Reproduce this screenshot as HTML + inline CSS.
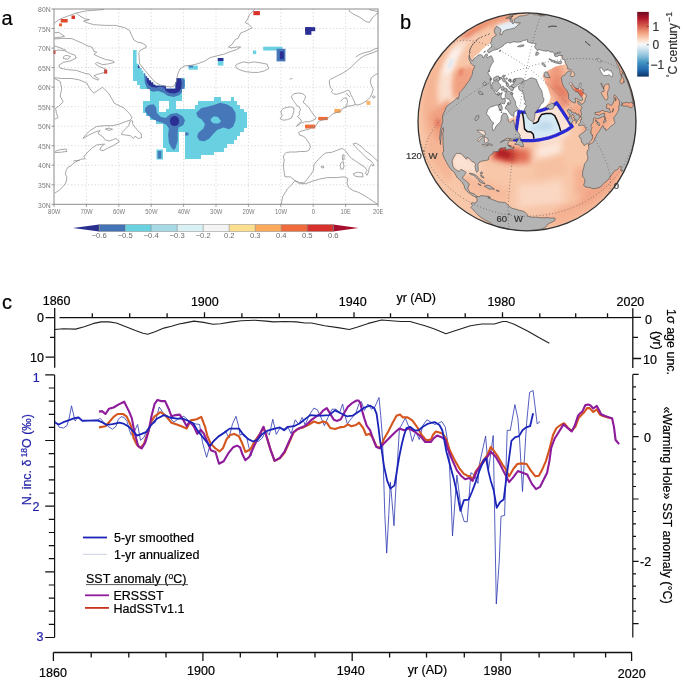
<!DOCTYPE html>
<html><head><meta charset="utf-8"><style>
html,body{margin:0;padding:0;background:#fff;}
svg{display:block;font-family:"Liberation Sans", sans-serif;will-change:transform;}
</style></head><body>
<svg width="685" height="684" viewBox="0 0 685 684">
<rect width="685" height="684" fill="#fff"/>
<text x="1.5" y="24.8" font-size="20" stroke="#000" stroke-width="0.2">a</text>
<path d="M86.4 9 V204.3 M118.8 9 V204.3 M151.2 9 V204.3 M183.6 9 V204.3 M216.0 9 V204.3 M248.4 9 V204.3 M280.8 9 V204.3 M313.2 9 V204.3 M345.6 9 V204.3 M54 28.5 H378 M54 48.1 H378 M54 67.6 H378 M54 87.1 H378 M54 106.7 H378 M54 126.2 H378 M54 145.7 H378 M54 165.2 H378 M54 184.8 H378 " stroke="#d4d4d4" stroke-width="0.9" stroke-dasharray="1.2,2.2" fill="none"/>
<defs><clipPath id="cym"><path d="M133.38 50.00h6.50v3.92h-6.50ZM133.38 53.91h6.50v3.92h-6.50ZM133.38 57.81h6.50v3.92h-6.50ZM133.38 61.72h6.50v3.92h-6.50ZM133.38 65.62h9.74v3.92h-9.74ZM133.38 69.53h12.98v3.92h-12.98ZM133.38 73.43h16.22v3.92h-16.22ZM178.74 73.43h6.50v3.92h-6.50ZM133.38 77.34h19.46v3.92h-19.46ZM175.50 77.34h9.74v3.92h-9.74ZM136.62 81.24h32.42v3.92h-32.42ZM172.26 81.24h12.98v3.92h-12.98ZM139.86 85.15h45.38v3.92h-45.38ZM149.58 89.05h32.42v3.92h-32.42ZM149.58 92.96h32.42v3.92h-32.42ZM149.58 96.86h32.42v3.92h-32.42ZM214.38 96.86h6.50v3.92h-6.50ZM230.58 96.86h3.26v3.92h-3.26ZM143.10 100.77h16.22v3.92h-16.22ZM169.02 100.77h6.50v3.92h-6.50ZM198.18 100.77h38.90v3.92h-38.90ZM143.10 104.67h16.22v3.92h-16.22ZM169.02 104.67h6.50v3.92h-6.50ZM194.94 104.67h45.38v3.92h-45.38ZM143.10 108.58h16.22v3.92h-16.22ZM165.78 108.58h77.78v3.92h-77.78ZM146.34 112.48h100.46v3.92h-100.46ZM149.58 116.39h97.22v3.92h-97.22ZM156.06 120.29h90.74v3.92h-90.74ZM162.54 124.20h84.26v3.92h-84.26ZM162.54 128.10h81.02v3.92h-81.02ZM162.54 132.01h16.22v3.92h-16.22ZM185.22 132.01h55.10v3.92h-55.10ZM162.54 135.91h16.22v3.92h-16.22ZM185.22 135.91h51.86v3.92h-51.86ZM162.54 139.82h16.22v3.92h-16.22ZM185.22 139.82h48.62v3.92h-48.62ZM162.54 143.72h16.22v3.92h-16.22ZM185.22 143.72h42.14v3.92h-42.14ZM165.78 147.63h12.98v3.92h-12.98ZM185.22 147.63h38.90v3.92h-38.90ZM185.22 151.53h29.18v3.92h-29.18ZM185.22 155.44h16.22v3.92h-16.22Z"/></clipPath><clipPath id="sea"><polygon points="120,45 136.6,45 136.6,50.6 136.6,63.8 138.8,63.8 138.8,66.4 139.6,66.4 139.6,68.1 141.4,68.1 141.4,70.8 143.1,70.8 143.1,73.4 145.3,73.4 145.3,76 147.1,76 147.1,78.2 148.8,78.2 148.8,80.4 151,80.4 151,82.6 153.2,82.6 153.2,84.8 155.4,84.8 155.4,85.7 165.9,85.7 165.9,88.7 175.5,88.7 175.5,82.2 176.4,82.2 176.4,78.2 182.5,78.2 186.5,78.2 186.5,90 260,90 260,170 120,170"/></clipPath></defs>
<g clip-path="url(#sea)">
<g fill="#68d0e1" shape-rendering="crispEdges"><path d="M133.38 50.00h6.50v3.92h-6.50ZM133.38 53.91h6.50v3.92h-6.50ZM133.38 57.81h6.50v3.92h-6.50ZM133.38 61.72h6.50v3.92h-6.50ZM133.38 65.62h9.74v3.92h-9.74ZM133.38 69.53h12.98v3.92h-12.98ZM133.38 73.43h16.22v3.92h-16.22ZM178.74 73.43h6.50v3.92h-6.50ZM133.38 77.34h19.46v3.92h-19.46ZM175.50 77.34h9.74v3.92h-9.74ZM136.62 81.24h32.42v3.92h-32.42ZM172.26 81.24h12.98v3.92h-12.98ZM139.86 85.15h45.38v3.92h-45.38ZM149.58 89.05h32.42v3.92h-32.42ZM149.58 92.96h32.42v3.92h-32.42ZM149.58 96.86h32.42v3.92h-32.42ZM214.38 96.86h6.50v3.92h-6.50ZM230.58 96.86h3.26v3.92h-3.26ZM143.10 100.77h16.22v3.92h-16.22ZM169.02 100.77h6.50v3.92h-6.50ZM198.18 100.77h38.90v3.92h-38.90ZM143.10 104.67h16.22v3.92h-16.22ZM169.02 104.67h6.50v3.92h-6.50ZM194.94 104.67h45.38v3.92h-45.38ZM143.10 108.58h16.22v3.92h-16.22ZM165.78 108.58h77.78v3.92h-77.78ZM146.34 112.48h100.46v3.92h-100.46ZM149.58 116.39h97.22v3.92h-97.22ZM156.06 120.29h90.74v3.92h-90.74ZM162.54 124.20h84.26v3.92h-84.26ZM162.54 128.10h81.02v3.92h-81.02ZM162.54 132.01h16.22v3.92h-16.22ZM185.22 132.01h55.10v3.92h-55.10ZM162.54 135.91h16.22v3.92h-16.22ZM185.22 135.91h51.86v3.92h-51.86ZM162.54 139.82h16.22v3.92h-16.22ZM185.22 139.82h48.62v3.92h-48.62ZM162.54 143.72h16.22v3.92h-16.22ZM185.22 143.72h42.14v3.92h-42.14ZM165.78 147.63h12.98v3.92h-12.98ZM185.22 147.63h38.90v3.92h-38.90ZM185.22 151.53h29.18v3.92h-29.18ZM185.22 155.44h16.22v3.92h-16.22Z"/></g>
<g clip-path="url(#cym)">
<polygon points="139,66 142,70 144,74.3 144.9,83 147.5,89.2 152.8,91.8 158,90.9 163.3,92.7 167.7,95.7 173.8,97 179,95.3 182.5,91.8 184.7,86.5 184.7,80.4 182.5,77 178,75 174,82 168,84 156,83 150,78 145,72 141,66" fill="#4677b8"/>
<polygon points="146.6,77 146.6,81.3 148.4,84.8 151.9,87 156.3,87.4 160.6,86.5 164.2,87.4 165.9,90.9 169.4,93.1 174.7,93.5 179,91.8 181.2,88.3 181.7,83 180.8,78.6 178,77 176,79 175,87 166,86 156,84.5 151,81 148,77.5" fill="#2b2f93"/>
<rect x="137.9" y="65.3" width="1.9" height="2.8" fill="#2b2f93"/>
<polygon points="145.6,107.5 148.8,105.1 153.7,104.3 156.1,107.5 156.9,113.1 160.9,117.1 165.7,117.9 170.5,113.9 176.9,113.1 182.6,116.3 185,120.3 183.4,125.1 178.5,127.6 177.7,133.2 177.7,141.2 175.3,148.4 173.7,150 171.3,147.6 168.9,142.8 168.1,134.8 168.9,128.4 166.5,125.1 162.5,122.7 156.1,121.1 151.2,117.9 147.2,114.7 144.8,110.7" fill="#4677b8"/>
<polygon points="196.2,113.1 201,108.3 207.4,106.7 213.9,105.1 220.3,102.7 226.7,104.3 232.3,107.5 235.6,113.1 235.6,120.3 233.1,126.8 229.1,129.2 223.5,127.6 217.1,130 213.1,134 209.1,138.8 204.2,141.2 199.4,140.4 197,136.4 198.6,132.4 203.4,128.4 205,124.3 201.8,119.5 197.8,117.1" fill="#4677b8"/>
<polygon points="210.7,118.7 213.9,116.3 217.9,117.1 221.1,121.1 218.7,123.5 213.9,123.5 211,121.6" fill="#68d0e1"/>
<ellipse cx="174.5" cy="121.1" rx="4.6" ry="5" fill="#2b2f93"/>
<ellipse cx="186.6" cy="134" rx="2.2" ry="1.8" fill="#4677b8"/>
</g></g>
<rect x="156.5" y="149.5" width="6.5" height="10" fill="#68d0e1"/>
<rect x="157.7" y="151" width="3.6" height="7.5" fill="#4677b8"/>
<rect x="188.6" y="65.6" width="9.2" height="4.1" fill="#68d0e1"/>
<rect x="188.6" y="65.6" width="4.4" height="1.8" fill="#4677b8"/>
<rect x="217.8" y="58" width="5.6" height="7.6" fill="#68d0e1"/>
<rect x="217.8" y="58" width="5.6" height="3" fill="#2b2f93"/>
<rect x="253" y="50.5" width="3.2" height="3.6" fill="#68d0e1"/>
<rect x="263.2" y="46.7" width="19.2" height="3.8" fill="#68d0e1"/>
<rect x="276.6" y="48.8" width="8.8" height="12.6" fill="#4677b8"/>
<rect x="279.8" y="51.4" width="4" height="7.9" fill="#2b2f93"/>
<rect x="305.2" y="27.2" width="10" height="4" fill="#2b2f93"/>
<rect x="305.2" y="27.2" width="6.2" height="7.6" fill="#2b2f93"/>
<rect x="60.7" y="19" width="7" height="3.5" fill="#df4b2c"/>
<rect x="59" y="23.4" width="3" height="2.9" fill="#e8643a"/>
<rect x="71.5" y="15.5" width="3.5" height="3.5" fill="#d9362a"/>
<rect x="53.4" y="50.2" width="2.1" height="3.8" fill="#d9362a"/>
<rect x="104" y="69.5" width="3.2" height="4.1" fill="#d9362a"/>
<rect x="253.4" y="11.1" width="6.5" height="4.1" fill="#d8302a"/>
<rect x="305" y="124.6" width="10.3" height="3.9" fill="#ee6b3b"/>
<rect x="318.2" y="116.9" width="9.6" height="3.2" fill="#ee6b3b"/>
<rect x="334.3" y="108.9" width="6.4" height="4" fill="#fbaa5c"/>
<rect x="366.4" y="100.9" width="4" height="4" fill="#fbb46a"/>
<polyline points="54.5,23.2 58.8,19.6 66.1,16.7 76.3,13 86.5,10.8 96.7,10.1 104,9.5" fill="none" stroke="#8a8a8a" stroke-width="0.75" stroke-linejoin="round"/>
<polyline points="76.3,13 80,16 85,18.9 89.4,19.6 83.6,21.1 88.7,23.2 93.8,24.7 105.5,25.4 115.7,25.4 124.5,27.6 129.6,30.5 131.8,35.7 133.9,40 137.6,42.2 142,43 145.6,45.1 146.4,47.3 143.4,48.8 140,50.5 138.8,52.4 139.2,57.6 139.6,63.8 143.1,68.1 147.5,73.4 151.9,78.6 156.3,83 160.6,85.2 166.8,86.5 171.2,87 174.7,85.7 176.4,81.3 177.7,74.3 179.9,69 184.3,66 187.8,65.5 190.8,65.4 197.8,63.7 204.8,61.1 210.1,57.6 217.1,55.8 224.1,54.1 231.1,51.4 236.4,49.7 240.7,47 237.2,47 231.1,47.9 228.5,47 232,44.4 235.5,39.2 238.1,38.3 240.7,33 245.1,31.3 248.6,29.5 252.1,27.8 248.6,24.3 245.1,22.5 247.7,19 249.5,14.6 252.1,12 254.8,9.5" fill="none" stroke="#8a8a8a" stroke-width="0.75" stroke-linejoin="round"/>
<polyline points="54.4,32.7 58.8,32.5 64.6,36.4 60,37.2 54.4,37.8" fill="none" stroke="#8a8a8a" stroke-width="0.75" stroke-linejoin="round"/>
<polyline points="54.4,39 62,38.4 71.9,38.6 76,40.5 82.1,43 86.5,45.5 92.3,47.3 93.9,51.4 96.8,52.2 93.9,54.4 98.2,56.5 105.6,59.5 112.9,60.9 114.3,62.4 108.5,63.9 102.6,64.6 96.8,62.4 95.3,63.9 99.7,66.8 105.6,69 104.1,72.6 98.2,74.1 93.9,75.6 99,79.2 98.2,80.2 92.4,77.7 89.5,74.1 85.1,73.4 76.3,70.4 67.5,69.7 60.2,68.2 58.8,65.3 63.2,62.4 70.5,60.9 76.3,58 74.9,55.1 70.5,53.6 64.6,50.7 58.8,50 54.4,50.7" fill="none" stroke="#8a8a8a" stroke-width="0.75" stroke-linejoin="round"/>
<polyline points="54.4,46 58.8,47.3 66.1,50.3" fill="none" stroke="#8a8a8a" stroke-width="0.75" stroke-linejoin="round"/>
<polyline points="63.2,57 66,55.2 70.5,56.5 68,59.3 63.5,58.6 63.2,57" fill="none" stroke="#8a8a8a" stroke-width="0.75" stroke-linejoin="round"/>
<polyline points="54.4,77.7 61.7,78.5 71.9,78.5 79.2,79.9 86.5,82.9 90.9,90.2 93.9,93.1 98.2,90.2 102.6,87.3 108.5,93.1 112.6,100 114.2,103.2 119.1,105.6 123.9,108 127.1,111.2 130.3,114.5 131.9,117.7 130.3,120.1 125.5,121.7 119.1,124.1 112.6,125.7 104.6,125.7 96.6,126.5 90.1,130.5 85.3,135.3 82.9,138.5 88.5,135.3 95,132.1 99.8,130.5 98.2,133.7 103,136.9 105.4,140.1 109.4,141 113.4,139.3 115.8,138.5 119.1,141 119.1,141.8 114.2,145 107.8,148.2 103,150.6 99.8,149.8 101.4,146.6 104.6,144.2 103,144.2 96.6,145 91.8,148.2 86.9,153 83.7,157 85.3,158.6 80.5,159.4 75.7,161.8 73.3,163.4 70.9,165.8 67.7,167.4 66.1,170.7 65.3,173.9 66.9,177.1 66.1,181.9 64.5,185.1 59.6,189.9 54.8,193.1" fill="none" stroke="#8a8a8a" stroke-width="0.75" stroke-linejoin="round"/>
<polyline points="54.4,78.5 60.2,81.4 61.7,88.7 60.2,96 63.2,101.9 58.8,106.3 55.6,108 56.4,112.8 58,117.7 55,119" fill="none" stroke="#8a8a8a" stroke-width="0.75" stroke-linejoin="round"/>
<polyline points="130.3,120.9 128.7,125.7 125.5,128.9 122.3,132.1 121.5,134.5 125.5,135 130.3,135.7 133.5,138.5 135.1,136.1 138.3,138.5 141.5,137.7 141.2,133.7 138.3,131.3 135.1,127.3 132.7,124.1 132.7,120.9 130.3,120.9" fill="none" stroke="#8a8a8a" stroke-width="0.75" stroke-linejoin="round"/>
<polyline points="105.4,129 109,128.1 112.6,129.3 109,130.5 105.4,129" fill="none" stroke="#8a8a8a" stroke-width="0.75" stroke-linejoin="round"/>
<polyline points="54.8,151.4 59.6,149.8 66.1,149 66.9,151.4 61.2,152.2 54.8,152.6" fill="none" stroke="#8a8a8a" stroke-width="0.75" stroke-linejoin="round"/>
<polyline points="73.3,161 79.7,160.2" fill="none" stroke="#8a8a8a" stroke-width="0.75" stroke-linejoin="round"/>
<polyline points="235.5,65.4 238.1,63.7 243.4,61.9 248.6,62.8 253.9,61.9 260,62.8 264,63.5 267.2,64.2 268.6,68.6 264,71 258.4,72.4 252.1,72.4 245.1,71.6 239.9,69.8 236.4,68.1 235.5,65.4" fill="none" stroke="#8a8a8a" stroke-width="0.75" stroke-linejoin="round"/>
<polyline points="289.8,79 292.4,78.6" fill="none" stroke="#8a8a8a" stroke-width="0.75" stroke-linejoin="round"/>
<polyline points="349.3,9.5 349.3,11.1 352.9,13.8 359.9,17.3 366,21.6 369.5,22.5 372.1,18.1 375.6,14.6 378.3,12.9" fill="none" stroke="#8a8a8a" stroke-width="0.75" stroke-linejoin="round"/>
<polyline points="369,9.5 373,10.5 378,11.5" fill="none" stroke="#8a8a8a" stroke-width="0.75" stroke-linejoin="round"/>
<polyline points="355.8,56.9 359.9,54.3 364,52.8 368.1,51.8 370.2,51.3 374.3,49.2 377.3,48.2 378,47.9" fill="none" stroke="#8a8a8a" stroke-width="0.75" stroke-linejoin="round"/>
<polyline points="378,50.5 372,53 365,55.4 361,57.9 357.9,60.5 354.8,63.5 350.7,67.6 346.6,70.7 342.5,73.3 338.4,75.3 334.3,77.4 330.2,79.4 329.2,81 329.7,85 330.8,88.1 332.8,90.2 331.3,91.7 333.3,93.8 336.4,94.3 340.5,93.2 344.6,91.7 347.6,90.2 349.7,91.2 350.7,94.3 352.8,98.4 354.3,101.4 355.3,104.5 357.9,105 361,104 364,102.5 367.1,100.4 370.2,97.3 372.2,93.2 373.2,89.1 371.2,85 370.2,81 371.2,77.9 374.3,75.3 377.3,73.8 378,73.5" fill="none" stroke="#8a8a8a" stroke-width="0.75" stroke-linejoin="round"/>
<polyline points="372.2,96.5 374,95.8 375.3,97 373.5,98.4 372.2,96.5" fill="none" stroke="#8a8a8a" stroke-width="0.75" stroke-linejoin="round"/>
<polyline points="340.5,101.4 343.5,98.4 346.6,97.8 347.6,101.4 346.6,105.5 345,107.5 342.5,108.5 340.5,111.5 336.4,112.6 333.3,113.6 330.8,115.6 328.2,118.2 324.1,119.7 320,120.7 318,121.8 317,124.3 313.9,127.4 310.8,127.9 308.8,129.4 305.7,130 301.6,131 298.5,132.5 299.6,135.1 303.1,136.1 305.7,138.1 307.7,141.2 309.8,144.3 310.3,147.4 308.8,150.4 305.7,151.5 300.6,151.5 295.5,152 290.4,152 286.3,152.5 284.2,154.5 283.4,157 284.2,159.9 283.4,166.1 284.2,172.2 285,176.8 290.3,176.8 294.9,180.6 299.5,182.5 304.1,182.9 307.2,179.1 310.3,175.3 313.3,170.7 314.1,164.5 317.9,159.9 322.5,155.3 325.6,153 331.7,152.3 337.8,150 342.4,148.4 345.5,150.7 348.6,155.3 351.6,158.4 356.2,161.5 360.8,164.5 365.4,167.6 367,170.7 365.4,173 367,175.3 368.5,172.2 369.3,167.6 371.6,164.5 373.1,166.1 374,165 371,161 367,158.4 362.4,153.8 357.8,149.2 354.7,146.1 353.2,143.8 356.2,143.1 360.8,146.1 365.4,150.7 371.6,155.3 376.2,159.9 378,161.5" fill="none" stroke="#8a8a8a" stroke-width="0.75" stroke-linejoin="round"/>
<polyline points="345,107.5 348,106 352,105.7 355.3,104.5" fill="none" stroke="#8a8a8a" stroke-width="0.75" stroke-linejoin="round"/>
<polyline points="346.5,93 348,95 350,97" fill="none" stroke="#8a8a8a" stroke-width="0.75" stroke-linejoin="round"/>
<polyline points="291.4,96.2 294.4,93.6 298.5,93.1 302.6,93.6 305.7,96.2 304.7,99.3 303.1,102.3 305.7,104.4 308.8,107.4 311.3,111.5 313.9,115.1 315.9,117.2 315.4,119.2 311.8,120.7 308.8,121.8 304.7,121.8 300.6,123.3 296.5,126.4 298.5,123.8 301.6,121.3 300.1,118.7 297.5,116.7 299.6,114.6 299.1,112.1 300.6,110 299.6,107.4 297,105.9 295.5,103.4 293.9,101.3 292.4,99.3 291.4,96.2" fill="none" stroke="#8a8a8a" stroke-width="0.75" stroke-linejoin="round"/>
<polyline points="281.1,111 283.2,108.5 286.8,107.4 290.4,106.9 293.9,108 293.9,111 292.9,114.6 291.4,118.2 287.3,119.7 283.2,120.2 280.1,118.7 282.2,115.6 281.1,113.1 281.1,111" fill="none" stroke="#8a8a8a" stroke-width="0.75" stroke-linejoin="round"/>
<polyline points="342.4,155.3 344,154.6 344,159.9 342.4,159.9 342.4,155.3" fill="none" stroke="#8a8a8a" stroke-width="0.75" stroke-linejoin="round"/>
<polyline points="340.9,163 343.2,161.5 344,166.1 343.2,169.1 340.9,169.1 340.1,165.3 340.9,163" fill="none" stroke="#8a8a8a" stroke-width="0.75" stroke-linejoin="round"/>
<polyline points="353.2,173.7 357.8,172.2 362.4,173 363.1,176.8 358.5,176.8 354.7,176 353.2,173.7" fill="none" stroke="#8a8a8a" stroke-width="0.75" stroke-linejoin="round"/>
<polyline points="321,166.5 323,166 324,167.5 322,168 321,166.5" fill="none" stroke="#8a8a8a" stroke-width="0.75" stroke-linejoin="round"/>
<polyline points="281.1,204.4 282.7,196.7 287.3,189 291.9,184.5 294.9,180.6 299.5,183.7 305.7,183.7 311.8,181.4 319.5,179.1 327.1,177.6 336.3,177.6 344,176.8 347.8,178.3 347,182.9 348.6,187.5 353.2,190.6 357.8,192.1 363.9,195.2 368.5,198.2 373.1,201.3 376.9,203.6" fill="none" stroke="#8a8a8a" stroke-width="0.75" stroke-linejoin="round"/>
<rect x="54" y="9" width="324" height="195.3" fill="none" stroke="#8c8c8c" stroke-width="1"/>
<path d="M51.5 9.0 H54 M51.5 28.5 H54 M51.5 48.1 H54 M51.5 67.6 H54 M51.5 87.1 H54 M51.5 106.7 H54 M51.5 126.2 H54 M51.5 145.7 H54 M51.5 165.2 H54 M51.5 184.8 H54 M51.5 204.3 H54 M54.0 204.3 V206.8 M86.4 204.3 V206.8 M118.8 204.3 V206.8 M151.2 204.3 V206.8 M183.6 204.3 V206.8 M216.0 204.3 V206.8 M248.4 204.3 V206.8 M280.8 204.3 V206.8 M313.2 204.3 V206.8 M345.6 204.3 V206.8 M378.0 204.3 V206.8 " stroke="#8c8c8c" stroke-width="0.9"/>
<text x="50.6" y="12.2" font-size="7.4" fill="#7a7a7a" text-anchor="end" textLength="12.5" lengthAdjust="spacingAndGlyphs">80N</text>
<text x="50.6" y="31.7" font-size="7.4" fill="#7a7a7a" text-anchor="end" textLength="12.5" lengthAdjust="spacingAndGlyphs">75N</text>
<text x="50.6" y="51.3" font-size="7.4" fill="#7a7a7a" text-anchor="end" textLength="12.5" lengthAdjust="spacingAndGlyphs">70N</text>
<text x="50.6" y="70.8" font-size="7.4" fill="#7a7a7a" text-anchor="end" textLength="12.5" lengthAdjust="spacingAndGlyphs">65N</text>
<text x="50.6" y="90.3" font-size="7.4" fill="#7a7a7a" text-anchor="end" textLength="12.5" lengthAdjust="spacingAndGlyphs">60N</text>
<text x="50.6" y="109.9" font-size="7.4" fill="#7a7a7a" text-anchor="end" textLength="12.5" lengthAdjust="spacingAndGlyphs">55N</text>
<text x="50.6" y="129.4" font-size="7.4" fill="#7a7a7a" text-anchor="end" textLength="12.5" lengthAdjust="spacingAndGlyphs">50N</text>
<text x="50.6" y="148.9" font-size="7.4" fill="#7a7a7a" text-anchor="end" textLength="12.5" lengthAdjust="spacingAndGlyphs">45N</text>
<text x="50.6" y="168.4" font-size="7.4" fill="#7a7a7a" text-anchor="end" textLength="12.5" lengthAdjust="spacingAndGlyphs">40N</text>
<text x="50.6" y="188.0" font-size="7.4" fill="#7a7a7a" text-anchor="end" textLength="12.5" lengthAdjust="spacingAndGlyphs">35N</text>
<text x="50.6" y="207.5" font-size="7.4" fill="#7a7a7a" text-anchor="end" textLength="12.5" lengthAdjust="spacingAndGlyphs">30N</text>
<text x="54.2" y="214" font-size="7.4" fill="#7a7a7a" text-anchor="middle" textLength="12.2" lengthAdjust="spacingAndGlyphs">80W</text>
<text x="86.6" y="214" font-size="7.4" fill="#7a7a7a" text-anchor="middle" textLength="12.2" lengthAdjust="spacingAndGlyphs">70W</text>
<text x="119.0" y="214" font-size="7.4" fill="#7a7a7a" text-anchor="middle" textLength="12.2" lengthAdjust="spacingAndGlyphs">60W</text>
<text x="151.4" y="214" font-size="7.4" fill="#7a7a7a" text-anchor="middle" textLength="12.2" lengthAdjust="spacingAndGlyphs">50W</text>
<text x="183.8" y="214" font-size="7.4" fill="#7a7a7a" text-anchor="middle" textLength="12.2" lengthAdjust="spacingAndGlyphs">40W</text>
<text x="216.2" y="214" font-size="7.4" fill="#7a7a7a" text-anchor="middle" textLength="12.2" lengthAdjust="spacingAndGlyphs">30W</text>
<text x="248.6" y="214" font-size="7.4" fill="#7a7a7a" text-anchor="middle" textLength="12.2" lengthAdjust="spacingAndGlyphs">20W</text>
<text x="281.0" y="214" font-size="7.4" fill="#7a7a7a" text-anchor="middle" textLength="12.2" lengthAdjust="spacingAndGlyphs">10W</text>
<text x="313.4" y="214" font-size="7.4" fill="#7a7a7a" text-anchor="middle" textLength="3.3" lengthAdjust="spacingAndGlyphs">0</text>
<text x="345.8" y="214" font-size="7.4" fill="#7a7a7a" text-anchor="middle" textLength="10.5" lengthAdjust="spacingAndGlyphs">10E</text>
<text x="378.2" y="214" font-size="7.4" fill="#7a7a7a" text-anchor="middle" textLength="10.5" lengthAdjust="spacingAndGlyphs">20E</text>
<polygon points="72.8,228 99.2,224.5 99.2,231.5" fill="#2a2f8e"/>
<rect x="99.2" y="224.5" width="26.0" height="7" fill="#4474b6"/>
<rect x="125.2" y="224.5" width="26.0" height="7" fill="#6ad1df"/>
<rect x="151.2" y="224.5" width="26.0" height="7" fill="#a6d9e6"/>
<rect x="177.2" y="224.5" width="26.0" height="7" fill="#d9f0f4"/>
<rect x="203.2" y="224.5" width="26.0" height="7" fill="#f4f4f4"/>
<rect x="229.2" y="224.5" width="26.0" height="7" fill="#fde08f"/>
<rect x="255.2" y="224.5" width="26.0" height="7" fill="#fbaa5c"/>
<rect x="281.2" y="224.5" width="26.0" height="7" fill="#f06b3c"/>
<rect x="307.2" y="224.5" width="26.0" height="7" fill="#d8302a"/>
<polygon points="333.2,224.5 358.5,228 333.2,231.5" fill="#a50e2d"/>
<path d="M99.2 224.5 V231.5 M125.2 224.5 V231.5 M151.2 224.5 V231.5 M177.2 224.5 V231.5 M203.2 224.5 V231.5 M229.2 224.5 V231.5 M255.2 224.5 V231.5 M281.2 224.5 V231.5 M307.2 224.5 V231.5 M333.2 224.5 V231.5 " stroke="#777" stroke-width="0.5"/>
<rect x="99.2" y="224.5" width="234.0" height="7" fill="none" stroke="#888" stroke-width="0.5"/>
<text x="99.2" y="238" font-size="7.6" fill="#6a6a6a" text-anchor="middle">−0.6</text>
<text x="125.2" y="238" font-size="7.6" fill="#6a6a6a" text-anchor="middle">−0.5</text>
<text x="151.2" y="238" font-size="7.6" fill="#6a6a6a" text-anchor="middle">−0.4</text>
<text x="177.2" y="238" font-size="7.6" fill="#6a6a6a" text-anchor="middle">−0.3</text>
<text x="203.2" y="238" font-size="7.6" fill="#6a6a6a" text-anchor="middle">−0.2</text>
<text x="229.2" y="238" font-size="7.6" fill="#6a6a6a" text-anchor="middle">0.2</text>
<text x="255.2" y="238" font-size="7.6" fill="#6a6a6a" text-anchor="middle">0.3</text>
<text x="281.2" y="238" font-size="7.6" fill="#6a6a6a" text-anchor="middle">0.4</text>
<text x="307.2" y="238" font-size="7.6" fill="#6a6a6a" text-anchor="middle">0.5</text>
<text x="333.2" y="238" font-size="7.6" fill="#6a6a6a" text-anchor="middle">0.6</text>
<text x="400" y="29" font-size="20" stroke="#000" stroke-width="0.2">b</text>
<defs><clipPath id="disc"><circle cx="527" cy="121.8" r="109"/></clipPath><filter id="bl" x="-20%" y="-20%" width="140%" height="140%"><feGaussianBlur stdDeviation="3"/></filter><filter id="bl2" x="-20%" y="-20%" width="140%" height="140%"><feGaussianBlur stdDeviation="1.5"/></filter></defs>
<g clip-path="url(#disc)">
<circle cx="527" cy="121.8" r="109" fill="#f8c7a9"/>
<defs><filter id="z1_2" x="-30%" y="-30%" width="160%" height="160%"><feGaussianBlur stdDeviation="1.2"/></filter><filter id="z1_5" x="-30%" y="-30%" width="160%" height="160%"><feGaussianBlur stdDeviation="1.5"/></filter><filter id="z2" x="-30%" y="-30%" width="160%" height="160%"><feGaussianBlur stdDeviation="2"/></filter><filter id="z2_2" x="-30%" y="-30%" width="160%" height="160%"><feGaussianBlur stdDeviation="2.2"/></filter><filter id="z2_5" x="-30%" y="-30%" width="160%" height="160%"><feGaussianBlur stdDeviation="2.5"/></filter><filter id="z3" x="-30%" y="-30%" width="160%" height="160%"><feGaussianBlur stdDeviation="3"/></filter><filter id="z3_5" x="-30%" y="-30%" width="160%" height="160%"><feGaussianBlur stdDeviation="3.5"/></filter></defs>
<path d="M446.0,48.8 L444.9,50.1 L443.8,51.4 L442.7,52.7 L441.7,54.0 L440.6,55.3 L439.6,56.6 L438.6,58.0 L437.7,59.3 L436.7,60.7 L435.8,62.1 L434.9,63.5 L434.0,64.9 L433.2,66.3 L432.4,67.7 L431.6,69.2 L430.8,70.6 L430.1,72.1 L429.4,73.5 L428.7,75.0 L428.1,76.5 L427.5,78.0 L426.9,79.5 L426.3,81.0 L425.8,82.6 L425.3,84.1 L424.8,85.6 L424.4,87.2 L424.0,88.7 L423.6,90.3 L423.3,91.9 L423.0,93.4 L422.7,95.0 L422.5,96.6 L422.3,98.2 L422.1,99.7 L422.0,101.3 L421.9,102.9 L421.8,104.5 L421.7,106.1 L421.7,107.7 L421.7,109.3 L421.8,110.9 L421.9,112.5 L422.0,114.1 L422.1,115.6 L422.3,117.2 L422.5,118.8 L422.7,120.4 L423.0,122.0 L423.3,123.5 L423.6,125.1 L424.0,126.7 L424.4,128.2 L424.8,129.8 L425.3,131.3 L425.8,132.8 L426.3,134.4 L426.9,135.9 L427.5,137.4 L428.1,138.9 L428.7,140.4 L429.4,141.9 L430.1,143.3 L430.8,144.8 L431.6,146.2 L432.4,147.7 L433.2,149.1 L434.0,150.5 L434.9,151.9 L435.8,153.3 L436.8,154.7 L437.7,156.0 L438.7,157.4 L439.7,158.7 L440.8,160.0 L441.8,161.3 L442.9,162.6 L444.0,163.8 L445.2,165.1 L446.3,166.3 L446.7,165.1 L447.1,163.9 L447.6,162.7 L448.1,161.4 L448.5,160.2 L449.0,158.9 L449.6,157.6 L450.1,156.4 L450.7,155.1 L451.3,153.8 L452.0,152.4 L452.6,151.1 L453.3,149.8 L454.0,148.4 L454.7,147.1 L455.4,145.7 L456.2,144.4 L457.0,143.0 L457.8,141.6 L456.8,140.6 L455.8,139.5 L454.8,138.4 L453.9,137.3 L453.0,136.2 L452.1,135.1 L451.2,133.9 L450.4,132.8 L449.5,131.6 L448.7,130.5 L448.0,129.3 L447.2,128.1 L446.5,126.9 L445.8,125.6 L445.1,124.4 L444.4,123.2 L443.8,121.9 L443.2,120.6 L442.6,119.4 L442.1,118.1 L441.6,116.8 L441.1,115.5 L440.6,114.2 L440.1,112.9 L439.7,111.6 L439.3,110.3 L439.0,108.9 L438.6,107.6 L438.3,106.3 L438.0,104.9 L437.7,103.6 L437.5,102.2 L437.3,100.9 L437.1,99.5 L437.0,98.1 L436.9,96.8 L436.8,95.4 L436.7,94.1 L436.6,92.7 L436.6,91.3 L436.6,90.0 L436.7,88.6 L436.8,87.2 L436.9,85.9 L437.0,84.5 L437.1,83.1 L437.3,81.8 L437.5,80.4 L437.7,79.1 L438.0,77.7 L438.3,76.4 L438.6,75.1 L439.0,73.7 L439.3,72.4 L439.7,71.1 L440.1,69.8 L440.6,68.4 L441.1,67.1 L441.6,65.8 L442.1,64.6 L442.6,63.3 L443.2,62.0 L443.8,60.7 L444.4,59.5 L445.1,58.3 L445.8,57.0 L446.5,55.8 L447.2,54.6 L448.0,53.4 L448.7,52.2 L449.5,51.0 L450.4,49.9 L451.2,48.7 L452.1,47.6 L453.0,46.4 L453.9,45.3 L454.8,44.2 L455.8,43.1 L456.8,42.1 L457.8,41.0 L457.0,41.2 L456.2,41.5 L455.4,41.7 L454.7,42.0 L454.0,42.3 L453.3,42.6 L452.6,43.0 L452.0,43.4 L451.3,43.8 L450.7,44.2 L450.1,44.7 L449.6,45.1 L449.0,45.6 L448.5,46.1 L448.0,46.7 L447.5,47.2 L447.0,47.7 L446.5,48.3Z" fill="#f5b493" filter="url(#z3)"/>
<path d="M470.3,31.3 L469.1,32.1 L468.0,33.0 L466.9,33.9 L465.7,34.8 L464.6,35.8 L463.6,36.7 L462.5,37.7 L461.5,38.7 L460.4,39.7 L459.4,40.7 L458.5,41.7 L457.5,42.7 L456.6,43.8 L455.7,44.9 L454.8,46.0 L453.9,47.1 L453.0,48.2 L452.2,49.3 L451.4,50.4 L450.6,51.6 L449.9,52.7 L449.1,53.9 L448.4,55.1 L447.7,56.3 L447.1,57.5 L446.4,58.7 L445.8,59.9 L445.2,61.2 L444.7,62.4 L444.1,63.6 L443.6,64.9 L443.1,66.2 L442.7,67.4 L442.2,68.7 L441.8,70.0 L441.4,71.3 L441.1,72.6 L440.7,73.9 L440.4,75.2 L440.2,76.5 L439.9,77.8 L439.7,79.1 L439.5,80.5 L439.3,81.8 L439.2,83.1 L439.0,84.4 L438.9,85.8 L438.9,87.1 L438.8,88.4 L438.8,89.8 L438.8,91.1 L438.9,92.4 L438.9,93.8 L439.0,95.1 L439.2,96.4 L439.3,97.7 L439.5,99.1 L439.7,100.4 L439.9,101.7 L440.2,103.0 L440.4,104.3 L440.7,105.6 L441.1,106.9 L441.4,108.2 L441.8,109.5 L443.0,108.9 L444.2,108.2 L445.5,107.5 L446.8,106.8 L448.1,106.1 L449.4,105.4 L450.7,104.7 L452.1,104.0 L453.5,103.3 L454.9,102.6 L456.3,101.8 L455.9,100.8 L455.5,99.7 L455.2,98.6 L454.9,97.5 L454.6,96.4 L454.3,95.3 L454.0,94.2 L453.8,93.1 L453.6,92.0 L453.4,90.9 L453.2,89.8 L453.1,88.7 L452.9,87.6 L452.8,86.4 L452.8,85.3 L452.7,84.2 L452.7,83.1 L452.7,81.9 L452.7,80.8 L452.7,79.7 L452.8,78.6 L452.8,77.5 L452.9,76.3 L453.1,75.2 L453.2,74.1 L453.4,73.0 L453.6,71.9 L453.8,70.8 L454.0,69.7 L454.3,68.6 L454.6,67.5 L454.9,66.4 L455.2,65.3 L455.5,64.2 L455.9,63.1 L456.3,62.0 L456.7,61.0 L457.1,59.9 L457.6,58.9 L458.1,57.8 L458.6,56.8 L459.1,55.8 L459.6,54.7 L460.2,53.7 L460.8,52.7 L461.4,51.7 L462.0,50.7 L462.6,49.8 L463.3,48.8 L464.0,47.8 L464.7,46.9 L465.4,45.9 L466.1,45.0 L466.9,44.1 L467.6,43.2 L468.4,42.3 L469.2,41.4 L470.1,40.6 L470.9,39.7 L471.8,38.9 L472.6,38.0 L473.5,37.2 L474.4,36.4 L475.4,35.6 L476.3,34.9 L477.3,34.1 L478.2,33.4 L479.2,32.6 L478.3,32.4 L477.5,32.1 L476.6,31.9 L475.8,31.7 L474.9,31.6 L474.1,31.5 L473.3,31.4 L472.6,31.3 L471.8,31.3 L471.0,31.3Z" fill="#fae0d1" filter="url(#z2_5)"/>
<path d="M454.2,48.8 L453.4,49.9 L452.6,51.1 L451.9,52.2 L451.2,53.3 L450.5,54.5 L449.8,55.6 L449.2,56.8 L448.5,58.0 L447.9,59.2 L447.4,60.4 L446.8,61.6 L446.3,62.8 L445.8,64.0 L445.3,65.3 L444.9,66.5 L444.4,67.7 L444.0,69.0 L443.7,70.3 L443.3,71.5 L443.0,72.8 L442.7,74.1 L442.4,75.3 L443.6,74.8 L444.8,74.2 L446.0,73.7 L447.2,73.2 L448.5,72.6 L449.8,72.1 L451.1,71.7 L452.4,71.2 L452.7,70.1 L452.9,69.0 L453.2,67.8 L453.5,66.7 L453.9,65.6 L454.2,64.5 L454.6,63.4 L455.0,62.3 L455.4,61.2 L455.8,60.2 L456.3,59.1 L456.8,58.0 L457.3,57.0 L457.8,55.9 L458.4,54.9 L458.9,53.9 L459.5,52.8 L460.1,51.8 L460.8,50.8 L461.4,49.8 L462.1,48.8 L462.8,47.8 L461.6,47.9 L460.5,48.0 L459.4,48.0 L458.3,48.2 L457.2,48.3 L456.2,48.4 L455.2,48.6Z" fill="#fcf0ea" filter="url(#z2)"/>
<path d="M450.7,59.4 L450.2,60.5 L449.7,61.7 L449.2,62.9 L448.8,64.0 L448.3,65.2 L447.9,66.4 L447.5,67.6 L447.2,68.8 L448.4,68.4 L449.7,67.9 L450.9,67.5 L451.3,66.4 L451.6,65.2 L452.0,64.1 L452.4,63.0 L452.9,61.8 L453.3,60.7 L453.8,59.6 L454.3,58.5 L453.1,58.8 L451.9,59.1Z" fill="#dde8f4" filter="url(#z1_2)"/>
<path d="M455.2,70.3 L454.9,71.5 L454.6,72.6 L454.3,73.7 L454.0,74.9 L453.8,76.0 L453.6,77.2 L453.4,78.3 L453.2,79.5 L453.1,80.6 L452.9,81.8 L452.8,83.0 L452.8,84.2 L452.7,85.3 L452.7,86.5 L452.7,87.7 L452.7,88.9 L452.7,90.1 L452.8,91.3 L452.9,92.4 L453.0,93.6 L453.1,94.8 L453.3,96.0 L453.4,97.2 L453.6,98.4 L453.9,99.6 L455.2,98.6 L456.5,97.6 L457.9,96.7 L459.3,95.8 L460.7,94.8 L462.2,93.9 L463.6,93.0 L465.1,92.1 L466.6,91.2 L468.1,90.3 L469.7,89.4 L471.2,88.5 L472.8,87.7 L474.4,86.8 L474.2,86.0 L474.0,85.2 L473.9,84.3 L473.8,83.5 L473.7,82.7 L473.6,81.8 L473.5,81.0 L473.4,80.1 L473.4,79.3 L473.4,78.5 L473.4,77.6 L473.4,76.8 L473.4,76.0 L473.4,75.1 L473.5,74.3 L473.6,73.5 L473.7,72.7 L473.8,71.8 L473.9,71.0 L474.0,70.2 L474.2,69.4 L474.4,68.6 L474.5,67.8 L474.7,67.0 L475.0,66.2 L473.3,66.4 L471.7,66.6 L470.1,66.9 L468.5,67.2 L467.0,67.5 L465.4,67.8 L463.9,68.1 L462.4,68.4 L460.9,68.8 L459.4,69.1 L458.0,69.5 L456.6,69.9Z" fill="#f1a182" filter="url(#z2_5)"/>
<path d="M459.4,69.1 L459.2,70.2 L459.1,71.2 L458.9,72.2 L458.8,73.2 L458.7,74.3 L458.6,75.3 L458.5,76.3 L460.0,75.8 L461.5,75.3 L463.0,74.8 L463.1,73.8 L463.2,72.9 L463.3,71.9 L463.4,70.9 L463.6,70.0 L463.7,69.0 L463.9,68.1 L462.4,68.4 L460.9,68.8Z" fill="#ea8a6c" filter="url(#z1_2)"/>
<path d="M510.6,14.0 L509.0,14.3 L507.4,14.6 L505.8,14.9 L504.2,15.2 L502.6,15.6 L501.0,16.0 L499.4,16.4 L497.8,16.8 L496.3,17.3 L494.7,17.7 L493.2,18.2 L491.6,18.8 L490.1,19.3 L488.6,19.9 L487.1,20.5 L485.6,21.1 L484.1,21.7 L482.7,22.4 L481.2,23.0 L479.8,23.8 L478.4,24.5 L477.0,25.2 L475.6,26.0 L474.2,26.8 L472.9,27.6 L471.5,28.4 L470.2,29.3 L468.9,30.1 L467.6,31.0 L466.3,31.9 L465.1,32.9 L463.8,33.8 L462.6,34.8 L461.4,35.7 L460.3,36.7 L459.1,37.8 L458.0,38.8 L456.8,39.8 L457.6,39.6 L458.3,39.4 L459.1,39.1 L459.8,39.0 L460.6,38.8 L461.5,38.7 L462.3,38.6 L463.2,38.5 L464.0,38.4 L464.9,38.4 L465.9,38.4 L466.8,38.4 L467.8,38.4 L468.7,38.5 L469.7,37.6 L470.6,36.8 L471.6,35.9 L472.5,35.1 L473.5,34.3 L474.5,33.5 L475.6,32.7 L476.6,31.9 L477.7,31.2 L478.7,30.4 L479.8,29.7 L480.9,29.0 L482.0,28.3 L483.2,27.6 L484.3,27.0 L485.5,26.4 L486.6,25.7 L487.8,25.1 L489.0,24.6 L490.2,24.0 L491.4,23.4 L492.6,22.9 L493.9,22.4 L495.1,21.9 L496.4,21.4 L497.6,21.0 L498.9,20.5 L500.2,20.1 L501.5,19.7 L502.8,19.4 L504.1,19.0 L505.4,18.7 L506.7,18.4 L508.0,18.1 L509.4,17.8 L510.7,17.5 L512.0,17.3 L513.4,17.1 L513.2,16.6 L512.9,16.2 L512.7,15.9 L512.5,15.6 L512.3,15.3 L512.1,15.0 L511.9,14.8 L511.7,14.6 L511.5,14.4 L511.3,14.3 L511.1,14.2 L510.9,14.1 L510.8,14.0Z" fill="#e67b5a" filter="url(#z2_5)"/>
<path d="M511.0,18.0 L509.7,18.2 L508.4,18.5 L507.1,18.8 L505.8,19.1 L504.5,19.4 L503.2,19.8 L501.9,20.2 L500.6,20.5 L499.4,20.9 L498.1,21.4 L496.9,21.8 L495.7,22.3 L494.4,22.8 L493.2,23.3 L492.0,23.8 L490.8,24.3 L489.6,24.9 L488.5,25.5 L489.1,25.8 L489.8,26.2 L490.5,26.6 L491.2,27.0 L492.0,27.5 L492.7,28.0 L493.4,28.5 L494.5,28.0 L495.5,27.5 L496.5,27.1 L497.6,26.6 L498.6,26.2 L499.7,25.8 L500.8,25.4 L501.9,25.0 L503.0,24.6 L504.0,24.2 L505.2,23.9 L506.3,23.6 L507.4,23.3 L508.5,23.0 L509.6,22.7 L510.8,22.5 L511.9,22.2 L513.0,22.0 L512.7,21.3 L512.4,20.7 L512.1,20.1 L511.8,19.5 L511.5,19.0 L511.3,18.5Z" fill="#f2a584" filter="url(#z2)"/>
<path d="M517.2,20.0 L516.0,20.1 L514.8,20.3 L513.6,20.5 L512.4,20.7 L511.2,20.9 L510.1,21.2 L508.9,21.4 L507.7,21.7 L506.5,22.0 L505.3,22.3 L504.2,22.7 L503.0,23.0 L501.9,23.4 L500.8,23.8 L499.6,24.2 L498.5,24.6 L497.4,25.1 L496.3,25.5 L495.2,26.0 L494.1,26.5 L494.8,27.0 L495.5,27.5 L496.2,28.1 L496.9,28.7 L497.6,29.4 L498.4,30.0 L499.1,30.7 L499.9,31.4 L500.6,32.2 L501.4,32.9 L502.2,33.7 L503.0,34.6 L503.8,34.2 L504.6,33.8 L505.4,33.5 L506.2,33.2 L507.0,32.9 L507.8,32.6 L508.7,32.3 L509.5,32.0 L510.3,31.8 L511.2,31.5 L512.0,31.3 L512.9,31.1 L513.8,30.9 L514.6,30.7 L515.5,30.5 L516.4,30.3 L517.2,30.2 L518.1,30.0 L519.0,29.9 L519.9,29.8 L519.6,28.8 L519.4,27.9 L519.2,26.9 L519.0,26.0 L518.7,25.2 L518.5,24.3 L518.3,23.5 L518.1,22.8 L517.9,22.0 L517.7,21.3 L517.5,20.6Z" fill="#e6eef6" filter="url(#z1_5)"/>
<path d="M475.6,41.5 L474.8,42.3 L474.1,43.1 L473.4,43.9 L472.7,44.7 L472.0,45.5 L471.4,46.4 L470.7,47.2 L470.1,48.1 L469.5,48.9 L468.9,49.8 L468.3,50.7 L467.7,51.6 L467.2,52.5 L466.7,53.4 L466.2,54.3 L465.7,55.2 L465.2,56.1 L464.8,57.1 L464.4,58.0 L463.9,59.0 L465.4,58.8 L466.8,58.7 L468.3,58.6 L469.7,58.6 L471.2,58.5 L472.7,58.5 L474.2,58.5 L475.8,58.5 L476.1,57.7 L476.5,56.9 L476.8,56.2 L477.2,55.4 L477.6,54.7 L478.0,53.9 L478.4,53.2 L478.9,52.4 L479.3,51.7 L479.8,51.0 L480.3,50.3 L480.8,49.6 L481.3,48.9 L481.8,48.2 L482.4,47.5 L482.9,46.9 L483.5,46.2 L484.1,45.5 L484.6,44.9 L485.3,44.3 L484.0,43.8 L482.8,43.4 L481.5,43.0 L480.3,42.7 L479.1,42.4 L477.9,42.0 L476.7,41.8Z" fill="#f7c1a3" filter="url(#z2)"/>
<path d="M425.0,149.2 L425.6,150.8 L426.3,152.3 L427.0,153.8 L427.8,155.3 L428.6,156.8 L429.4,158.3 L430.2,159.7 L431.1,161.2 L432.0,162.6 L433.0,164.1 L433.9,165.5 L434.9,166.9 L435.9,168.3 L437.0,169.6 L438.1,171.0 L439.2,172.3 L440.3,173.6 L441.4,174.9 L442.6,176.2 L443.8,177.5 L445.0,178.7 L446.3,180.0 L447.6,181.2 L448.9,182.4 L450.2,183.5 L450.3,182.5 L450.5,181.4 L450.7,180.3 L450.9,179.2 L451.1,178.1 L451.3,176.9 L451.6,175.8 L451.9,174.6 L452.2,173.4 L452.6,172.2 L452.9,170.9 L453.3,169.7 L453.7,168.4 L454.1,167.2 L454.6,165.9 L455.0,164.6 L455.5,163.3 L454.3,162.2 L453.1,161.1 L451.9,159.9 L450.7,158.8 L449.6,157.6 L448.5,156.5 L447.4,155.3 L446.3,154.1 L445.2,152.8 L444.2,151.6 L443.2,150.3 L442.2,149.1 L441.3,147.8 L440.4,146.5 L439.5,145.1 L438.6,143.8 L437.8,142.5 L437.0,141.1 L436.2,139.8 L435.4,138.4 L434.7,137.0 L434.0,135.6 L433.3,134.2 L432.6,132.7 L432.0,131.3 L431.4,132.4 L430.8,133.5 L430.2,134.6 L429.6,135.7 L429.0,136.7 L428.5,137.8 L428.1,138.9 L427.6,139.9 L427.2,141.0 L426.8,142.0 L426.5,143.1 L426.1,144.1 L425.8,145.2 L425.6,146.2 L425.3,147.2 L425.1,148.2Z" fill="#f5b696" filter="url(#z3)"/>
<path d="M428.9,114.6 L429.2,116.2 L429.4,117.8 L429.7,119.4 L430.1,121.0 L430.4,122.5 L430.8,124.1 L431.2,125.7 L431.7,127.2 L432.1,128.8 L432.6,130.3 L433.2,131.9 L433.7,133.4 L434.3,135.0 L435.0,136.5 L435.6,138.0 L436.3,139.5 L437.0,141.0 L437.8,142.5 L438.3,141.1 L438.9,139.8 L439.5,138.5 L440.1,137.2 L440.8,135.8 L441.5,134.5 L442.2,133.1 L443.0,131.8 L443.8,130.5 L444.6,129.1 L445.4,127.8 L446.2,126.4 L447.1,125.1 L448.0,123.8 L449.0,122.4 L449.9,121.1 L450.9,119.8 L452.0,118.5 L451.6,117.0 L451.4,115.5 L451.1,114.0 L450.9,112.6 L450.7,111.1 L450.5,109.6 L450.4,108.2 L450.3,106.7 L450.2,105.3 L450.2,103.8 L450.2,102.4 L450.2,100.9 L450.2,99.5 L450.3,98.1 L449.0,98.9 L447.7,99.7 L446.4,100.5 L445.2,101.3 L444.0,102.1 L442.8,102.9 L441.6,103.8 L440.5,104.6 L439.4,105.4 L438.3,106.3 L437.2,107.1 L436.2,107.9 L435.2,108.8 L434.2,109.6 L433.3,110.4 L432.3,111.3 L431.4,112.1 L430.6,112.9 L429.7,113.8Z" fill="#f0a182" filter="url(#z2_5)"/>
<path d="M434.5,121.1 L435.0,122.5 L435.6,123.9 L436.1,125.3 L436.7,126.6 L437.4,128.0 L438.0,129.4 L438.8,128.2 L439.7,127.1 L440.5,125.9 L441.5,124.8 L440.8,123.5 L440.2,122.2 L439.7,120.9 L439.1,119.5 L438.6,118.2 L438.1,116.9 L437.2,117.9 L436.3,119.0 L435.4,120.0Z" fill="#e57e62" filter="url(#z1_5)"/>
<path d="M450.0,165.0 L451.2,166.2 L452.4,167.3 L453.7,168.4 L455.0,169.5 L456.3,170.6 L457.6,171.7 L459.0,172.7 L460.4,173.7 L461.8,174.7 L463.2,175.7 L464.6,176.7 L466.1,177.6 L467.5,178.5 L469.0,179.4 L470.5,180.3 L472.1,181.1 L473.6,181.9 L475.2,182.7 L475.5,181.4 L475.8,180.0 L476.1,178.6 L476.5,177.2 L476.8,175.8 L477.2,174.3 L477.6,172.9 L478.0,171.4 L478.4,169.9 L478.9,168.4 L479.3,166.9 L479.8,165.3 L478.4,164.6 L477.0,163.9 L475.6,163.1 L474.2,162.3 L472.9,161.5 L471.5,160.7 L470.2,159.8 L468.9,159.0 L467.6,158.1 L466.3,157.2 L465.1,156.2 L463.8,155.3 L462.6,154.3 L461.4,153.4 L460.3,152.4 L459.1,151.3 L458.0,150.3 L456.8,149.3 L456.2,150.6 L455.5,152.0 L454.8,153.3 L454.2,154.7 L453.6,156.0 L453.0,157.3 L452.4,158.6 L451.9,159.9 L451.4,161.2 L450.9,162.5 L450.4,163.8Z" fill="#fbe2d3" filter="url(#z2_5)"/>
<path d="M460.9,185.6 L462.4,186.6 L463.9,187.5 L465.4,188.5 L467.0,189.4 L468.5,190.3 L470.1,191.2 L471.7,192.0 L473.3,192.8 L475.0,193.6 L476.6,194.4 L478.3,195.2 L479.9,195.9 L481.6,196.6 L483.3,197.3 L485.1,197.9 L486.8,198.5 L488.5,199.1 L490.3,199.7 L492.1,200.2 L493.8,200.7 L495.6,201.2 L497.4,201.7 L499.2,202.1 L501.0,202.5 L502.9,202.9 L504.7,203.3 L506.5,203.6 L508.4,203.9 L508.4,202.7 L508.5,201.4 L508.6,200.1 L508.6,198.8 L508.7,197.5 L508.8,196.1 L508.9,194.8 L509.0,193.4 L509.1,192.0 L509.2,190.5 L509.3,189.1 L509.5,187.6 L507.7,187.3 L506.0,187.0 L504.3,186.7 L502.6,186.3 L500.8,185.9 L499.1,185.5 L497.5,185.1 L495.8,184.6 L494.1,184.1 L492.4,183.6 L490.8,183.1 L489.1,182.5 L487.5,181.9 L485.9,181.3 L484.3,180.7 L482.7,180.0 L481.1,179.4 L479.6,178.7 L478.0,177.9 L476.5,177.2 L474.9,176.4 L473.4,175.6 L472.0,174.8 L470.5,173.9 L469.0,173.1 L467.6,172.2 L466.2,171.3 L464.8,170.4 L464.4,171.7 L463.9,173.1 L463.5,174.4 L463.2,175.7 L462.8,177.0 L462.5,178.3 L462.2,179.5 L461.9,180.8 L461.6,182.0 L461.4,183.2 L461.1,184.4Z" fill="#f6bb9c" filter="url(#z3)"/>
<path d="M488.6,157.6 L490.0,158.1 L491.4,158.5 L492.8,159.0 L494.3,159.4 L495.7,159.8 L497.2,160.1 L498.6,160.5 L500.1,160.8 L501.5,161.1 L503.0,161.4 L504.5,161.7 L506.0,161.9 L507.5,162.1 L509.0,162.3 L510.5,162.5 L512.0,162.6 L513.5,162.7 L515.0,162.8 L516.5,162.9 L518.0,163.0 L519.5,163.0 L521.0,163.0 L522.5,163.0 L524.0,163.0 L525.5,162.9 L527.0,162.8 L528.5,162.7 L530.0,162.6 L530.0,160.9 L529.9,159.3 L529.9,157.6 L529.8,155.9 L529.8,154.2 L529.8,152.5 L529.7,150.8 L529.7,149.1 L528.3,149.1 L527.0,149.1 L525.7,149.1 L524.3,149.1 L523.0,149.0 L521.7,148.9 L520.3,148.8 L519.0,148.7 L517.7,148.6 L516.4,148.4 L515.0,148.3 L513.7,148.1 L512.4,147.9 L511.1,147.6 L509.8,147.4 L508.5,147.1 L507.2,146.8 L505.9,146.5 L504.3,147.8 L502.6,149.1 L501.0,150.3 L499.3,151.4 L497.5,152.6 L495.8,153.6 L494.0,154.7 L492.2,155.7 L490.4,156.7Z" fill="#e06a52" filter="url(#z3)"/>
<path d="M492.1,156.2 L493.4,156.7 L494.8,157.2 L496.2,157.7 L497.6,158.1 L499.0,158.6 L500.5,159.0 L501.9,159.4 L503.3,159.8 L504.8,160.1 L506.2,160.4 L507.7,160.7 L509.1,161.0 L510.6,161.3 L512.1,161.5 L513.6,161.7 L515.0,161.9 L515.7,160.2 L516.3,158.5 L517.0,156.8 L517.6,155.0 L518.2,153.2 L518.8,151.5 L517.5,151.3 L516.1,151.1 L514.8,150.8 L513.4,150.6 L512.1,150.3 L510.8,150.0 L509.4,149.7 L508.1,149.3 L506.8,149.0 L505.5,148.6 L504.2,148.2 L502.9,147.8 L501.7,147.3 L500.4,146.9 L499.3,148.3 L498.1,149.6 L496.9,151.0 L495.7,152.3 L494.5,153.6 L493.3,154.9Z" fill="#d2493a" filter="url(#z2_5)"/>
<path d="M494.8,154.4 L496.1,154.9 L497.4,155.4 L498.7,155.9 L500.0,156.3 L501.3,156.8 L502.7,157.2 L504.0,157.5 L505.4,157.9 L506.7,158.3 L508.1,158.6 L509.4,158.9 L510.0,157.3 L510.6,155.7 L511.2,154.0 L511.8,152.4 L510.4,152.1 L509.1,151.7 L507.8,151.3 L506.4,150.9 L505.1,150.5 L503.8,150.1 L502.5,149.6 L501.2,149.1 L500.0,148.6 L498.7,150.1 L497.4,151.6 L496.1,153.0Z" fill="#ab1b22" filter="url(#z2_2)"/>
<path d="M535.7,158.7 L537.2,158.5 L538.6,158.4 L540.1,158.2 L541.5,158.0 L542.9,157.8 L544.4,157.5 L545.8,157.2 L547.2,156.9 L548.6,156.6 L550.0,156.3 L551.4,155.9 L552.8,155.5 L554.2,155.1 L555.6,154.7 L556.9,154.3 L558.3,153.8 L559.6,153.3 L561.0,152.8 L561.2,150.8 L561.4,148.8 L561.6,146.8 L561.7,144.8 L561.8,142.8 L561.9,140.8 L561.9,138.8 L560.7,139.3 L559.6,139.8 L558.4,140.3 L557.2,140.8 L556.0,141.2 L554.8,141.6 L553.6,142.0 L552.4,142.4 L551.2,142.8 L550.0,143.2 L548.7,143.5 L547.5,143.8 L546.2,144.1 L545.0,144.4 L543.7,144.7 L542.5,144.9 L541.2,145.1 L539.9,145.3 L538.6,145.5 L537.3,145.7 L537.2,147.6 L537.0,149.5 L536.7,151.3 L536.5,153.2 L536.3,155.0 L536.0,156.9Z" fill="#fbe8dd" filter="url(#z3)"/>
<path d="M539.9,145.3 L541.2,145.1 L542.5,144.9 L543.7,144.7 L545.0,144.4 L546.2,144.1 L547.5,143.8 L548.7,143.5 L550.0,143.2 L551.2,142.8 L552.4,142.4 L553.6,142.0 L554.8,141.6 L556.0,141.2 L557.2,140.8 L558.4,140.3 L559.6,139.8 L560.7,139.3 L561.9,138.8 L563.0,138.2 L564.2,137.7 L565.3,137.1 L566.4,136.5 L567.5,135.9 L568.6,135.3 L569.6,134.7 L569.9,132.4 L570.0,130.1 L570.1,127.9 L569.2,128.5 L568.2,129.1 L567.2,129.8 L566.2,130.4 L565.2,130.9 L564.1,131.5 L563.1,132.1 L562.0,132.6 L561.0,133.1 L559.9,133.6 L558.8,134.1 L557.7,134.6 L556.6,135.0 L555.5,135.5 L554.4,135.9 L553.2,136.3 L552.1,136.7 L551.0,137.1 L549.8,137.4 L548.7,137.8 L547.5,138.1 L546.3,138.4 L545.1,138.7 L543.9,138.9 L542.8,139.2 L541.6,139.4 L540.4,139.6 L539.2,139.8 L539.4,141.7 L539.7,143.5Z" fill="#fbe2d4" filter="url(#z2)"/>
<path d="M535.4,179.2 L537.1,179.1 L538.7,178.9 L540.4,178.8 L542.1,178.5 L543.7,178.3 L545.4,178.0 L547.0,177.7 L548.6,177.4 L550.3,177.1 L551.9,176.7 L553.5,176.3 L555.1,175.9 L556.7,175.5 L558.3,175.0 L559.9,174.5 L561.5,174.0 L563.1,173.5 L564.6,172.9 L566.1,172.4 L567.7,171.8 L567.3,170.2 L566.9,168.6 L566.5,167.1 L566.1,165.5 L565.6,163.9 L565.2,162.3 L564.7,160.6 L564.3,159.0 L563.8,157.3 L563.3,155.7 L561.9,156.2 L560.6,156.7 L559.2,157.2 L557.8,157.7 L556.4,158.1 L555.0,158.6 L553.5,159.0 L552.1,159.4 L550.7,159.8 L549.2,160.1 L547.8,160.4 L546.3,160.7 L544.9,161.0 L543.4,161.3 L541.9,161.5 L540.4,161.7 L539.0,161.9 L537.5,162.1 L536.0,162.2 L534.5,162.3 L534.6,164.1 L534.7,165.8 L534.8,167.6 L534.9,169.3 L535.0,171.0 L535.1,172.7 L535.1,174.3 L535.2,176.0 L535.3,177.6Z" fill="#f6c0a1" filter="url(#z3)"/>
<path d="M517.6,207.3 L519.5,207.5 L521.4,207.6 L523.2,207.6 L525.1,207.7 L527.0,207.7 L528.9,207.7 L530.8,207.6 L532.6,207.6 L534.5,207.5 L536.4,207.3 L538.3,207.2 L540.2,207.0 L542.0,206.8 L543.9,206.5 L545.7,206.3 L547.6,206.0 L549.4,205.7 L551.3,205.3 L553.1,204.9 L554.9,204.5 L556.8,204.1 L558.6,203.6 L560.4,203.1 L562.1,202.6 L563.9,202.1 L563.8,200.9 L563.7,199.7 L563.6,198.5 L563.5,197.2 L563.3,196.0 L563.2,194.7 L563.0,193.4 L562.8,192.0 L562.7,190.7 L562.5,189.3 L562.2,187.9 L562.0,186.5 L561.8,185.1 L561.6,183.6 L561.3,182.2 L561.1,180.7 L560.8,179.2 L559.2,179.7 L557.5,180.1 L555.9,180.6 L554.2,181.0 L552.6,181.4 L550.9,181.8 L549.2,182.1 L547.5,182.5 L545.8,182.7 L544.2,183.0 L542.5,183.3 L540.7,183.5 L539.0,183.7 L537.3,183.9 L535.6,184.0 L533.9,184.1 L532.2,184.2 L530.4,184.3 L528.7,184.3 L527.0,184.3 L525.3,184.3 L523.6,184.3 L521.8,184.2 L520.1,184.1 L518.4,184.0 L518.3,185.5 L518.3,187.1 L518.2,188.6 L518.1,190.1 L518.1,191.5 L518.0,193.0 L518.0,194.4 L517.9,195.8 L517.9,197.2 L517.8,198.5 L517.8,199.9 L517.7,201.2 L517.7,202.5 L517.7,203.7 L517.6,204.9 L517.6,206.2Z" fill="#fad7c3" filter="url(#z3_5)"/>
<path d="M574.3,198.2 L576.0,197.5 L577.7,196.8 L579.3,196.0 L581.0,195.2 L582.6,194.3 L584.2,193.5 L585.8,192.6 L587.4,191.7 L587.3,190.5 L587.2,189.3 L587.1,188.1 L586.9,186.8 L586.8,185.6 L586.6,184.3 L586.4,183.0 L586.2,181.6 L586.0,180.3 L585.7,178.9 L585.4,177.6 L585.2,176.2 L584.9,174.8 L584.5,173.3 L584.2,171.9 L583.8,170.4 L583.5,169.0 L583.1,167.5 L582.6,166.0 L582.2,164.5 L580.8,165.3 L579.4,166.1 L578.0,166.9 L576.6,167.7 L575.1,168.4 L573.7,169.1 L573.9,170.7 L574.0,172.3 L574.2,173.9 L574.4,175.5 L574.5,177.0 L574.6,178.6 L574.7,180.1 L574.8,181.6 L574.8,183.1 L574.9,184.6 L574.9,186.0 L574.9,187.5 L574.9,188.9 L574.9,190.3 L574.8,191.7 L574.7,193.0 L574.7,194.4 L574.6,195.7 L574.4,197.0Z" fill="#f4b091" filter="url(#z3)"/>
<path d="M543.4,229.6 L545.0,229.3 L546.6,229.0 L548.2,228.7 L549.8,228.4 L551.4,228.0 L553.0,227.6 L554.6,227.2 L556.2,226.8 L557.7,226.4 L559.3,225.9 L560.8,225.4 L562.4,224.9 L563.9,224.4 L565.4,223.8 L566.9,223.2 L568.4,222.6 L569.9,222.0 L571.4,221.4 L572.8,220.7 L574.3,220.0 L575.7,219.3 L577.1,218.6 L578.5,217.8 L579.9,217.1 L581.3,216.3 L582.7,215.5 L584.0,214.7 L585.4,213.9 L586.7,213.0 L588.0,212.1 L589.3,211.3 L590.6,210.4 L591.8,209.4 L593.1,208.5 L594.3,207.5 L595.5,206.6 L596.7,205.6 L597.9,204.6 L599.0,203.6 L600.2,202.6 L601.2,201.6 L602.2,200.7 L603.2,199.8 L604.2,198.8 L605.1,197.8 L606.1,196.8 L607.1,195.8 L608.0,194.7 L609.0,193.7 L609.9,192.6 L610.8,191.5 L611.7,190.4 L612.6,189.3 L613.5,188.1 L614.3,186.9 L615.1,185.7 L615.9,184.4 L616.6,183.1 L617.3,181.9 L618.0,180.5 L618.7,179.2 L619.3,177.8 L619.9,176.4 L620.5,175.0 L621.0,173.6 L620.1,175.0 L619.1,176.4 L618.1,177.8 L617.0,179.1 L615.9,180.5 L614.8,181.8 L613.7,183.1 L612.6,184.4 L611.4,185.7 L610.2,187.0 L609.0,188.2 L607.7,189.5 L606.4,190.7 L605.1,191.9 L603.8,193.0 L602.4,194.2 L601.1,195.3 L599.7,196.4 L598.2,197.5 L596.8,198.6 L595.3,199.6 L593.9,200.7 L592.3,201.7 L590.8,202.6 L589.3,203.6 L587.7,204.5 L586.1,205.4 L584.5,206.3 L582.9,207.2 L581.3,208.0 L579.6,208.8 L578.0,209.6 L576.3,210.3 L574.6,211.1 L572.9,211.8 L571.2,212.5 L569.4,213.1 L567.7,213.7 L565.9,214.3 L564.1,214.9 L562.4,215.5 L560.6,216.0 L558.7,216.5 L556.9,216.9 L555.1,217.4 L554.7,218.3 L554.3,219.1 L553.8,219.9 L553.4,220.7 L553.0,221.5 L552.5,222.2 L552.1,222.9 L551.6,223.5 L551.2,224.2 L550.7,224.7 L550.2,225.3 L549.7,225.8 L549.3,226.3 L548.8,226.8 L548.3,227.2 L547.8,227.6 L547.3,228.0 L546.8,228.3 L546.3,228.6 L545.8,228.8 L545.4,229.0 L544.9,229.2 L544.4,229.4 L543.9,229.5Z" fill="#f5b393" filter="url(#z3)"/>
<path d="M536.4,222.5 L538.3,222.4 L540.2,222.2 L542.0,222.0 L543.9,221.7 L545.7,221.4 L547.6,221.1 L549.4,220.8 L551.3,220.5 L553.1,220.1 L554.9,219.7 L556.8,219.2 L558.6,218.8 L560.4,218.3 L562.1,217.8 L563.9,217.2 L565.7,216.7 L567.4,216.1 L569.2,215.4 L570.9,214.8 L572.6,214.1 L574.3,213.4 L576.0,212.7 L577.7,211.9 L579.3,211.1 L581.0,210.3 L582.6,209.5 L584.2,208.7 L585.8,207.8 L587.4,206.9 L588.9,206.0 L590.4,205.0 L592.0,204.0 L593.5,203.0 L594.9,202.0 L596.4,201.0 L597.8,199.9 L599.2,198.9 L600.6,197.8 L602.0,196.6 L603.3,195.5 L604.6,194.3 L605.9,193.1 L607.2,191.9 L608.5,190.7 L609.7,189.5 L610.9,188.2 L612.1,186.9 L613.2,185.6 L614.3,184.3 L615.4,183.0 L616.5,181.7 L617.5,180.3 L618.5,178.9 L619.5,177.5 L620.5,176.1 L620.7,175.3 L620.9,174.4 L621.0,173.6 L621.2,172.7 L621.3,171.8 L621.3,170.9 L621.4,169.9 L621.4,169.0 L621.4,168.0 L621.3,167.1 L621.3,166.1 L621.2,165.1 L620.2,166.5 L619.2,167.9 L618.2,169.3 L617.1,170.7 L616.1,172.0 L615.0,173.3 L613.8,174.7 L612.7,176.0 L611.5,177.3 L610.3,178.5 L609.1,179.8 L607.8,181.0 L606.5,182.2 L605.2,183.4 L603.9,184.6 L602.5,185.7 L601.2,186.9 L599.8,188.0 L598.3,189.1 L596.9,190.1 L595.4,191.2 L593.9,192.2 L592.4,193.2 L590.9,194.2 L589.4,195.1 L587.8,196.1 L586.2,197.0 L584.6,197.9 L583.0,198.7 L581.4,199.5 L579.7,200.4 L578.0,201.1 L576.4,201.9 L574.7,202.6 L573.0,203.3 L571.2,204.0 L569.5,204.7 L567.7,205.3 L566.0,205.9 L564.2,206.5 L562.4,207.0 L560.6,207.6 L558.8,208.1 L557.0,208.5 L555.1,209.0 L553.3,209.4 L551.5,209.8 L549.6,210.1 L547.7,210.4 L545.9,210.7 L544.0,211.0 L542.1,211.2 L540.3,211.5 L538.4,211.6 L536.5,211.8 L536.5,212.9 L536.5,213.9 L536.5,214.9 L536.5,215.8 L536.5,216.8 L536.5,217.7 L536.5,218.6 L536.5,219.4 L536.5,220.2 L536.4,221.0 L536.4,221.8Z" fill="#f4ae8f" filter="url(#z3)"/>
<path d="M578.0,208.7 L579.7,208.0 L581.4,207.2 L583.0,206.3 L584.6,205.5 L586.2,204.6 L587.8,203.7 L589.4,202.7 L590.9,201.8 L592.4,200.8 L593.9,199.8 L595.4,198.8 L596.9,197.7 L598.3,196.7 L599.8,195.6 L601.2,194.5 L602.5,193.3 L603.9,192.2 L605.2,191.0 L606.5,189.8 L607.8,188.6 L609.1,187.4 L610.3,186.1 L611.5,184.9 L612.7,183.6 L613.8,182.3 L615.0,181.0 L616.1,179.6 L617.1,178.3 L618.2,176.9 L619.2,175.5 L619.3,174.6 L619.4,173.7 L619.4,172.8 L619.4,171.8 L619.4,170.9 L619.4,169.9 L619.3,168.9 L619.2,167.9 L619.1,166.9 L618.9,165.9 L618.7,164.8 L618.5,163.8 L618.3,162.7 L617.3,163.9 L616.2,165.2 L615.1,166.4 L614.0,167.6 L612.8,168.8 L611.7,169.9 L610.5,171.1 L609.2,172.2 L608.0,173.3 L606.7,174.4 L605.4,175.4 L604.1,176.5 L602.8,177.5 L601.4,178.5 L600.0,179.5 L598.6,180.4 L597.2,181.4 L595.8,182.3 L594.3,183.2 L592.8,184.1 L591.3,184.9 L589.8,185.7 L588.2,186.5 L586.7,187.3 L585.1,188.0 L583.5,188.8 L583.3,190.2 L583.1,191.6 L582.9,193.0 L582.6,194.3 L582.3,195.7 L582.0,197.0 L581.7,198.3 L581.4,199.5 L581.0,200.8 L580.6,202.0 L580.3,203.2 L579.8,204.4 L579.4,205.5 L579.0,206.6 L578.5,207.7Z" fill="#f2a687" filter="url(#z3)"/>
<path d="M527.0,216.2 L528.9,216.2 L530.8,216.1 L532.7,216.1 L534.6,216.0 L536.5,215.8 L538.4,215.7 L540.3,215.5 L542.2,215.3 L544.1,215.0 L545.9,214.8 L547.8,214.5 L549.7,214.1 L551.5,213.8 L553.4,213.4 L555.2,213.0 L555.2,212.0 L555.2,211.0 L555.2,210.0 L555.1,209.0 L555.1,207.9 L555.1,206.8 L555.0,205.7 L554.9,204.5 L553.1,204.9 L551.3,205.3 L549.4,205.7 L547.6,206.0 L545.7,206.3 L543.9,206.5 L542.0,206.8 L540.2,207.0 L538.3,207.2 L536.4,207.3 L534.5,207.5 L532.6,207.6 L530.8,207.6 L528.9,207.7 L527.0,207.7 L527.0,208.9 L527.0,210.0 L527.0,211.1 L527.0,212.2 L527.0,213.2 L527.0,214.2 L527.0,215.2Z" fill="#f7c6aa" filter="url(#z3)"/>
<path d="M560.6,111.8 L561.3,111.3 L562.0,110.8 L562.8,110.2 L563.5,109.7 L564.2,109.1 L564.9,108.6 L565.5,108.0 L566.2,107.4 L566.9,106.8 L567.5,106.2 L568.1,105.6 L568.7,104.9 L569.4,104.3 L569.9,103.7 L570.5,103.0 L571.1,102.3 L571.6,101.7 L572.2,101.0 L572.7,100.3 L573.2,99.6 L573.7,98.9 L574.2,98.2 L574.7,97.5 L575.1,96.8 L574.4,95.2 L573.7,93.6 L572.9,92.1 L572.1,90.6 L571.2,89.1 L570.3,87.7 L569.4,86.3 L568.4,85.0 L567.4,83.7 L566.3,82.5 L565.3,81.2 L564.2,80.1 L563.0,78.9 L563.2,78.4 L563.3,77.8 L563.5,77.3 L563.6,76.7 L563.7,76.2 L563.8,75.6 L563.9,75.1 L564.0,74.5 L564.1,74.0 L564.1,73.4 L564.2,72.8 L564.2,72.3 L564.3,71.7 L564.3,71.2 L564.3,70.6 L564.0,70.0 L563.8,69.4 L563.5,68.8 L563.2,68.2 L562.9,67.6 L562.7,67.1 L562.3,66.5 L562.0,66.0 L561.7,65.4 L561.4,64.9 L561.0,64.4 L560.7,63.9 L560.3,63.4 L559.9,62.9 L559.5,62.4 L557.8,62.5 L556.0,62.7 L554.2,62.8 L552.5,63.0 L550.7,63.2 L550.7,63.6 L550.7,63.9 L550.8,64.3 L550.8,64.7 L550.8,65.0 L550.8,65.4 L550.8,65.7 L550.7,66.1 L550.7,66.5 L550.7,66.8 L550.6,67.2 L550.6,67.5 L550.5,67.9 L550.5,68.2 L550.4,68.6 L550.3,68.9 L550.2,69.3 L550.2,69.6 L550.1,69.9 L549.9,70.3 L549.8,70.6 L549.7,70.9 L549.6,71.3 L549.5,71.6 L549.3,71.9 L549.2,72.2 L549.0,72.5 L548.8,72.8 L548.6,73.1 L548.4,73.4 L548.2,73.7 L548.0,74.0 L547.8,74.3 L547.6,74.6 L547.4,74.8 L547.2,75.1 L547.0,75.4 L546.7,75.6 L546.5,75.9 L546.3,76.1 L546.0,76.4 L545.8,76.6 L545.5,76.9 L545.3,77.1 L545.0,77.3 L545.1,77.8 L545.3,78.3 L545.4,78.8 L545.5,79.2 L545.6,79.7 L545.6,80.3 L545.7,80.8 L545.7,81.3 L545.8,81.8 L545.8,82.3 L545.8,82.9 L545.8,83.4 L545.7,84.0 L545.7,84.5 L545.6,85.1 L546.8,86.6 L547.9,88.1 L549.0,89.6 L550.1,91.2 L551.1,92.8 L552.1,94.4 L553.1,96.1 L554.1,97.8 L555.0,99.4 L555.9,101.2 L556.7,102.9 L557.6,104.6 L558.4,106.4 L559.1,108.2 L559.9,110.0Z" fill="#ef9a7b" filter="url(#z3)"/>
<path d="M563.6,99.4 L564.1,98.9 L564.7,98.3 L565.2,97.7 L565.7,97.1 L566.1,96.6 L566.6,96.0 L567.1,95.4 L567.5,94.7 L568.0,94.1 L568.4,93.5 L567.0,92.2 L565.6,90.8 L564.2,89.5 L562.8,88.2 L561.4,87.0 L559.9,85.7 L558.4,84.5 L556.9,83.4 L555.4,82.2 L555.1,82.6 L554.9,83.1 L554.6,83.5 L554.3,83.9 L554.0,84.3 L553.7,84.7 L553.4,85.1 L553.1,85.5 L552.8,85.9 L552.5,86.3 L552.1,86.7 L553.5,88.0 L554.8,89.4 L556.1,90.8 L557.4,92.2 L558.7,93.6 L559.9,95.0 L561.2,96.5 L562.4,97.9Z" fill="#e27d62" filter="url(#z2)"/>
<path d="M557.7,85.6 L558.0,85.2 L558.3,84.7 L558.6,84.2 L558.9,83.7 L559.2,83.3 L559.4,82.8 L559.7,82.3 L559.9,81.8 L560.1,81.3 L560.3,80.8 L560.6,80.3 L560.8,79.8 L560.9,79.3 L561.1,78.7 L561.3,78.2 L559.5,77.5 L557.8,76.8 L556.0,76.1 L555.9,76.6 L555.7,77.0 L555.6,77.5 L555.4,77.9 L555.2,78.3 L555.0,78.7 L554.9,79.2 L554.7,79.6 L554.4,80.0 L554.2,80.4 L554.0,80.8 L553.8,81.2 L553.5,81.6 L553.3,82.0 L553.0,82.4 L554.6,83.5 L556.2,84.6Z" fill="#e8896d" filter="url(#z2)"/>
<path d="M565.0,105.9 L565.6,105.3 L566.3,104.8 L566.9,104.2 L567.5,103.6 L568.1,102.9 L568.6,102.3 L569.2,101.7 L569.8,101.0 L568.4,99.7 L567.0,98.4 L565.7,97.1 L564.3,95.9 L563.8,96.4 L563.3,97.0 L562.8,97.5 L562.3,98.0 L561.8,98.6 L561.2,99.1 L560.7,99.6 L560.1,100.1 L561.4,101.6 L562.6,103.0 L563.8,104.5Z" fill="#e8907a" filter="url(#z2)"/>
<path d="M560.6,129.2 L561.6,128.7 L562.6,128.1 L563.5,127.6 L564.5,127.0 L565.5,126.5 L566.4,125.9 L567.4,125.3 L568.3,124.6 L569.2,124.0 L570.1,123.4 L571.0,122.7 L571.9,122.0 L570.9,120.5 L569.9,118.9 L568.8,117.4 L567.8,115.8 L566.7,114.3 L565.6,112.8 L564.6,111.2 L563.5,109.7 L562.8,110.2 L562.0,110.8 L561.3,111.3 L560.6,111.8 L559.8,112.3 L559.0,112.8 L558.3,113.3 L557.5,113.7 L556.7,114.2 L555.9,114.6 L555.1,115.1 L554.2,115.5 L555.1,117.2 L555.9,118.9 L556.7,120.6 L557.5,122.3 L558.3,124.0 L559.0,125.8 L559.8,127.5Z" fill="#f6bb9b" filter="url(#z3)"/>
<path d="M576.3,120.7 L577.2,120.0 L578.0,119.2 L578.8,118.4 L579.5,117.6 L580.3,116.8 L581.1,116.0 L581.8,115.2 L582.5,114.4 L583.2,113.5 L583.9,112.7 L584.5,111.8 L585.2,110.9 L585.8,110.0 L584.5,108.8 L583.2,107.5 L581.9,106.3 L580.6,105.0 L579.2,103.8 L577.9,102.6 L576.5,101.3 L576.0,102.1 L575.4,102.8 L574.9,103.6 L574.3,104.3 L573.7,105.0 L573.1,105.7 L572.5,106.4 L571.9,107.1 L571.2,107.7 L570.6,108.4 L569.9,109.1 L569.2,109.7 L568.5,110.3 L569.7,111.8 L570.8,113.3 L572.0,114.8 L573.1,116.3 L574.2,117.7 L575.3,119.2Z" fill="#f2a98a" filter="url(#z2)"/>
<path d="M589.4,143.8 L590.6,143.0 L591.7,142.3 L592.9,141.5 L594.0,140.7 L595.2,139.9 L596.3,139.0 L597.4,138.2 L598.5,137.3 L599.5,136.4 L600.6,135.5 L601.6,134.6 L602.6,133.6 L603.5,132.7 L604.5,131.7 L605.4,130.7 L606.4,129.7 L607.2,128.7 L608.1,127.6 L609.0,126.6 L609.8,125.5 L610.6,124.4 L611.4,123.3 L612.1,122.2 L612.8,121.1 L613.5,119.9 L614.2,118.8 L614.9,117.6 L615.5,116.4 L616.1,115.2 L616.7,114.0 L617.2,112.8 L617.7,111.6 L618.2,110.4 L618.7,109.1 L619.1,107.9 L619.5,106.6 L619.9,105.4 L620.3,104.1 L620.6,102.8 L620.9,101.5 L621.2,100.3 L620.2,99.4 L619.2,98.5 L618.2,97.6 L617.1,96.8 L616.1,95.9 L615.0,95.1 L613.8,94.3 L612.7,93.4 L611.5,92.6 L610.3,91.8 L609.1,91.0 L607.8,90.2 L606.5,89.4 L605.2,88.7 L603.9,87.9 L602.5,87.2 L602.4,88.3 L602.3,89.5 L602.2,90.6 L602.0,91.7 L601.8,92.9 L601.6,94.0 L601.3,95.1 L601.1,96.2 L600.8,97.3 L600.5,98.5 L600.1,99.6 L599.8,100.7 L599.4,101.8 L599.0,102.9 L598.6,103.9 L598.2,105.0 L597.7,106.1 L597.2,107.2 L596.7,108.2 L596.2,109.3 L595.6,110.3 L595.1,111.3 L594.5,112.4 L593.9,113.4 L593.2,114.4 L592.6,115.4 L591.9,116.4 L591.2,117.3 L590.5,118.3 L589.8,119.3 L589.0,120.2 L588.3,121.1 L587.5,122.1 L586.7,123.0 L585.8,123.9 L585.0,124.7 L584.1,125.6 L583.3,126.5 L582.4,127.3 L581.5,128.1 L580.5,129.0 L581.5,130.5 L582.4,132.0 L583.4,133.4 L584.3,134.9 L585.2,136.4 L586.0,137.9 L586.9,139.4 L587.7,140.8 L588.6,142.3Z" fill="#f3ae8e" filter="url(#z2)"/>
<path d="M633.9,133.4 L634.2,131.8 L634.5,130.1 L634.8,128.5 L635.0,126.9 L635.2,125.2 L635.3,123.6 L635.4,122.0 L635.5,120.3 L635.6,118.7 L635.6,117.1 L635.6,115.4 L635.5,113.8 L635.4,112.1 L635.3,110.5 L635.2,108.9 L635.0,107.2 L634.8,105.6 L634.5,104.0 L634.2,102.3 L633.9,100.7 L633.6,99.1 L633.3,97.5 L632.9,95.9 L632.5,94.3 L632.0,92.7 L631.6,91.1 L631.1,89.5 L630.6,87.9 L630.1,86.3 L629.5,84.7 L628.9,83.1 L628.3,81.6 L627.7,80.0 L627.0,78.4 L626.3,76.9 L625.6,75.4 L624.9,73.8 L624.1,72.3 L623.3,70.8 L622.5,69.2 L621.6,67.7 L620.8,66.2 L619.9,64.7 L618.9,63.2 L618.0,61.8 L617.5,61.1 L617.1,60.4 L616.6,59.8 L616.2,59.1 L615.7,58.5 L615.2,57.8 L614.8,57.2 L614.3,56.6 L613.8,55.9 L613.4,55.3 L612.9,54.7 L612.4,54.1 L611.9,53.5 L611.4,52.9 L610.9,52.3 L610.4,51.7 L609.8,51.2 L609.2,50.7 L608.6,50.2 L607.9,49.7 L607.3,49.2 L606.6,48.8 L605.8,48.4 L605.1,48.0 L604.3,47.7 L605.3,48.8 L606.2,50.0 L607.1,51.2 L607.9,52.4 L608.8,53.7 L609.6,54.9 L610.3,56.2 L611.1,57.4 L611.8,58.7 L612.6,60.0 L613.2,61.3 L613.9,62.6 L614.5,63.9 L615.1,65.3 L615.7,66.6 L616.3,67.9 L616.8,69.3 L617.3,70.6 L617.7,72.0 L618.2,73.4 L618.6,74.8 L619.0,76.2 L619.3,77.6 L619.7,79.0 L620.0,80.4 L620.2,81.8 L620.5,83.2 L620.7,84.6 L620.9,86.0 L621.0,87.4 L621.2,88.8 L621.3,90.3 L621.3,91.7 L621.4,93.1 L621.4,94.6 L621.4,96.0 L621.3,97.4 L621.3,98.8 L621.2,100.3 L621.0,101.7 L620.9,103.1 L620.7,104.5 L620.5,105.9 L620.2,107.3 L620.0,108.7 L620.9,109.7 L621.8,110.7 L622.6,111.7 L623.5,112.6 L624.3,113.6 L625.1,114.6 L625.8,115.6 L626.5,116.6 L627.2,117.6 L627.9,118.6 L628.5,119.6 L629.1,120.5 L629.7,121.5 L630.2,122.5 L630.7,123.5 L631.2,124.5 L631.6,125.5 L632.0,126.5 L632.4,127.5 L632.7,128.5 L633.0,129.5 L633.3,130.4 L633.5,131.4 L633.8,132.4Z" fill="#f1a383" filter="url(#z3)"/>
<path d="M582.0,97.5 L582.4,96.7 L582.8,95.9 L583.2,95.0 L583.5,94.2 L583.9,93.3 L582.6,91.6 L581.4,90.0 L580.0,88.4 L578.3,88.0 L576.6,87.4 L574.9,86.9 L574.6,87.6 L574.4,88.2 L574.1,88.8 L573.8,89.4 L575.0,90.6 L576.1,91.8 L577.2,93.0 L578.4,94.1 L579.6,95.3 L580.8,96.4Z" fill="#e36a50"/>
<path d="M570.9,85.6 L571.1,84.9 L571.4,84.2 L571.6,83.6 L571.8,82.9 L572.0,82.2 L570.9,81.7 L569.7,81.2 L569.5,81.8 L569.3,82.4 L569.1,83.1 L568.8,83.7 L569.9,84.6Z M579.9,89.8 L580.2,89.0 L580.4,88.2 L580.6,87.3 L580.8,86.5 L581.0,85.7 L581.2,84.8 L581.3,84.0 L581.5,83.2 L580.3,82.6 L579.0,82.1 L579.0,82.9 L579.0,83.8 L578.9,84.6 L578.8,85.5 L578.7,86.3 L578.6,87.2 L578.5,88.1 L578.4,88.9Z" fill="#fbf3ef"/>
<path d="M574.1,89.6 L574.4,89.0 L574.7,88.4 L574.9,87.7 L575.2,87.1 L574.3,85.7 L573.3,84.4 L572.3,83.1 L571.8,83.7 L571.3,84.2 L570.8,84.7 L571.4,85.8 L571.9,87.0 L572.4,88.1 L573.3,88.9Z" fill="#f1a587"/>
<path d="M546.1,105.7 L546.6,105.1 L547.1,104.5 L547.6,103.9 L548.1,103.3 L548.6,102.7 L549.1,102.1 L549.4,101.2 L549.7,100.3 L549.9,99.4 L550.1,98.6 L550.3,97.7 L550.5,96.8 L550.2,95.5 L549.8,94.2 L549.4,92.9 L549.1,91.7 L548.7,90.5 L548.3,89.3 L547.9,88.1 L547.1,86.6 L546.3,85.2 L545.4,83.8 L545.2,83.1 L545.0,82.5 L544.9,81.8 L544.6,81.2 L544.4,80.6 L544.2,80.0 L543.9,79.4 L543.6,78.7 L543.3,78.1 L543.0,77.5 L542.6,76.9 L542.3,76.3 L542.4,76.1 L542.6,75.8 L542.7,75.6 L542.9,75.4 L543.0,75.1 L543.2,74.9 L543.3,74.6 L543.4,74.4 L543.6,74.1 L543.7,73.9 L543.8,73.6 L543.9,73.4 L544.2,73.2 L544.5,73.0 L544.7,72.8 L545.0,72.6 L545.3,72.4 L545.5,72.1 L545.8,71.9 L546.1,71.7 L546.3,71.4 L546.6,71.2 L546.8,70.9 L547.0,70.7 L547.6,70.5 L548.2,70.3 L548.7,70.0 L549.3,69.8 L549.8,69.5 L550.4,69.3 L550.9,69.0 L551.4,68.7 L551.9,68.4 L552.4,68.0 L553.1,67.7 L553.8,67.4 L554.5,67.1 L555.1,66.8 L555.8,66.4 L557.3,66.1 L558.9,65.7 L560.4,65.3 L561.9,64.9 L563.4,64.7 L564.8,64.5 L564.8,63.9 L564.7,63.3 L564.6,62.7 L564.5,62.2 L564.4,61.6 L564.3,61.0 L564.2,60.5 L563.7,59.9 L563.3,59.4 L562.8,58.9 L562.4,58.4 L561.9,57.9 L561.5,57.4 L561.0,56.9 L560.5,56.4 L560.6,55.8 L560.6,55.3 L560.6,54.7 L560.6,54.1 L560.6,53.5 L560.6,52.9 L560.5,52.2 L560.4,51.6 L560.3,51.0 L560.2,50.4 L560.1,49.8 L560.0,49.2 L559.8,48.5 L559.6,47.9 L559.1,47.4 L558.7,47.0 L558.1,46.5 L557.6,46.0 L557.1,45.6 L556.6,45.1 L556.0,44.7 L555.5,44.2 L554.9,43.8 L554.4,43.4 L553.8,43.0 L553.2,42.6 L552.6,42.2 L552.0,41.8 L551.4,41.4 L550.8,41.1 L550.2,40.7 L549.6,40.4 L548.9,40.0 L548.3,39.7 L547.7,39.3 L547.1,38.9 L546.5,38.5 L545.9,38.2 L545.3,37.8 L544.6,37.5 L544.0,37.1 L543.3,36.8 L542.7,36.5 L542.0,36.2 L541.3,35.9 L540.6,35.6 L539.9,35.3 L539.2,35.1 L538.5,34.8 L537.8,34.5 L537.1,34.3 L536.3,34.1 L535.6,33.9 L534.8,33.7 L534.1,33.5 L533.3,33.3 L532.6,33.1 L531.8,32.9 L531.0,32.8 L530.2,32.7 L529.4,32.5 L528.6,32.4 L527.8,32.3 L527.0,32.2 L526.2,32.2 L525.4,32.1 L524.5,32.1 L523.7,32.0 L522.9,32.0 L522.1,32.0 L521.2,32.0 L520.4,32.0 L519.5,32.0 L518.7,32.1 L517.9,32.1 L517.0,32.1 L516.1,32.2 L515.3,32.3 L514.4,32.3 L513.5,32.4 L512.7,32.6 L511.8,32.7 L510.9,32.8 L510.1,33.0 L509.2,33.1 L508.3,33.3 L507.5,33.5 L506.6,33.7 L505.7,34.0 L504.9,34.2 L504.0,34.4 L503.1,34.7 L502.3,35.0 L501.4,35.3 L500.6,35.7 L499.9,36.1 L499.1,36.5 L498.4,36.9 L497.6,37.4 L496.9,37.8 L496.2,38.3 L495.5,38.8 L494.8,39.2 L494.1,39.7 L493.4,40.2 L492.8,40.7 L492.1,41.3 L491.5,41.8 L490.8,42.3 L490.2,42.9 L489.6,43.5 L489.0,44.0 L488.4,44.6 L487.8,45.2 L487.0,45.7 L486.2,46.2 L485.5,46.8 L484.7,47.4 L483.9,47.9 L483.2,48.5 L482.6,49.2 L482.0,49.8 L481.3,50.5 L480.8,51.2 L480.2,51.8 L479.6,52.5 L478.7,53.2 L477.9,53.9 L477.0,54.6 L476.2,55.3 L475.3,56.1 L474.4,56.9 L473.6,57.7 L472.7,58.5 L473.2,59.3 L473.6,60.1 L474.1,60.8 L474.6,61.6 L474.9,62.4 L475.2,63.1 L475.5,63.8 L475.9,64.6 L476.2,65.3 L476.6,66.0 L476.5,66.7 L476.3,67.5 L476.2,68.3 L476.1,69.0 L476.0,69.8 L476.0,70.6 L475.9,71.4 L475.9,72.1 L475.8,72.9 L475.8,73.7 L475.8,74.5 L475.9,75.2 L475.9,76.0 L476.0,76.8 L476.0,77.5 L476.1,78.3 L476.2,79.1 L476.3,79.8 L476.5,80.6 L476.6,81.4 L476.8,82.1 L476.9,82.9 L477.1,83.6 L477.3,84.4 L477.6,85.1 L477.8,85.9 L478.1,86.6 L478.3,87.4 L478.6,88.1 L478.9,88.8 L479.2,89.6 L479.6,90.3 L479.9,91.0 L480.3,91.7 L480.6,92.4 L481.0,93.1 L481.4,93.8 L481.8,94.5 L482.2,95.2 L482.7,95.8 L482.9,96.7 L483.2,97.5 L483.5,98.3 L483.8,99.1 L484.2,100.0 L484.5,100.8 L484.9,101.6 L485.3,102.4 L485.7,103.2 L486.1,104.0 L486.5,104.8 L487.0,105.6 L487.5,106.4 L488.0,107.2 L488.5,108.0 L487.3,109.5 L486.2,111.0 L485.0,112.4 L483.9,113.9 L482.8,115.4 L481.7,116.9 L480.6,118.4 L479.5,119.9 L478.5,121.5 L479.3,122.2 L480.2,122.9 L481.1,123.6 L482.0,124.3 L482.9,125.0 L483.8,125.6 L484.8,126.3 L485.7,126.9 L486.7,127.5 L487.7,128.1 L488.6,128.7 L489.6,129.3 L490.6,129.8 L491.7,130.4 L492.7,130.9 L493.7,131.4 L494.8,131.9 L495.9,132.4 L496.5,130.6 L497.2,128.9 L497.9,127.1 L498.6,125.4 L499.3,123.7 L500.0,121.9 L500.8,120.2 L501.9,120.0 L503.0,119.9 L504.1,119.8 L505.2,119.6 L506.2,119.4 L507.3,119.2 L508.4,119.0 L509.4,118.6 L510.5,118.3 L511.5,117.9 L512.6,117.5 L513.6,117.1 L514.6,116.7 L515.7,115.9 L516.7,115.2 L517.7,114.4 L518.7,113.6 L519.6,113.4 L520.4,113.2 L521.3,113.0 L522.1,112.8 L522.9,112.8 L523.8,112.7 L524.6,112.6 L525.4,112.5 L526.2,112.4 L527.0,112.3 L527.8,112.0 L528.6,111.6 L529.4,111.3 L530.1,110.9 L530.9,110.6 L531.6,110.2 L532.4,110.3 L533.2,110.3 L534.0,110.4 L534.8,110.4 L535.6,110.5 L536.4,110.5 L537.2,110.6 L538.0,110.7 L538.9,110.7 L539.7,110.8 L540.4,110.2 L541.0,109.6 L541.7,109.0 L542.3,108.5 L542.9,108.0 L543.6,107.6 L544.2,107.1 L544.8,106.6 L545.5,106.1Z" fill="#ffffff"/>
<path d="M514.8,139.8 L516.0,140.0 L517.2,140.1 L518.5,140.3 L519.7,140.4 L520.9,140.5 L522.1,140.6 L523.3,140.6 L524.6,140.7 L525.8,140.7 L527.0,140.7 L528.2,140.7 L529.4,140.7 L530.7,140.6 L531.9,140.6 L533.1,140.5 L534.3,140.4 L535.5,140.3 L536.8,140.1 L538.0,140.0 L539.2,139.8 L540.4,139.6 L541.6,139.4 L542.8,139.2 L543.9,138.9 L545.1,138.7 L546.3,138.4 L547.5,138.1 L548.7,137.8 L549.8,137.4 L551.0,137.1 L552.1,136.7 L553.2,136.3 L554.4,135.9 L555.5,135.5 L556.6,135.0 L557.7,134.6 L558.8,134.1 L559.9,133.6 L561.0,133.1 L562.0,132.6 L563.1,132.1 L564.1,131.5 L565.2,130.9 L566.2,130.4 L567.2,129.8 L568.2,129.1 L569.2,128.5 L570.1,127.9 L571.1,127.2 L572.0,126.5 L572.0,126.5 L571.6,125.7 L571.1,125.0 L570.6,124.2 L570.1,123.4 L569.7,122.6 L569.2,121.8 L568.7,121.0 L568.2,120.2 L567.7,119.4 L567.2,118.6 L566.7,117.8 L566.2,117.1 L565.7,116.3 L565.2,115.5 L564.6,114.7 L564.1,113.9 L563.6,113.1 L563.1,112.3 L562.6,111.5 L562.0,110.8 L561.5,110.0 L561.0,109.2 L560.4,108.4 L559.9,107.6 L559.4,106.8 L558.8,106.1 L558.3,105.3 L557.7,104.5 L557.2,103.7 L556.6,103.0 L556.6,103.0 L556.0,103.4 L555.4,103.8 L554.7,104.3 L554.1,104.7 L553.4,105.1 L552.8,105.5 L552.1,105.9 L551.4,106.2 L550.7,106.6 L550.0,107.0 L549.3,107.3 L548.6,107.6 L547.9,108.0 L547.2,108.3 L546.5,108.6 L545.7,108.9 L545.0,109.1 L544.3,109.4 L543.5,109.7 L542.8,109.9 L542.0,110.1 L541.2,110.3 L540.5,110.6 L539.7,110.8 L538.9,110.9 L538.1,111.1 L537.4,111.3 L536.6,111.4 L535.8,111.6 L535.0,111.7 L534.2,111.8 L533.4,111.9 L532.6,112.0 L531.8,112.1 L531.0,112.1 L530.2,112.2 L529.4,112.2 L528.6,112.3 L527.8,112.3 L527.0,112.3 L526.2,112.3 L525.4,112.3 L524.6,112.2 L523.8,112.2 L523.0,112.1 L522.2,112.1 L521.4,112.0 L520.6,111.9 L519.8,111.8 L519.0,111.7 L519.0,111.7 L518.9,112.6 L518.7,113.6 L518.6,114.5 L518.4,115.4 L518.3,116.4 L518.1,117.3 L518.0,118.3 L517.8,119.2 L517.7,120.1 L517.5,121.1 L517.4,122.0 L517.3,123.0 L517.1,123.9 L517.0,124.8 L516.8,125.8 L516.7,126.7 L516.6,127.7 L516.4,128.6 L516.3,129.5 L516.1,130.5 L516.0,131.4 L515.9,132.4 L515.7,133.3 L515.6,134.2 L515.5,135.2 L515.3,136.1 L515.2,137.0 L515.1,137.9 L515.0,138.9 L514.8,139.8Z" fill="#fbe9e1" opacity="0.85"/>
<polygon points="524,112.4 523.4,117.9 524,123.4 524.5,128.9 527.3,131.6 531.1,132.1 533.3,134.3 533.9,138.7 544.8,136.5 555.8,133.2 560.7,131.1 559.1,125.6 556.9,120.1 554.7,115.7 551.4,113.5 545.9,113.5 541.5,114.6 539.3,117.9 538.2,121.2 536.1,122.8 533.3,123.4 532.8,123.4 529.5,120.1 527.3,116.8 525.1,112.4" fill="#d6eaf5"/>
<g filter="url(#bl2)"><ellipse cx="545" cy="126" rx="8" ry="5" fill="#c2dcee"/><ellipse cx="535" cy="128" rx="4" ry="3" fill="#c8e0ef"/></g>
<path d="M514.8,139.8 L516.0,140.0 L517.2,140.1 L518.5,140.3 L519.7,140.4 L520.9,140.5 L522.1,140.6 L523.3,140.6 L524.6,140.7 L525.8,140.7 L527.0,140.7 L528.2,140.7 L529.4,140.7 L530.7,140.6 L531.9,140.6 L533.1,140.5 L534.3,140.4 L535.5,140.3 L536.8,140.1 L538.0,140.0 L539.2,139.8 L540.4,139.6 L541.6,139.4 L542.8,139.2 L543.9,138.9 L545.1,138.7 L546.3,138.4 L547.5,138.1 L548.7,137.8 L549.8,137.4 L551.0,137.1 L552.1,136.7 L553.2,136.3 L554.4,135.9 L555.5,135.5 L556.6,135.0 L557.7,134.6 L558.8,134.1 L559.9,133.6 L561.0,133.1 L562.0,132.6 L563.1,132.1 L564.1,131.5 L565.2,130.9 L566.2,130.4 L567.2,129.8 L568.2,129.1 L569.2,128.5 L570.1,127.9 L571.1,127.2 L572.0,126.5 L572.0,126.5 L571.6,125.7 L571.1,125.0 L570.6,124.2 L570.1,123.4 L569.7,122.6 L569.2,121.8 L568.7,121.0 L568.2,120.2 L567.7,119.4 L567.2,118.6 L566.7,117.8 L566.2,117.1 L565.7,116.3 L565.2,115.5 L564.6,114.7 L564.1,113.9 L563.6,113.1 L563.1,112.3 L562.6,111.5 L562.0,110.8 L561.5,110.0 L561.0,109.2 L560.4,108.4 L559.9,107.6 L559.4,106.8 L558.8,106.1 L558.3,105.3 L557.7,104.5 L557.2,103.7 L556.6,103.0 L556.6,103.0 L556.0,103.4 L555.4,103.8 L554.7,104.3 L554.1,104.7 L553.4,105.1 L552.8,105.5 L552.1,105.9 L551.4,106.2 L550.7,106.6 L550.0,107.0 L549.3,107.3 L548.6,107.6 L547.9,108.0 L547.2,108.3 L546.5,108.6 L545.7,108.9 L545.0,109.1 L544.3,109.4 L543.5,109.7 L542.8,109.9 L542.0,110.1 L541.2,110.3 L540.5,110.6 L539.7,110.8 L538.9,110.9 L538.1,111.1 L537.4,111.3 L536.6,111.4 L535.8,111.6 L535.0,111.7 L534.2,111.8 L533.4,111.9 L532.6,112.0 L531.8,112.1 L531.0,112.1 L530.2,112.2 L529.4,112.2 L528.6,112.3 L527.8,112.3 L527.0,112.3 L526.2,112.3 L525.4,112.3 L524.6,112.2 L523.8,112.2 L523.0,112.1 L522.2,112.1 L521.4,112.0 L520.6,111.9 L519.8,111.8 L519.0,111.7 L519.0,111.7 L518.9,112.6 L518.7,113.6 L518.6,114.5 L518.4,115.4 L518.3,116.4 L518.1,117.3 L518.0,118.3 L517.8,119.2 L517.7,120.1 L517.5,121.1 L517.4,122.0 L517.3,123.0 L517.1,123.9 L517.0,124.8 L516.8,125.8 L516.7,126.7 L516.6,127.7 L516.4,128.6 L516.3,129.5 L516.1,130.5 L516.0,131.4 L515.9,132.4 L515.7,133.3 L515.6,134.2 L515.5,135.2 L515.3,136.1 L515.2,137.0 L515.1,137.9 L515.0,138.9 L514.8,139.8Z" fill="none" stroke="#2a2ad2" stroke-width="3.3" stroke-linejoin="miter"/>
<path d="M493.5,61.4 L493.2,61.9 L492.9,62.4 L492.6,62.9 L492.2,63.4 L491.9,63.9 L491.6,64.4 L491.3,64.9 L491.1,65.5 L490.8,66.1 L490.5,66.6 L490.3,67.2 L490.0,67.8 L489.8,68.3 L489.6,68.9 L489.4,69.5 L489.2,70.1 L488.9,70.7 L488.6,71.4 L488.3,72.0 L488.0,72.7 L488.2,73.2 L488.4,73.8 L488.7,74.3 L488.9,74.8 L489.2,75.4 L489.6,75.8 L490.0,76.3 L490.4,76.7 L490.9,77.2 L490.7,77.8 L490.6,78.5 L490.4,79.2 L490.3,79.9 L490.3,80.5 L490.3,81.2 L490.3,81.8 L490.3,82.5 L490.4,83.1 L490.5,83.8 L490.6,84.4 L490.7,85.1 L490.8,85.7 L490.9,86.4 L491.1,87.0 L491.3,87.7 L491.4,88.3 L491.6,88.9 L492.2,89.4 L492.7,89.8 L493.2,90.2 L493.7,90.6 L494.3,90.9 L494.5,91.6 L494.8,92.2 L495.1,92.8 L495.4,93.4 L495.7,94.0 L496.4,94.3 L497.0,94.6 L497.6,94.9 L498.3,95.1 L499.6,94.2 L501.0,93.3 L502.3,92.4 L501.6,94.2 L500.9,96.1 L501.1,96.8 L501.3,97.6 L501.6,98.4 L501.9,99.1 L503.0,98.7 L504.0,98.3 L505.1,97.8 L505.2,99.0 L505.2,100.1 L505.4,101.3 L504.8,102.6 L504.3,103.9 L503.6,103.8 L502.9,103.6 L502.3,103.4 L501.6,103.3 L500.9,103.1 L499.9,104.1 L498.8,105.1 L497.8,105.2 L496.8,105.2 L495.7,105.3 L494.4,105.8 L493.0,106.2 L491.7,106.7 L490.3,107.1 L489.0,108.4 L487.7,109.8 L487.1,111.7 L486.5,113.7 L487.1,114.5 L487.8,115.3 L488.5,116.1 L489.1,116.8 L489.6,117.9 L490.2,119.0 L490.7,120.1 L491.3,121.2 L492.1,121.7 L492.9,122.2 L493.7,122.8 L493.2,124.0 L492.7,125.2 L492.2,126.5 L492.5,128.5 L492.9,130.6 L494.5,129.7 L495.1,128.3 L495.8,126.9 L496.5,125.5 L498.1,124.1 L499.7,122.8 L500.4,121.5 L501.0,120.3 L501.2,118.3 L501.4,116.3 L502.4,114.6 L503.4,113.0 L504.1,113.2 L504.9,113.3 L505.6,113.5 L506.4,113.6 L506.9,114.7 L507.5,115.8 L508.1,116.9 L508.1,118.9 L508.3,120.9 L509.1,121.6 L509.9,122.4 L510.9,121.7 L511.9,120.9 L512.9,120.2 L513.6,119.8 L513.9,121.7 L514.4,123.6 L514.8,125.4 L515.3,127.5 L515.7,129.5 L516.7,130.6 L517.6,131.6 L518.6,132.7 L519.5,134.3 L520.4,135.9 L519.6,136.8 L518.7,137.7 L517.5,138.3 L516.2,138.9 L514.9,139.4 L513.7,139.2 L512.5,139.0 L511.3,138.8 L510.1,138.6 L509.1,138.5 L508.1,138.4 L507.1,138.2 L505.6,139.1 L504.2,140.0 L502.7,140.8 L501.5,141.6 L500.3,142.4 L501.8,141.7 L503.3,140.9 L504.8,140.1 L506.0,140.1 L507.3,140.1 L508.6,140.1 L509.2,141.6 L507.9,143.2 L508.0,144.5 L508.1,145.7 L509.2,146.2 L510.3,146.7 L511.3,147.2 L512.4,147.7 L513.9,146.8 L513.4,147.9 L513.0,148.9 L511.6,149.0 L510.2,149.0 L508.9,149.1 L507.6,149.4 L506.4,149.8 L505.2,150.1 L505.5,148.8 L505.8,147.4 L504.7,147.6 L503.6,147.8 L502.4,148.0 L501.2,148.1 L500.0,148.3 L499.3,149.2 L498.6,150.1 L499.2,151.6 L498.1,151.6 L497.0,151.6 L495.8,151.7 L494.6,151.8 L493.3,151.8 L493.1,152.7 L492.8,153.7 L491.0,154.5 L489.9,155.6 L488.8,156.8 L488.7,158.1 L488.7,159.5 L487.0,160.2 L485.7,160.5 L484.5,160.7 L483.2,160.9 L482.0,161.0 L480.6,161.7 L479.1,162.3 L478.5,163.4 L478.0,164.4 L478.0,166.2 L478.2,168.0 L478.2,169.3 L478.2,170.6 L477.7,171.5 L477.1,172.3 L476.0,171.5 L475.8,170.4 L475.6,169.3 L475.3,167.8 L475.0,166.4 L475.3,165.2 L475.6,164.0 L474.9,163.2 L474.2,162.3 L473.1,161.9 L472.0,161.6 L471.0,160.5 L470.1,159.4 L469.1,158.4 L468.1,157.9 L467.1,157.3 L466.8,158.3 L466.6,159.3 L465.9,158.6 L465.1,158.0 L464.2,156.9 L463.3,155.9 L462.4,154.8 L461.3,154.1 L460.1,153.4 L458.9,153.4 L457.7,153.4 L456.5,153.3 L455.8,154.2 L455.1,155.1 L454.5,155.9 L453.9,157.0 L453.3,158.1 L452.8,159.2 L452.3,160.3 L452.3,161.7 L452.3,163.0 L452.6,164.5 L452.9,166.1 L453.6,167.4 L454.4,168.7 L455.6,169.5 L456.7,170.2 L457.9,170.9 L459.4,171.4 L460.1,170.4 L460.9,169.3 L462.1,169.9 L463.3,170.5 L464.6,171.0 L465.3,171.8 L466.1,172.6 L465.4,173.6 L464.7,174.6 L464.1,175.5 L463.4,176.4 L462.8,177.2 L462.2,178.1 L463.3,178.8 L464.3,179.6 L465.4,180.3 L466.7,181.6 L468.0,182.8 L469.3,184.0 L468.9,185.2 L468.5,186.3 L468.2,187.5 L467.6,188.5 L468.8,190.4 L469.9,192.3 L471.3,192.9 L472.7,193.4 L474.1,193.8 L475.6,195.2 L477.2,196.4 L476.7,196.9 L476.3,197.3 L474.6,196.6 L473.0,195.8 L471.8,195.0 L470.6,194.1 L469.0,193.0 L467.5,191.8 L466.4,190.5 L465.4,189.2 L464.4,187.8 L464.4,187.1 L464.5,186.3 L463.4,184.4 L462.3,182.5 L461.3,181.5 L460.3,180.4 L459.2,179.4 L458.0,178.3 L456.9,177.2 L456.0,175.5 L455.1,173.8 L454.2,172.1 L453.1,171.3 L452.0,170.4 L450.9,169.6 L450.0,168.2 L449.1,166.9 L448.2,165.5 L447.4,164.0 L446.6,162.6 L445.8,161.1 L445.0,159.5 L444.2,157.9 L443.5,156.3 L442.8,154.6 L442.7,152.5 L443.2,151.9 L443.7,151.3 L443.6,149.7 L443.5,148.1 L443.2,145.6 L443.0,143.1 L443.0,141.2 L443.0,139.4 L443.1,137.5 L442.9,135.7 L442.7,133.9 L443.1,132.3 L443.6,130.7 L443.4,129.1 L443.2,127.5 L442.5,128.6 L441.8,129.7 L441.6,131.3 L441.4,132.9 L441.2,134.6 L441.1,136.7 L440.9,138.9 L440.6,140.6 L440.3,142.3 L440.1,144.0 L440.6,144.5 L440.6,143.3 L440.6,142.1 L440.1,140.6 L439.6,139.2 L439.7,137.2 L439.9,135.3 L440.1,133.3 L440.2,130.9 L440.6,129.3 L441.0,127.8 L441.4,126.3 L441.9,124.8 L442.3,123.3 L442.6,121.6 L442.9,120.0 L442.7,118.9 L442.5,117.8 L442.4,116.7 L443.0,114.8 L443.7,113.0 L444.3,111.9 L444.9,110.8 L445.3,109.5 L445.7,108.1 L446.4,107.0 L447.2,105.8 L448.1,105.1 L449.1,104.4 L450.3,103.5 L451.6,102.5 L452.9,101.6 L454.2,100.7 L455.2,99.6 L456.2,98.6 L457.2,97.6 L457.6,98.4 L457.9,99.3 L458.3,98.0 L458.8,96.7 L459.1,95.3 L459.4,93.9 L459.7,92.5 L460.5,91.7 L461.4,90.9 L462.4,89.6 L463.5,88.2 L464.7,86.9 L465.6,85.4 L466.6,84.0 L467.6,82.7 L468.5,81.5 L469.5,80.4 L469.9,79.5 L470.2,78.6 L470.6,77.7 L471.1,76.7 L471.6,75.7 L472.2,74.7 L472.3,73.8 L472.4,73.0 L472.5,72.2 L472.6,71.3 L473.0,70.4 L473.3,69.6 L473.7,68.7 L474.1,67.9 L474.5,67.0 L475.0,66.2 L473.9,65.7 L472.8,65.3 L472.2,64.7 L471.5,64.1 L471.0,63.5 L470.6,62.8 L470.4,62.2 L470.1,61.5 L469.7,60.8 L469.4,60.1 L469.1,59.4 L469.0,58.6 L469.0,57.7 L469.0,56.9 L469.1,56.1 L469.3,55.4 L469.4,54.7 L469.5,55.5 L469.6,56.2 L469.7,57.0 L469.8,57.7 L470.3,58.5 L470.8,59.4 L471.3,60.2 L472.1,60.5 L472.8,60.9 L473.2,60.1 L473.6,59.3 L473.9,58.5 L475.1,57.7 L476.3,56.9 L477.0,56.2 L477.6,55.5 L478.3,54.9 L479.5,54.7 L480.8,54.6 L481.5,55.1 L482.3,55.5 L482.5,56.2 L482.7,56.8 L482.9,57.4 L483.2,58.0 L483.6,57.4 L484.0,56.7 L484.3,56.2 L484.7,55.6 L485.1,55.1 L485.5,54.6 L486.3,54.2 L487.1,53.8 L487.2,54.5 L487.4,55.2 L487.6,55.9 L487.1,56.3 L486.7,56.7 L486.9,57.3 L487.2,57.8 L488.0,57.3 L488.7,56.9 L489.5,56.5 L490.4,56.1 L491.2,55.7 L491.5,56.2 L491.8,56.8 L492.2,57.4 L492.5,57.9 L492.7,58.5 L492.8,59.1 L493.0,59.7 L493.1,60.1 L493.2,60.6 L493.4,61.0Z M518.1,86.6 L518.3,87.2 L518.5,87.8 L518.7,88.5 L518.9,89.1 L519.1,89.8 L519.5,90.0 L519.9,90.3 L520.3,90.5 L520.7,90.8 L521.1,91.0 L521.5,91.3 L521.9,91.6 L522.3,91.9 L522.8,92.2 L523.2,92.4 L523.5,93.9 L523.9,95.3 L523.9,97.2 L524.1,99.0 L524.6,100.0 L525.1,101.0 L525.7,101.9 L525.0,102.8 L524.3,103.7 L525.0,104.4 L525.6,105.0 L526.3,105.7 L525.7,106.9 L525.0,108.2 L524.3,109.4 L524.9,110.8 L525.4,112.3 L526.2,114.2 L527.0,116.1 L527.7,117.5 L528.4,118.9 L529.2,119.5 L530.0,120.1 L530.9,120.7 L531.7,121.2 L532.3,121.6 L532.9,121.9 L533.5,121.2 L534.0,120.5 L534.3,119.0 L534.6,117.5 L534.8,115.9 L535.0,114.3 L535.1,112.6 L535.8,111.8 L536.5,110.9 L537.1,110.0 L537.7,109.3 L538.4,108.7 L539.0,108.0 L539.5,107.0 L540.0,106.1 L540.4,105.1 L540.8,104.1 L541.4,103.7 L542.0,103.3 L542.6,102.9 L543.2,102.5 L543.4,101.6 L543.7,100.7 L543.9,99.8 L544.0,98.9 L543.4,97.8 L542.7,96.8 L542.7,95.8 L542.6,94.8 L542.3,93.3 L542.0,91.9 L541.6,90.6 L541.1,89.3 L540.2,88.2 L539.3,87.0 L538.9,85.7 L538.4,84.4 L537.8,83.2 L537.2,82.0 L536.9,81.1 L536.6,80.2 L536.2,79.3 L535.8,79.2 L535.4,79.0 L534.9,78.8 L534.5,78.6 L534.1,78.4 L533.8,78.4 L533.5,78.3 L533.2,78.3 L532.9,78.2 L532.6,78.1 L532.3,78.1 L532.0,78.0 L531.8,77.9 L531.5,77.8 L531.2,77.7 L531.0,77.8 L530.8,77.9 L530.6,78.0 L530.4,78.1 L530.2,78.1 L530.0,78.2 L529.8,78.3 L529.6,78.4 L529.4,78.4 L529.2,78.5 L529.0,78.7 L528.8,78.9 L528.6,79.0 L528.4,79.2 L528.2,79.3 L528.0,79.5 L527.7,79.6 L527.5,79.8 L527.2,79.9 L527.0,80.1 L526.8,80.2 L526.5,80.2 L526.2,80.3 L526.0,80.4 L525.7,80.4 L525.5,80.5 L525.2,80.5 L524.9,80.7 L524.6,80.9 L524.3,81.2 L524.0,81.4 L523.7,81.5 L523.3,81.8 L523.0,82.0 L522.6,82.2 L522.0,83.0 L521.5,83.8 L520.9,84.6 L520.2,85.3 L519.7,85.7 L519.2,86.0 L518.7,86.3Z M477.2,196.4 L478.6,196.5 L479.9,196.5 L480.9,195.6 L482.0,195.7 L483.2,195.7 L484.5,195.9 L485.7,196.1 L487.0,196.3 L488.0,195.9 L489.3,196.6 L490.5,197.2 L490.1,197.7 L488.9,197.7 L487.8,197.6 L489.3,198.3 L490.8,198.9 L492.3,199.5 L493.9,200.1 L495.7,200.8 L497.4,201.4 L499.2,202.0 L501.1,202.2 L502.9,202.3 L504.7,202.4 L506.5,203.6 L507.4,204.6 L508.3,205.7 L510.1,206.9 L511.9,208.2 L513.8,208.7 L515.7,209.2 L517.6,209.7 L519.4,210.3 L521.3,210.8 L523.2,211.2 L525.1,212.2 L525.7,212.9 L526.4,213.7 L527.0,214.4 L527.5,215.3 L528.0,216.2 L529.4,216.6 L530.8,217.1 L532.7,217.2 L534.6,217.2 L536.5,217.2 L538.4,217.5 L540.3,217.7 L542.2,217.8 L544.0,217.8 L545.9,217.7 L547.8,217.6 L549.6,217.9 L551.4,218.2 L553.1,218.0 L554.7,217.9 L555.0,218.6 L555.3,219.2 L555.1,219.8 L554.9,220.4 L553.0,221.5 L551.1,222.5 L549.3,223.4 L547.6,224.3 L547.4,224.8 L547.2,225.2 L547.0,225.7 L546.7,226.1 L546.3,226.5 L545.9,226.9 L545.2,227.3 L544.5,227.7 L543.9,228.1 L542.9,228.5 L541.9,228.8 L541.0,229.1 L539.5,229.3 L538.1,229.5 L536.6,229.7 L535.1,229.9 L533.7,230.0 L532.2,230.2 L530.9,230.4 L529.6,230.5 L529.4,230.6 L529.3,230.7 L529.2,230.7 L528.2,230.8 L527.2,230.8 L526.2,230.8 L524.6,230.8 L523.0,230.7 L522.2,230.7 L521.5,230.7 L520.2,230.6 L518.9,230.5 L517.6,230.4 L516.5,230.3 L515.4,230.2 L515.9,230.2 L516.4,230.3 L515.3,230.2 L514.3,230.1 L513.0,229.9 L511.7,229.7 L510.4,229.5 L509.1,229.3 L509.0,229.3 L508.8,229.3 L507.7,229.1 L506.6,228.9 L505.5,228.7 L507.2,229.0 L506.4,228.8 L505.6,228.7 L504.5,228.4 L503.3,228.2 L504.6,228.5 L505.8,228.7 L504.9,228.5 L504.1,228.4 L503.4,228.2 L503.3,228.2 L503.3,228.2 L502.2,227.9 L501.2,227.7 L500.2,227.5 L499.0,227.2 L497.8,226.8 L496.6,226.5 L496.0,226.3 L495.4,226.1 L494.8,225.9 L494.2,225.8 L494.2,225.8 L494.2,225.8 L494.2,225.8 L494.1,225.7 L493.9,225.7 L493.7,225.6 L493.4,225.5 L493.0,225.4 L492.6,225.2 L492.6,225.2 L492.7,225.3 L492.7,225.3 L492.8,225.3 L492.8,225.3 L492.9,225.3 L493.0,225.4 L493.1,225.4 L492.8,225.3 L492.5,225.2 L492.2,225.1 L491.9,225.0 L492.0,225.0 L492.2,225.0 L492.4,225.0 L492.2,224.8 L492.1,224.5 L491.9,224.3 L491.8,224.0 L491.6,223.7 L491.2,223.3 L490.8,222.9 L488.9,222.0 L487.1,221.0 L485.2,220.1 L483.4,219.0 L481.6,217.9 L480.3,216.9 L479.0,215.8 L477.7,214.7 L476.7,213.7 L475.7,212.6 L474.7,211.5 L473.8,210.4 L472.3,208.9 L470.8,207.4 L471.3,206.9 L471.8,206.3 L472.2,205.9 L472.5,205.4 L471.0,203.7 L471.8,203.2 L472.5,202.6 L473.5,202.8 L474.5,203.1 L475.3,202.6 L476.1,202.1 L477.0,201.6 L477.0,200.7 L477.0,199.8 L477.0,198.8 L476.3,197.3 L476.7,196.9Z M588.7,144.3 L587.3,143.8 L586.5,144.0 L585.8,144.2 L585.0,145.0 L584.2,145.8 L583.6,144.5 L583.0,143.2 L581.7,142.4 L581.3,140.6 L580.9,138.8 L580.2,137.9 L579.6,137.0 L578.9,136.6 L579.3,135.7 L579.7,134.9 L580.6,134.3 L581.5,133.7 L582.4,133.1 L583.3,132.5 L584.1,131.8 L584.9,131.1 L585.6,130.5 L586.3,129.8 L585.9,128.9 L585.5,127.9 L584.8,126.8 L584.1,125.7 L583.0,125.3 L581.9,124.9 L581.0,125.2 L580.1,125.6 L579.2,125.9 L578.3,125.0 L578.9,124.1 L579.5,123.2 L580.2,122.7 L580.8,122.2 L580.0,120.5 L580.7,120.1 L581.5,119.7 L581.6,118.6 L581.6,117.5 L580.8,116.3 L581.1,115.4 L581.5,114.5 L581.4,113.5 L581.3,112.5 L580.5,110.9 L580.8,110.1 L581.0,109.4 L581.3,108.7 L581.7,107.9 L582.2,107.2 L581.3,106.3 L580.4,105.4 L579.2,104.6 L578.1,103.9 L577.8,102.5 L577.5,101.2 L578.0,100.7 L579.3,102.2 L579.9,102.1 L580.5,103.2 L581.1,104.2 L582.4,104.2 L582.9,103.5 L583.3,102.9 L584.1,102.4 L584.9,101.9 L584.9,101.0 L585.0,100.2 L585.0,99.3 L585.3,98.6 L585.5,97.9 L585.6,97.2 L586.1,96.8 L586.6,96.4 L586.2,95.4 L585.9,94.4 L584.7,93.7 L583.4,93.0 L583.0,92.0 L582.5,90.9 L583.2,90.4 L583.8,89.8 L582.8,89.5 L581.7,89.2 L581.0,88.3 L580.4,87.4 L580.6,86.8 L580.8,86.1 L580.9,85.5 L581.1,84.8 L580.9,83.8 L580.7,82.9 L580.3,83.5 L579.9,84.1 L579.6,84.6 L579.2,85.2 L579.2,86.0 L579.2,86.8 L579.2,87.6 L579.1,88.4 L578.1,88.6 L577.1,88.8 L575.5,87.8 L573.9,86.8 L573.2,85.6 L572.5,84.4 L571.7,83.2 L570.7,82.1 L570.3,82.6 L569.9,83.1 L569.4,83.6 L570.2,84.5 L570.9,85.4 L571.4,86.3 L571.9,87.2 L572.4,88.1 L573.0,89.0 L573.6,89.9 L574.7,90.9 L575.7,91.9 L576.7,91.8 L577.8,91.7 L578.5,92.8 L579.2,93.9 L579.9,95.0 L580.7,96.1 L581.6,97.1 L582.5,98.1 L582.6,99.2 L582.7,100.3 L582.1,100.6 L581.5,101.0 L580.4,100.4 L579.3,100.0 L578.3,99.6 L577.3,99.0 L576.2,98.5 L575.0,98.3 L575.4,99.7 L575.6,100.8 L575.8,102.0 L575.5,102.5 L575.1,103.0 L573.5,102.7 L572.4,102.1 L571.4,101.4 L570.5,100.6 L569.6,99.7 L568.5,98.1 L568.5,97.1 L568.4,96.0 L568.5,95.0 L568.5,94.1 L568.0,93.0 L567.6,92.0 L567.0,90.8 L566.3,89.7 L565.3,88.6 L564.3,87.6 L563.8,86.6 L563.2,85.7 L562.8,84.8 L562.5,83.9 L562.3,83.2 L562.1,82.5 L561.9,81.9 L561.9,81.3 L561.8,80.7 L561.7,80.1 L561.6,79.6 L561.5,78.9 L561.4,78.3 L561.2,77.7 L561.5,77.3 L561.7,76.9 L562.0,76.5 L562.5,76.2 L563.0,75.8 L563.5,75.5 L564.3,75.2 L565.1,74.8 L565.3,74.4 L565.5,73.9 L565.8,73.5 L566.0,73.0 L566.6,72.5 L567.2,72.1 L567.8,71.6 L568.4,71.1 L569.6,71.1 L570.8,71.2 L571.0,71.9 L571.2,72.6 L571.3,73.4 L571.1,73.9 L570.8,74.4 L570.5,74.9 L570.3,75.4 L570.6,76.1 L571.0,76.7 L572.4,76.4 L573.7,76.2 L574.1,75.6 L574.4,75.1 L574.7,74.6 L574.4,73.9 L574.1,73.2 L573.8,72.6 L573.0,71.8 L572.3,71.0 L571.5,70.3 L570.7,69.6 L569.0,69.1 L567.2,68.7 L567.4,68.2 L567.6,67.6 L567.4,66.9 L567.2,66.3 L566.9,65.7 L566.7,65.1 L566.4,64.6 L566.0,64.0 L565.7,63.5 L565.3,63.0 L565.3,62.5 L565.3,62.0 L565.2,61.5 L565.2,61.0 L564.7,60.4 L564.2,59.9 L563.7,59.3 L562.1,59.0 L562.2,58.4 L562.2,57.8 L562.2,57.2 L562.3,56.6 L562.4,56.0 L562.4,55.4 L561.0,55.4 L559.6,55.5 L558.2,55.6 L557.8,56.2 L557.4,56.7 L556.5,56.6 L555.7,56.4 L554.9,56.3 L554.7,55.9 L554.5,55.5 L554.4,55.1 L554.2,54.7 L555.5,54.2 L556.8,53.6 L558.5,53.3 L560.1,53.0 L560.2,52.5 L560.3,52.0 L558.6,52.3 L557.0,52.6 L556.2,53.1 L555.4,53.7 L554.5,53.5 L553.7,53.3 L553.5,53.0 L553.2,52.6 L553.0,52.2 L552.8,51.8 L551.6,52.0 L550.5,52.1 L550.1,51.9 L549.7,51.6 L549.2,51.4 L548.8,51.1 L548.3,50.9 L547.9,50.7 L546.2,51.3 L545.7,51.2 L545.1,51.0 L544.5,50.9 L544.0,50.8 L543.4,50.8 L542.9,50.7 L542.4,50.5 L542.0,50.4 L541.5,50.2 L541.1,50.1 L540.6,50.0 L540.2,49.8 L539.7,49.7 L539.2,49.8 L538.6,50.0 L538.1,50.1 L537.6,50.3 L537.1,50.4 L536.9,50.0 L536.8,49.6 L536.6,49.2 L536.2,48.9 L535.9,48.7 L535.5,48.5 L535.2,48.2 L535.0,47.7 L534.8,47.2 L534.6,46.8 L535.1,45.8 L535.6,44.8 L536.1,43.9 L535.5,43.8 L535.0,43.6 L534.5,43.5 L534.0,43.4 L533.4,43.3 L532.9,43.2 L532.4,43.1 L531.8,43.1 L531.3,43.0 L530.8,42.9 L530.2,42.9 L529.7,42.7 L529.2,42.5 L528.7,42.3 L528.1,42.1 L527.6,42.0 L527.4,40.7 L527.3,39.5 L526.8,39.7 L526.3,40.0 L525.8,40.2 L525.2,40.2 L524.6,40.3 L524.0,40.4 L523.4,40.5 L522.9,40.8 L522.3,41.1 L521.8,41.5 L521.3,41.9 L520.7,41.9 L520.2,42.0 L519.6,42.0 L519.0,42.1 L518.4,42.2 L517.9,42.3 L517.2,42.2 L516.5,42.1 L515.9,42.0 L515.2,42.0 L514.5,41.9 L513.8,41.9 L513.1,41.9 L512.5,42.1 L512.0,42.3 L511.4,42.6 L510.9,42.9 L510.3,43.1 L509.2,42.7 L508.1,42.3 L507.5,42.6 L506.9,42.9 L506.4,43.2 L505.8,43.5 L505.2,43.8 L504.7,44.1 L504.1,44.4 L503.8,44.9 L503.5,45.4 L503.2,45.9 L502.6,46.3 L502.1,46.6 L501.5,46.9 L501.0,47.3 L500.4,47.6 L499.9,48.0 L499.2,48.3 L498.5,48.6 L497.8,48.9 L497.1,49.2 L496.3,49.5 L495.5,49.8 L494.5,50.0 L493.5,50.3 L492.5,50.6 L491.9,51.1 L491.3,51.6 L490.7,52.0 L490.0,52.3 L489.2,52.7 L488.5,53.0 L488.2,52.5 L488.0,52.0 L487.6,51.2 L487.4,50.4 L487.9,49.8 L488.5,49.3 L489.1,48.7 L489.7,48.2 L490.3,47.7 L491.0,47.2 L491.7,46.8 L491.8,46.0 L491.9,45.3 L491.0,44.5 L490.2,43.7 L490.5,43.0 L490.8,42.3 L491.2,41.7 L491.5,41.0 L491.6,40.1 L491.8,39.3 L492.0,38.4 L492.7,37.9 L493.4,37.4 L494.1,36.8 L494.8,36.3 L495.6,35.8 L496.3,35.3 L495.8,34.5 L495.2,33.7 L494.7,33.0 L494.5,32.3 L494.3,31.5 L494.4,30.4 L494.6,29.4 L494.9,28.7 L495.3,28.1 L495.8,27.2 L496.4,26.3 L497.3,26.7 L498.2,27.2 L499.0,27.8 L499.9,28.4 L500.7,29.0 L500.7,30.0 L500.8,31.0 L500.5,31.8 L500.2,32.6 L500.0,33.5 L499.8,34.3 L500.9,34.5 L501.9,34.7 L502.2,33.8 L502.6,32.9 L503.0,32.0 L503.4,31.2 L504.3,30.8 L505.1,30.4 L506.0,30.0 L506.9,29.8 L507.9,29.6 L508.9,29.4 L509.9,29.2 L510.8,28.9 L511.7,28.7 L512.6,28.4 L513.5,28.2 L514.5,28.0 L515.3,27.4 L516.1,26.9 L516.9,26.1 L517.7,25.3 L518.6,24.6 L519.5,23.7 L520.4,22.9 L519.3,22.9 L518.1,22.9 L517.0,22.9 L515.7,22.7 L514.5,22.5 L514.4,21.8 L514.3,21.1 L514.2,20.4 L514.3,19.7 L514.3,19.1 L515.4,18.5 L516.6,17.9 L517.3,17.4 L518.1,16.9 L519.0,16.4 L519.8,16.0 L520.9,15.9 L522.0,15.8 L523.1,15.8 L524.2,15.7 L525.3,15.4 L526.3,15.1 L527.4,14.8 L527.9,14.5 L528.5,14.2 L528.3,13.9 L528.1,13.6 L527.9,13.4 L529.2,13.3 L530.4,13.3 L531.7,13.3 L532.0,13.4 L532.3,13.6 L532.6,13.8 L533.3,14.0 L534.0,14.3 L534.6,14.7 L535.8,14.7 L537.0,14.8 L538.2,15.0 L539.4,15.1 L539.7,15.3 L539.9,15.6 L541.5,15.6 L543.0,15.7 L544.6,15.7 L544.1,15.4 L543.5,15.1 L542.2,14.8 L540.9,14.6 L539.6,14.5 L538.3,14.3 L539.5,14.3 L540.7,14.4 L541.9,14.5 L542.8,14.5 L543.7,14.5 L543.0,14.2 L542.2,14.0 L541.5,13.9 L540.8,13.7 L540.1,13.6 L540.6,13.7 L541.2,13.7 L542.6,13.9 L544.0,14.1 L544.9,14.3 L545.9,14.5 L547.7,14.8 L549.6,15.2 L551.4,15.6 L553.2,16.0 L555.0,16.5 L556.8,16.9 L558.5,17.5 L560.3,18.0 L562.3,18.7 L563.3,19.0 L564.4,19.4 L566.3,20.1 L568.2,20.9 L568.9,21.2 L569.6,21.5 L568.6,21.0 L567.5,20.6 L566.4,20.2 L566.5,20.2 L566.6,20.2 L566.7,20.3 L566.8,20.3 L568.8,21.1 L570.8,22.0 L572.9,22.9 L575.0,23.9 L575.1,24.0 L575.1,24.0 L576.4,24.7 L577.7,25.3 L579.1,26.1 L580.5,26.8 L581.2,27.3 L582.0,27.7 L582.8,28.1 L583.6,28.6 L584.4,29.1 L584.0,28.9 L583.7,28.7 L583.4,28.5 L582.3,27.9 L581.3,27.3 L580.5,26.9 L579.8,26.4 L579.8,26.4 L579.8,26.5 L579.9,26.5 L580.8,27.0 L582.0,27.7 L583.2,28.4 L584.4,29.2 L584.4,29.1 L584.4,29.1 L584.4,29.1 L585.1,29.6 L585.8,30.0 L586.5,30.5 L585.8,30.0 L585.1,29.6 L584.7,29.3 L584.3,29.1 L583.9,28.8 L583.9,28.8 L583.8,28.8 L583.8,28.7 L583.7,28.7 L584.9,29.5 L586.2,30.3 L587.4,31.0 L588.6,31.9 L588.4,31.7 L588.2,31.6 L588.0,31.5 L588.7,32.0 L589.4,32.5 L589.4,32.4 L589.4,32.4 L590.4,33.1 L591.3,33.8 L592.8,34.9 L594.2,36.0 L595.2,36.8 L596.2,37.6 L596.9,38.2 L597.6,38.7 L599.2,40.2 L600.8,41.6 L602.1,42.8 L603.3,43.9 L604.5,45.1 L605.5,46.2 L606.5,47.2 L607.5,48.3 L607.9,48.7 L608.3,49.2 L608.7,49.7 L609.3,50.3 L609.9,51.0 L610.5,51.7 L611.7,53.2 L612.9,54.7 L614.1,56.2 L614.2,56.5 L614.4,56.7 L614.4,56.6 L614.3,56.6 L614.3,56.5 L614.2,56.4 L614.2,56.4 L614.1,56.3 L614.1,56.3 L614.2,56.4 L614.2,56.4 L613.8,55.9 L613.4,55.4 L612.9,54.9 L612.4,54.5 L613.2,55.5 L613.9,56.5 L614.7,57.5 L615.0,58.2 L615.2,58.8 L615.0,58.7 L614.8,58.7 L615.1,59.5 L615.3,60.3 L615.9,61.5 L616.5,62.6 L617.0,63.8 L617.6,65.0 L618.3,66.2 L618.8,67.4 L619.3,68.6 L619.8,69.9 L620.2,71.2 L619.9,71.6 L619.6,72.0 L620.0,72.9 L620.4,73.9 L620.9,75.1 L621.4,76.3 L621.4,77.2 L621.4,78.1 L621.3,79.0 L620.8,79.5 L620.3,80.0 L620.2,80.8 L620.0,81.6 L620.6,83.2 L621.3,83.5 L621.9,83.7 L622.4,83.4 L622.8,83.2 L623.3,82.7 L623.7,82.7 L624.0,82.7 L623.4,81.4 L623.9,81.7 L624.3,82.1 L624.1,80.8 L623.8,79.7 L623.5,78.6 L622.3,76.6 L621.2,74.5 L621.5,74.6 L621.8,74.7 L622.0,74.3 L622.2,73.9 L622.3,73.4 L622.3,72.8 L621.8,71.5 L622.8,73.0 L623.8,74.7 L624.5,75.7 L625.1,76.8 L625.7,78.0 L626.2,79.2 L626.8,80.4 L627.3,81.7 L627.9,83.4 L628.5,85.1 L629.1,86.9 L629.7,88.5 L630.2,90.1 L630.6,91.8 L631.2,93.8 L631.7,95.9 L632.2,97.8 L632.5,99.7 L632.9,101.7 L633.0,103.1 L633.2,104.4 L632.9,104.1 L632.6,103.8 L632.2,103.2 L631.8,102.6 L631.4,102.1 L631.0,102.2 L630.5,102.4 L630.0,102.5 L629.5,102.7 L629.0,102.9 L628.4,103.1 L627.9,102.7 L627.3,102.4 L626.7,102.1 L626.0,102.4 L625.2,102.8 L624.5,102.9 L623.7,103.1 L622.9,103.2 L622.2,102.9 L621.5,102.6 L622.1,103.5 L622.8,104.5 L621.8,104.8 L620.7,105.2 L621.6,105.5 L622.4,105.7 L623.3,106.0 L623.9,106.0 L624.5,106.0 L625.2,106.1 L625.8,106.1 L626.4,106.2 L627.2,106.2 L627.9,106.1 L628.5,106.7 L629.1,107.2 L629.6,107.8 L630.1,107.6 L630.6,107.3 L631.1,107.4 L631.6,107.6 L632.0,107.7 L632.5,107.1 L632.8,106.4 L633.1,105.6 L633.3,104.9 L633.6,104.8 L633.9,104.7 L633.7,103.1 L633.4,101.6 L633.2,100.0 L632.9,98.5 L632.6,97.1 L632.3,95.6 L632.0,94.2 L631.7,92.7 L632.0,93.5 L632.2,94.2 L632.7,95.6 L633.1,97.0 L633.4,98.5 L633.7,99.9 L634.1,101.7 L634.4,103.4 L634.7,105.2 L635.0,107.4 L635.3,109.5 L635.5,111.7 L635.7,114.3 L635.9,116.9 L636.0,119.5 L636.0,121.8 L636.0,124.1 L635.9,125.9 L635.8,127.6 L635.8,128.2 L635.8,128.7 L635.7,129.3 L635.7,130.4 L635.6,131.5 L635.6,131.3 L635.6,131.0 L635.5,132.0 L635.4,133.0 L635.3,134.0 L635.2,135.0 L635.0,136.6 L634.8,138.2 L634.5,139.9 L634.1,142.0 L633.7,144.1 L633.2,146.1 L632.7,148.2 L632.2,150.3 L631.9,151.3 L631.6,152.3 L631.0,154.3 L630.4,156.3 L629.7,158.3 L629.4,159.3 L629.0,160.2 L628.6,161.2 L627.9,163.0 L627.2,164.7 L626.4,166.5 L625.4,168.7 L624.4,170.8 L623.3,172.9 L622.6,174.1 L621.9,175.4 L621.2,176.6 L620.4,178.0 L619.6,179.4 L618.7,180.7 L617.8,182.1 L616.9,183.4 L616.5,184.0 L616.1,184.6 L616.5,184.1 L616.8,183.5 L617.2,183.0 L617.3,182.9 L617.3,182.8 L617.4,182.7 L617.3,182.9 L617.1,183.1 L617.5,182.6 L617.8,182.1 L618.1,181.6 L618.5,181.1 L618.5,181.0 L618.5,181.0 L618.6,181.0 L618.6,180.9 L618.7,180.8 L618.7,180.7 L618.8,180.6 L619.2,179.9 L619.7,179.2 L620.1,178.4 L620.6,177.7 L621.3,176.3 L622.1,174.9 L622.8,173.4 L623.0,172.9 L623.1,172.4 L623.1,172.1 L623.0,171.8 L622.9,171.5 L622.8,171.1 L622.8,170.6 L622.8,170.1 L622.1,170.7 L621.3,171.3 L621.0,171.1 L620.7,170.9 L620.9,169.8 L621.0,168.6 L621.1,167.5 L621.1,166.4 L620.5,166.4 L619.8,166.4 L619.1,167.5 L618.4,168.6 L617.6,169.7 L616.8,170.0 L615.8,170.3 L615.2,170.3 L614.1,171.6 L613.0,172.9 L612.1,174.1 L611.2,175.2 L610.1,177.0 L609.0,178.7 L607.7,180.3 L606.4,181.2 L605.1,182.2 L603.9,183.4 L602.8,184.6 L601.6,185.8 L600.4,187.0 L599.0,187.5 L597.5,188.0 L595.9,188.3 L594.4,188.6 L593.0,188.6 L591.6,188.5 L590.9,187.6 L589.7,187.5 L588.4,187.3 L586.9,187.2 L585.4,187.0 L584.8,186.4 L584.2,185.7 L583.6,185.0 L584.2,183.6 L584.8,182.2 L584.8,180.8 L584.8,179.5 L584.3,178.6 L583.7,177.8 L583.1,177.0 L582.4,176.2 L582.5,174.9 L582.6,173.7 L582.6,172.4 L582.7,171.1 L583.2,169.5 L583.7,168.0 L584.1,166.0 L584.5,163.9 L585.6,162.5 L586.7,161.0 L587.4,159.5 L588.0,157.9 L587.6,156.7 L587.3,155.5 L587.1,154.2 L586.9,152.9 L587.4,151.0 L588.1,149.7 L588.9,148.4 L588.7,146.6 L588.5,144.9 L589.7,144.3 L590.9,143.6 L592.1,142.9 L593.3,142.1 L594.0,140.6 L594.7,139.1 L595.4,137.6 L596.1,136.1 L596.7,134.6 L597.5,133.6 L598.2,132.6 L598.9,131.6 L599.6,130.6 L600.2,129.6 L600.8,128.6 L601.4,127.6 L601.9,126.5 L602.5,126.1 L603.1,125.6 L603.6,126.9 L604.0,128.3 L605.6,128.6 L605.6,130.5 L606.5,130.2 L607.3,129.9 L608.2,129.0 L609.0,128.2 L609.7,127.3 L610.5,126.4 L611.5,125.8 L612.4,125.3 L613.3,124.7 L613.9,123.9 L614.5,123.1 L615.1,122.2 L614.5,121.3 L613.9,120.3 L613.9,118.9 L613.9,117.5 L614.7,116.5 L615.4,115.4 L616.2,114.4 L616.9,113.4 L617.4,112.4 L617.9,111.3 L618.4,110.3 L618.8,109.3 L618.8,107.6 L618.8,105.9 L619.2,105.1 L619.5,104.2 L619.5,102.6 L619.5,101.0 L618.8,100.0 L618.1,99.0 L617.2,97.7 L616.4,96.5 L615.4,95.6 L614.4,94.7 L614.2,95.5 L613.9,96.4 L614.1,98.0 L614.3,99.6 L613.9,100.8 L613.5,102.0 L613.2,102.8 L612.8,103.7 L612.2,104.5 L611.6,105.3 L610.8,105.2 L609.9,105.1 L609.1,104.4 L608.2,103.6 L607.4,104.1 L606.6,104.6 L606.7,105.8 L606.7,107.0 L606.1,107.9 L607.1,108.3 L608.1,108.7 L609.3,108.5 L609.7,110.5 L610.8,111.6 L610.4,112.6 L609.6,112.7 L608.4,112.1 L607.6,111.8 L606.8,111.4 L605.7,111.5 L604.6,111.5 L603.8,110.9 L603.0,110.3 L601.8,110.5 L600.9,111.1 L600.1,111.6 L599.2,112.1 L597.5,112.1 L596.6,112.4 L595.8,112.7 L595.2,112.0 L595.1,113.0 L594.9,113.9 L596.0,114.7 L597.6,114.7 L598.5,114.9 L599.4,115.2 L600.4,114.5 L601.3,113.9 L602.4,113.7 L603.5,113.4 L604.6,113.2 L604.6,114.4 L604.5,115.7 L605.3,117.4 L605.3,118.9 L604.6,117.7 L604.0,116.5 L603.1,116.5 L602.4,116.9 L601.7,117.2 L600.8,117.6 L600.0,118.0 L598.6,118.4 L597.6,118.6 L596.5,118.8 L595.8,118.2 L595.0,117.7 L594.3,118.2 L593.5,118.7 L593.5,119.7 L593.4,120.7 L593.3,121.8 L593.1,122.9 L592.4,123.5 L591.6,124.1 L591.2,125.1 L590.7,126.1 L591.4,126.8 L592.0,127.5 L591.6,128.6 L591.3,129.8 L590.9,130.9 L591.0,132.1 L591.1,134.2 L592.4,134.9 L592.4,136.1 L592.5,137.3 L592.2,138.6 L591.8,140.0 L591.1,140.7 L590.3,141.5 L589.4,142.2 L589.1,143.3Z M513.8,116.5 L513.0,116.1 L512.3,115.7 L511.7,115.4 L511.0,115.0 L510.4,114.3 L509.8,113.5 L509.3,112.8 L508.8,112.1 L508.2,111.2 L507.7,110.3 L507.2,109.4 L506.4,109.1 L505.7,108.8 L505.0,108.5 L505.8,106.8 L506.6,105.1 L507.5,104.8 L508.4,104.5 L509.4,104.2 L510.2,103.9 L510.3,101.9 L510.0,101.2 L509.6,100.4 L509.2,99.6 L508.9,98.8 L508.1,99.0 L507.3,99.1 L506.9,98.6 L506.5,98.1 L506.0,97.6 L505.6,97.0 L505.4,96.2 L505.3,95.3 L505.2,94.5 L505.7,93.2 L506.3,91.9 L507.0,90.7 L507.4,90.8 L507.9,90.9 L508.4,91.0 L508.9,91.1 L509.3,91.3 L509.8,91.6 L510.2,91.9 L510.7,92.1 L511.1,92.4 L511.6,92.6 L511.8,93.4 L511.9,94.3 L512.1,95.1 L512.4,95.7 L512.6,96.4 L512.9,97.0 L513.2,97.6 L513.5,98.2 L513.9,98.8 L514.2,99.4 L514.6,100.0 L514.9,100.7 L515.3,101.3 L515.6,101.9 L515.6,103.3 L515.6,104.6 L516.0,105.6 L516.5,106.5 L517.1,107.5 L517.7,108.1 L518.3,108.7 L517.7,109.8 L517.1,110.8 L516.3,110.9 L515.5,111.0 L514.2,112.7 L514.0,114.6Z M518.2,84.6 L517.5,85.3 L516.7,86.0 L515.9,86.6 L515.1,87.3 L514.5,87.5 L513.9,87.6 L513.3,87.8 L513.0,87.6 L512.6,87.3 L512.3,87.0 L512.0,86.8 L511.6,86.5 L511.3,86.2 L511.0,85.9 L511.8,84.6 L512.2,84.6 L512.7,84.5 L513.2,84.5 L513.7,84.4 L513.7,83.7 L513.8,83.0 L513.9,82.3 L513.8,81.9 L513.7,81.5 L513.6,81.2 L513.5,80.8 L513.9,79.9 L514.3,79.1 L514.9,78.9 L515.4,78.7 L516.0,78.5 L516.4,78.5 L516.7,78.5 L517.1,78.4 L517.5,78.4 L517.9,78.3 L518.3,78.2 L518.6,78.2 L518.9,78.2 L519.2,78.2 L519.5,78.2 L519.8,78.2 L520.0,78.2 L520.3,78.2 L520.6,78.2 L520.8,78.2 L521.1,78.2 L521.4,78.1 L521.6,78.2 L521.8,78.4 L522.0,78.5 L522.2,78.6 L522.4,78.7 L522.6,78.8 L522.8,78.9 L523.0,79.0 L523.3,79.0 L523.5,79.1 L523.7,79.2 L523.8,79.7 L524.0,80.2 L523.6,80.7 L523.2,81.2 L522.7,81.7 L522.3,82.2 L521.9,82.5 L521.4,82.9 L521.0,83.2 L520.5,83.5 L520.1,83.8 L519.6,84.0 L519.2,84.2 L518.7,84.4Z M514.4,82.2 L514.0,82.2 L513.5,82.2 L513.0,82.2 L512.6,82.2 L512.8,81.5 L512.9,80.9 L513.2,80.2 L513.4,79.5 L514.1,79.3 L514.7,79.0 L515.4,78.8 L515.5,79.1 L515.6,79.4 L515.7,79.7 L515.8,80.0 L515.1,81.1Z M512.4,91.1 L513.2,89.7 L514.0,88.4 L513.7,88.1 L513.3,87.8 L513.0,87.5 L512.7,87.2 L512.4,86.9 L512.0,86.6 L511.6,86.5 L511.1,86.4 L510.7,86.3 L510.2,86.2 L509.8,86.0 L509.4,85.9 L508.5,87.6 L508.8,88.0 L509.1,88.4 L509.4,88.7 L509.7,89.1 L510.0,89.5 L510.4,89.8 L510.7,90.2 L511.1,90.4 L511.6,90.7 L512.0,90.9Z M507.8,87.0 L507.4,86.7 L507.1,86.4 L506.7,86.1 L506.4,85.8 L506.5,85.1 L506.6,84.3 L506.8,83.6 L507.5,83.5 L508.2,83.4 L508.3,83.9 L508.5,84.3 L508.6,84.8 L508.2,85.9Z M505.1,92.1 L504.7,91.8 L504.3,91.5 L503.9,91.2 L503.6,90.9 L503.2,90.6 L504.2,89.3 L505.3,87.9 L505.7,88.2 L506.1,88.4 L506.5,88.6 L506.9,88.8 L507.3,89.0 L506.5,90.8Z M501.7,90.5 L501.5,89.9 L501.4,89.3 L501.2,88.7 L501.1,88.1 L501.9,86.7 L502.8,86.5 L503.7,86.4 L503.9,86.9 L504.1,87.4 L504.4,87.8 L503.4,89.5Z M496.6,92.2 L496.2,91.7 L495.8,91.3 L495.4,90.8 L495.0,90.3 L494.6,89.8 L494.1,89.5 L493.5,89.1 L492.9,88.8 L492.4,88.4 L492.2,87.8 L492.0,87.1 L491.9,86.5 L491.7,85.9 L491.6,85.2 L491.9,84.4 L492.1,83.5 L492.4,82.7 L493.9,82.1 L495.4,81.5 L496.8,80.9 L497.3,81.2 L497.8,81.5 L498.4,81.8 L498.5,82.3 L498.7,82.7 L498.9,83.2 L499.1,83.7 L499.4,84.1 L499.9,84.4 L500.4,84.6 L500.9,84.9 L500.8,85.6 L500.8,86.2 L500.8,86.9 L499.6,88.4 L498.3,89.8 L497.5,91.0Z M493.7,80.8 L493.6,80.2 L493.6,79.6 L493.6,79.0 L493.6,78.4 L493.6,77.9 L495.3,76.9 L497.0,76.0 L497.8,76.1 L498.6,76.2 L498.8,76.5 L498.9,76.9 L499.1,77.3 L499.3,77.7 L499.6,78.0 L499.8,78.4 L500.0,78.7 L499.6,79.4 L499.3,80.1 L498.9,80.9 L498.3,80.7 L497.7,80.5 L497.0,80.2 L496.4,80.0 L495.0,80.4Z M505.0,82.1 L504.5,81.9 L504.1,81.7 L503.7,81.6 L503.3,81.4 L502.9,81.2 L502.8,80.8 L502.7,80.4 L502.6,80.0 L502.5,79.6 L502.4,79.2 L502.6,78.7 L502.9,78.1 L503.2,77.6 L503.7,77.8 L504.2,78.0 L504.6,78.2 L504.7,78.6 L504.9,79.0 L505.0,79.3 L505.1,79.7 L505.2,80.1 L505.3,80.5 L505.5,80.9 L505.6,81.4Z M504.1,77.2 L503.7,76.9 L503.2,76.7 L502.8,76.5 L502.4,76.2 L503.0,75.5 L503.6,74.9 L504.0,75.1 L504.4,75.4 L504.9,75.6 L505.3,75.8 L504.7,76.4Z M508.2,80.9 L508.7,80.0 L509.2,79.2 L509.6,79.3 L509.9,79.5 L510.3,79.6 L510.7,79.8 L511.1,79.9 L509.9,81.4 L509.5,81.3 L509.0,81.1 L508.6,81.0Z M496.9,93.8 L497.3,94.3 L497.7,94.8 L498.1,95.3 L499.0,94.6 L499.8,93.9 L499.6,93.4 L499.5,92.9 L498.8,92.7 L498.2,92.4Z M510.4,93.7 L510.9,94.0 L511.3,94.2 L511.8,94.5 L512.3,94.8 L513.3,93.4 L512.9,93.1 L512.5,92.8 L512.2,92.6 L511.8,92.3Z M505.7,78.5 L505.9,78.8 L506.2,79.1 L506.4,79.3 L506.7,79.6 L507.7,78.7 L507.5,78.5 L507.2,78.3 L507.0,78.0 L506.8,77.8Z M508.7,80.0 L509.0,80.2 L509.3,80.5 L509.6,80.7 L509.9,80.9 L511.1,79.9 L510.9,79.6 L510.8,79.2 L510.7,78.9 L509.7,79.5Z M509.9,81.9 L510.1,82.1 L510.3,82.3 L510.6,82.5 L511.9,81.2 L511.6,81.0 L511.4,80.7Z M507.2,103.9 L507.9,104.1 L508.6,104.3 L509.3,102.7 L508.8,102.4 L508.4,102.1 L507.8,103.0Z M498.9,109.6 L499.5,110.3 L500.1,110.9 L501.1,109.9 L500.4,109.5 L499.7,109.0Z M500.9,112.2 L501.5,112.9 L502.0,111.7Z M505.8,82.2 L505.9,82.7 L505.9,83.1 L506.0,83.5 L506.1,83.9 L507.4,82.6 L507.2,82.3 L507.0,82.0 L506.8,81.7Z M499.3,77.6 L499.4,78.0 L499.5,78.4 L499.7,78.9 L499.8,79.3 L501.7,78.8 L501.7,78.4 L501.7,78.0 L501.6,77.6 L501.6,77.2 L500.4,77.4Z M490.0,78.7 L490.0,79.3 L490.0,79.8 L490.1,80.3 L491.9,79.8 L491.8,79.3 L491.7,78.9 L491.6,78.4Z M489.0,70.7 L488.9,71.2 L488.8,71.6 L489.7,71.3 L489.7,70.9 L489.7,70.6Z M501.1,110.8 L500.5,110.1 L500.0,109.3 L499.4,108.6 L498.9,107.9 L498.4,107.1 L498.7,105.8 L499.1,104.6 L500.1,104.4 L501.1,104.3 L501.4,105.2 L501.8,106.1 L502.1,107.1 L502.2,108.2 L502.3,109.3Z M515.1,144.4 L516.3,142.8 L517.1,141.3 L517.9,139.8 L518.9,138.6 L519.9,137.4 L520.6,137.7 L520.3,139.0 L520.0,140.4 L521.1,140.9 L522.1,141.3 L522.5,142.7 L522.9,144.0 L523.5,145.1 L523.1,147.0 L521.8,146.5 L520.5,146.3 L519.3,144.9 L518.4,144.8 L517.4,144.7 L516.3,144.5Z M509.4,139.2 L510.3,139.6 L511.3,140.1 L512.3,140.5 L512.5,141.1 L511.6,141.0 L510.7,140.8 L509.7,140.6Z M508.8,145.3 L510.1,145.7 L511.4,146.0 L510.6,146.6 L509.7,146.2 L508.7,145.9Z M469.1,173.3 L470.7,173.4 L472.3,173.5 L473.8,174.2 L475.4,174.8 L476.7,176.1 L478.1,177.4 L479.1,178.6 L480.2,179.7 L481.6,180.7 L483.0,181.7 L484.0,182.8 L485.1,183.8 L484.0,183.6 L482.9,183.4 L481.3,182.7 L479.7,182.0 L479.1,180.5 L477.9,179.4 L476.8,178.2 L475.6,177.1 L474.6,176.2 L473.5,175.3 L472.3,175.0 L471.1,174.6 L470.1,174.0Z M484.3,186.2 L485.8,185.6 L487.3,185.1 L488.8,185.6 L490.3,186.1 L491.9,187.2 L493.5,188.2 L494.4,189.3 L493.0,189.2 L491.6,189.0 L490.3,189.0 L488.9,189.0 L487.9,188.3 L486.9,187.6 L485.6,186.9Z M478.0,183.5 L479.5,184.4 L481.1,185.3 L480.2,185.4 L478.6,184.5Z M496.4,190.0 L497.8,190.5 L499.2,190.9 L499.1,191.4 L497.7,191.1 L496.3,190.7Z M481.3,171.6 L482.7,172.8 L481.9,174.0 L480.4,173.9 L480.8,172.4Z M480.8,175.0 L480.9,176.4 L482.1,177.2 L483.2,177.9 L484.1,177.5 L482.7,176.1 L481.8,175.6Z M546.5,107.5 L546.8,106.8 L547.2,106.0 L547.5,105.2 L548.1,105.0 L548.7,104.8 L549.4,104.6 L550.0,104.4 L550.5,103.9 L551.1,103.4 L551.6,102.8 L553.0,103.8 L554.3,104.5 L554.2,105.4 L554.1,106.2 L553.7,107.1 L553.3,108.0 L552.9,108.9 L552.0,109.1 L551.2,109.2 L550.3,109.4 L549.6,109.5 L548.9,109.6 L548.8,108.0 L548.0,108.1 L547.2,108.3Z M575.9,123.5 L576.5,122.5 L577.1,121.5 L577.6,120.5 L578.3,119.7 L579.1,118.8 L579.8,117.9 L580.1,117.1 L580.4,116.2 L579.3,116.1 L578.8,113.9 L578.2,114.2 L577.5,114.6 L576.0,113.4 L574.9,113.2 L573.8,113.0 L572.3,111.9 L571.6,112.6 L571.1,111.1 L570.7,109.6 L570.0,110.1 L569.2,110.5 L568.5,108.8 L567.9,109.4 L567.2,110.1 L567.5,111.1 L567.9,112.1 L569.2,113.5 L569.2,114.7 L570.1,114.9 L571.0,115.1 L571.6,115.6 L572.2,115.0 L572.8,114.3 L573.1,115.5 L574.6,116.6 L574.1,117.0 L573.5,117.4 L574.0,118.4 L574.9,118.9 L574.7,119.6 L574.5,120.4 L575.4,120.0 L576.2,119.6 L576.0,120.6 L576.0,122.0Z M573.4,120.4 L572.6,119.4 L571.9,118.5 L571.6,116.8 L569.8,116.1 L569.0,116.8 L568.9,118.5 L568.5,119.2 L568.0,119.9 L569.0,121.2 L569.7,122.0 L570.4,122.7 L570.1,123.9 L571.1,123.8 L571.6,123.1 L572.1,122.4 L572.8,121.4Z M546.0,77.5 L546.8,77.6 L547.6,77.6 L548.4,77.7 L549.3,77.7 L550.1,77.7 L549.7,77.1 L549.4,76.5 L549.0,75.9 L548.9,75.5 L548.7,75.0 L548.6,74.6 L548.4,74.1 L548.2,73.7 L548.0,73.3 L547.8,72.9 L547.6,72.5 L546.5,72.1 L545.4,71.8 L545.2,72.1 L545.0,72.3 L544.8,72.5 L544.6,72.7 L544.4,73.0 L544.1,73.2 L543.9,73.4 L544.0,73.7 L544.1,74.1 L544.2,74.4 L544.3,74.8 L544.2,75.1 L544.1,75.4 L544.1,75.7 L544.0,76.0 L543.9,76.3 L544.9,76.9Z M560.8,63.9 L561.2,63.4 L561.5,62.8 L561.8,62.3 L561.6,61.8 L561.3,61.3 L561.1,60.7 L559.8,61.4 L558.5,62.0 L557.0,61.7 L555.6,61.4 L554.8,61.0 L553.9,60.7 L553.1,60.4 L552.3,60.2 L551.8,59.9 L551.2,59.6 L550.6,59.3 L550.1,59.1 L549.5,58.8 L549.0,58.6 L549.0,59.0 L549.0,59.4 L549.5,59.7 L549.9,59.9 L550.3,60.2 L550.7,60.5 L551.1,60.8 L551.5,61.2 L551.9,61.5 L552.7,61.8 L553.5,62.1 L554.3,62.4 L555.1,62.8 L556.6,63.1 L558.1,63.5 L559.4,63.7Z M538.9,53.5 L538.7,53.3 L538.5,53.0 L538.3,52.7 L538.1,52.4 L537.9,52.1 L537.4,52.1 L537.0,52.1 L536.5,52.1 L536.1,52.1 L536.0,52.9 L535.9,53.7 L535.7,54.4 L535.5,55.2 L535.9,55.2 L536.2,55.2 L536.6,55.2 L537.0,55.3 L537.3,55.3 L538.1,54.4Z M524.1,44.9 L523.6,44.9 L523.1,44.9 L522.6,44.9 L522.1,44.9 L521.6,45.0 L521.1,45.0 L520.6,45.2 L520.1,45.4 L519.7,45.5 L519.2,45.7 L518.8,45.9 L518.4,46.1 L518.0,46.4 L517.5,46.6 L518.1,46.6 L518.6,46.7 L519.1,46.7 L519.7,46.8 L520.2,46.9 L520.6,46.8 L521.1,46.7 L521.5,46.6 L522.0,46.5 L522.4,46.4 L522.9,46.4 L523.3,46.3 L523.7,45.6Z M545.9,66.7 L545.7,66.4 L545.6,66.1 L545.5,65.9 L545.3,65.6 L545.2,65.3 L545.0,65.0 L544.9,64.8 L544.7,64.5 L544.5,64.3 L544.4,64.0 L544.2,63.8 L543.9,63.5 L543.7,63.3 L543.5,63.1 L543.3,62.9 L543.0,62.6 L542.8,62.4 L542.7,62.7 L542.6,63.0 L542.5,63.3 L542.4,63.6 L542.3,63.8 L542.2,64.1 L542.0,64.4 L542.3,64.6 L542.5,64.8 L542.8,65.0 L543.0,65.2 L543.2,65.4 L543.5,65.7 L543.7,65.9 L543.9,66.2 L544.9,66.4Z M511.3,18.5 L510.4,18.8 L509.5,19.1 L510.0,19.5 L510.4,19.9 L510.9,20.3 L510.1,21.2 L510.7,21.6 L511.4,22.1 L512.1,22.6 L512.3,23.1 L512.6,23.6 L513.2,23.8 L513.5,23.1 L513.3,22.5 L513.0,21.9 L512.7,21.3 L512.5,20.7 L512.3,20.1 L512.1,19.5 L511.7,18.9Z M512.8,16.1 L511.9,16.4 L511.0,16.8 L509.7,16.9 L508.4,17.1 L507.5,17.4 L506.6,17.8 L505.8,18.2 L507.4,18.2 L508.6,18.2 L509.9,18.2 L511.1,18.2 L511.2,17.7 L511.2,17.2 L512.1,16.8 L513.0,16.4Z M510.7,16.3 L510.1,16.1 L509.5,15.9 L510.1,15.5 L510.6,15.2 L510.5,15.0 L510.5,14.7 L510.8,14.5 L512.2,14.2 L513.4,14.1 L514.5,13.9 L516.1,13.7 L517.2,13.5 L518.3,13.4 L519.2,13.4 L520.7,13.3 L522.3,13.2 L523.9,13.1 L525.4,13.1 L524.3,13.2 L523.1,13.4 L521.6,13.5 L520.0,13.6 L518.5,13.7 L517.6,13.9 L516.7,14.2 L515.7,14.4 L514.6,14.6 L513.6,14.8 L513.0,15.1 L512.4,15.4 L512.6,15.6 L512.7,15.9 L511.7,16.1Z M603.1,122.7 L603.6,121.7 L604.0,120.7 L604.5,119.7 L604.9,118.6 L605.6,119.9 L606.3,121.1 L605.4,121.8 L604.5,122.4 L603.6,123.1Z M596.9,123.6 L597.4,122.8 L597.8,122.0 L598.8,123.1 L599.8,124.1 L599.6,125.3 L599.1,125.9 L598.0,124.8Z M595.5,119.9 L596.8,120.9 L597.2,122.0 L596.4,122.1 L595.6,121.2Z M612.1,112.0 L612.6,110.8 L613.0,109.7 L613.4,108.6 L613.6,109.2 L613.3,110.2 L612.9,111.2 L612.4,112.2Z M615.5,100.9 L615.4,99.7 L615.3,98.6 L615.2,97.4 L616.2,99.0 L616.0,99.9 L615.8,100.9Z M500.4,49.9 L500.2,50.3 L499.9,50.7 L499.7,51.1 L499.5,51.5 L500.0,51.3 L500.5,51.1 L500.4,50.5Z M485.5,51.0 L485.0,51.6 L484.6,52.1 L484.1,52.7 L483.9,52.1 L484.5,51.5 L485.1,50.9Z" fill="#b4b4b4" stroke="#3a3a3a" stroke-width="0.55" stroke-linejoin="round"/>
<path d="M605.5,100.0 L604.3,98.5 L603.4,96.9 L602.5,95.2 L601.8,93.9 L601.1,92.7 L601.5,92.2 L602.0,91.7 L603.1,91.5 L604.2,91.2 L604.1,89.9 L603.8,88.5 L603.9,87.6 L604.0,86.8 L604.4,86.1 L604.7,85.4 L605.4,84.8 L606.1,84.3 L607.4,84.1 L608.6,83.8 L608.9,85.2 L609.3,86.7 L609.2,87.7 L609.0,88.6 L608.9,89.6 L608.3,90.5 L607.7,91.4 L607.6,92.7 L607.4,93.9 L607.7,95.4 L608.0,97.0 L607.8,98.2 L607.5,99.5 L606.5,99.8Z M603.4,88.8 L602.7,87.5 L602.0,86.1 L601.3,84.7 L601.2,83.8 L601.0,82.9 L601.9,84.2 L602.6,85.5 L603.5,87.1 L603.5,88.0Z" fill="#f6b898" stroke="#3a3a3a" stroke-width="0.5"/>
<path d="M603.8,75.5 L602.3,74.1 L601.7,73.1 L601.1,72.1 L600.7,71.2 L600.3,70.3 L599.9,69.4 L600.0,68.5 L600.1,67.7 L600.9,67.9 L601.7,68.1 L602.5,69.3 L603.2,70.4 L604.1,71.6 L605.1,70.9 L605.4,70.3 L605.6,69.7 L606.4,70.0 L607.2,70.3 L607.3,69.7 L607.4,69.0 L609.0,70.7 L609.7,70.8 L610.5,70.9 L611.1,70.6 L611.7,72.0 L612.3,73.4 L612.8,74.8 L612.6,75.9 L612.4,76.9 L611.3,76.6 L610.2,75.6 L609.1,74.7 L608.3,74.9 L607.2,75.6 L606.0,75.6 L604.9,75.5Z M598.8,61.8 L598.2,60.7 L597.5,59.6 L596.8,58.5 L598.1,58.7 L599.3,58.9 L600.0,59.9 L600.7,60.9 L601.4,61.9 L600.5,61.9 L599.7,61.8Z" fill="#ffffff" stroke="#3a3a3a" stroke-width="0.5"/>
<path d="M476.9,130.2 L477.9,130.2 L479.0,130.3 L480.0,130.4 L481.1,130.4 L482.3,130.7 L483.5,131.0 L484.7,131.3 L485.0,132.7 L485.3,134.2 L484.4,135.8 L483.4,135.1 L482.3,134.5 L481.3,133.8 L480.5,133.2 L479.7,132.5 L478.9,131.9 L478.2,131.3 L477.5,130.7Z M477.4,140.8 L478.2,139.6 L479.1,138.4 L480.0,137.2 L481.5,136.6 L483.0,136.0 L483.2,137.1 L481.7,138.3 L480.2,139.5 L479.5,140.6 L478.8,141.7 L478.1,141.2Z M484.1,136.6 L485.1,137.2 L486.0,137.7 L487.0,138.3 L488.0,138.8 L488.1,140.4 L488.1,141.9 L486.7,142.6 L485.2,143.2 L484.5,142.0 L484.4,139.9 L484.3,137.8Z M482.1,144.3 L483.3,144.4 L484.4,144.5 L485.6,144.6 L486.9,144.9 L488.3,145.2 L487.4,145.6 L485.9,145.8 L484.3,146.0 L483.2,145.2Z M487.6,144.0 L488.7,144.5 L489.8,144.9 L491.0,145.3 L492.1,145.7 L492.1,144.4 L490.9,144.2 L489.7,143.9 L488.4,143.7Z" fill="#fbe1d2" stroke="#3a3a3a" stroke-width="0.5"/>
<path d="M474.7,119.1 L475.4,120.1 L476.1,121.0 L477.0,120.0 L477.9,119.1 L478.9,118.1 L478.8,116.8 L478.8,115.6 L477.7,115.7 L476.5,115.9 L475.6,117.5Z M478.4,92.0 L478.7,92.7 L479.1,93.5 L479.5,94.2 L480.7,94.4 L481.8,94.5 L483.0,94.6 L482.8,93.9 L482.6,93.2 L482.4,92.6 L481.8,92.2 L481.1,91.8 L480.5,91.4 L479.9,91.0Z M482.7,83.4 L483.1,84.0 L483.4,84.6 L483.8,85.2 L484.2,85.8 L485.5,85.3 L486.8,84.7 L486.7,84.2 L486.6,83.6 L486.5,83.0 L485.8,82.6 L485.2,82.2 L484.5,81.8 L483.6,82.6Z" fill="none" stroke="#3a3a3a" stroke-width="0.5"/>
<path d="M470.0,52.1 L469.6,53.8 M470.0,50.2 L469.4,52.0 M470.6,48.1 L469.9,49.9 M471.7,45.9 L470.9,47.7 M473.0,43.8 L472.2,45.5 M474.8,41.8 L473.8,43.5 M477.0,39.4 L475.9,41.1 M479.3,37.7 L478.1,39.3 M482.3,36.2 L481.0,37.8 M486.1,34.8 L484.8,36.2 M489.5,33.5 L488.2,34.8" stroke="#444" stroke-width="0.9" fill="none"/>
<path d="M556.7,26.4 L555.3,26.2 L554.0,26.1 L552.8,26.0 L551.6,26.1 L550.5,26.1 L549.3,26.5 L548.2,26.9 L549.1,27.0 L550.7,26.6 L552.3,26.3 L553.5,26.4 L554.6,26.4 L555.8,26.5Z M590.3,45.9 L589.2,45.0 L588.1,44.1 L586.9,43.2 L586.0,42.3 L585.0,41.4 L585.9,41.8 L586.8,42.5 L587.7,43.3 L588.6,44.0 L589.5,45.0Z" fill="none" stroke="#3a3a3a" stroke-width="0.6"/>
<polyline points="522.3,112.4 523.4,117.9 524,123.4 524.5,128.9 527.3,131.6 531.1,132.1 533.3,134.3 533.9,138.7" fill="none" stroke="#111" stroke-width="1.5" stroke-linejoin="round"/>
<polyline points="532.8,123.4 536.1,122.8 538.2,121.2 539.3,117.9 541.5,114.6 545.9,113.5 551.4,113.5 554.7,115.7 556.9,120.1 559.1,125.6 560.7,131.1" fill="none" stroke="#111" stroke-width="1.5" stroke-linejoin="round"/>
<path d="M605.5,197.5 L605.7,197.2 L605.9,196.9 L606.2,196.6 L606.4,196.3 L606.6,196.1 L606.9,195.8 L607.1,195.5 L607.3,195.1 L607.5,194.8 L607.7,194.5 L607.8,194.2 L608.0,193.9 L608.2,193.5 L608.4,193.2 L608.5,192.8 L608.7,192.5 L608.8,192.1 L609.0,191.8 L609.1,191.4 L609.2,191.0 L609.4,190.6 L609.5,190.3 L609.6,189.9 L609.7,189.5 L609.8,189.1 L609.9,188.7 L610.0,188.3 L610.0,187.8 L610.1,187.4 L610.2,187.0 L610.2,186.6 L610.3,186.1 L610.3,185.7 L610.4,185.2 L610.4,184.8 L610.4,184.3 L610.5,183.9 L610.5,183.4 L610.5,183.0 L610.5,182.5 L610.5,182.0 L610.5,181.5 L610.5,181.0 L610.4,180.5 L610.4,180.0 L610.4,179.5 L610.3,179.0 L610.3,178.5 L610.2,178.0 L610.2,177.5 L610.1,177.0 L610.0,176.4 L610.0,175.9 L609.9,175.4 L609.8,174.8 L609.7,174.3 L609.6,173.8 L609.5,173.2 L609.4,172.6 L609.2,172.1 L609.1,171.5 L609.0,171.0 L608.8,170.4 L608.7,169.8 L608.5,169.2 L608.4,168.7 L608.2,168.1 L608.0,167.5 L607.8,166.9 L607.7,166.3 L607.5,165.7 L607.3,165.1 L607.1,164.5 L606.9,163.9 L606.6,163.3 L606.4,162.7 L606.2,162.0 L605.9,161.4 L605.7,160.8 L605.5,160.2 L605.2,159.5 L605.0,158.9 L604.7,158.3 L604.4,157.6 L604.1,157.0 L603.9,156.4 L603.6,155.7 L603.3,155.1 L603.0,154.4 L602.7,153.8 L602.4,153.1 L602.0,152.4 L601.7,151.8 L601.4,151.1 L601.1,150.5 L600.7,149.8 L600.4,149.1 L600.0,148.4 L599.7,147.8 L599.3,147.1 L598.9,146.4 L598.6,145.7 L598.2,145.1 L597.8,144.4 L597.4,143.7 L597.0,143.0 L596.6,142.3 L596.2,141.6 L595.8,140.9 L595.4,140.2 L595.0,139.5 L594.6,138.9 L594.1,138.2 L593.7,137.5 L593.2,136.8 L592.8,136.1 L592.3,135.4 L591.9,134.7 L591.4,134.0 L591.0,133.2 L590.5,132.5 L590.0,131.8 L589.5,131.1 L589.1,130.4 L588.6,129.7 L588.1,129.0 L587.6,128.3 L587.1,127.6 L586.6,126.9 L586.0,126.2 L585.5,125.5 L585.0,124.7 L584.5,124.0 L583.9,123.3 L583.4,122.6 L582.9,121.9 L582.3,121.2 L581.8,120.5 L581.2,119.8 L580.7,119.1 L580.1,118.3 L579.5,117.6 L579.0,116.9 L578.4,116.2 L577.8,115.5 L577.3,114.8 L576.7,114.1 L576.1,113.4 L575.5,112.7 L574.9,112.0 L574.3,111.3 L573.7,110.5 L573.1,109.8 L572.5,109.1 L571.9,108.4 L571.2,107.7 L570.6,107.0 L570.0,106.3 L569.4,105.6 L568.7,104.9 L568.1,104.2 L567.5,103.6 L566.8,102.9 L566.2,102.2 L565.6,101.5 L564.9,100.8 L564.3,100.1 L563.6,99.4 L562.9,98.7 L562.3,98.0 L561.6,97.4 L561.0,96.7 L560.3,96.0 L559.6,95.3 L559.0,94.7 L558.3,94.0 L557.6,93.3 L556.9,92.7 L556.2,92.0 L555.6,91.3 L554.9,90.7 L554.2,90.0 L553.5,89.4 L552.8,88.7 L552.1,88.1 L551.4,87.4 L550.7,86.8 L550.0,86.1 L549.3,85.5 L548.6,84.9 L547.9,84.2 L547.2,83.6 L546.5,83.0 L545.8,82.3 L545.1,81.7 L544.4,81.1 L543.6,80.5 L542.9,79.9 L542.2,79.3 L541.5,78.7 L540.8,78.1 L540.1,77.5 L539.3,76.9 L538.6,76.3 L537.9,75.7 L537.2,75.1 L536.5,74.5 L535.7,73.9 L535.0,73.4 L534.3,72.8 L533.6,72.2 L532.8,71.7 L532.1,71.1 L531.4,70.6 L530.6,70.0 L529.9,69.5 L529.2,68.9 L528.5,68.4 L527.7,67.8 L527.0,67.3 M510.5,229.5 L510.4,229.5 L510.4,229.5 L510.3,229.5 L510.2,229.4 L510.1,229.4 L510.1,229.3 L510.0,229.2 L509.9,229.2 L509.8,229.1 L509.8,229.0 L509.7,228.9 L509.6,228.8 L509.6,228.7 L509.5,228.5 L509.5,228.4 L509.4,228.3 L509.3,228.1 L509.3,228.0 L509.2,227.8 L509.2,227.6 L509.1,227.4 L509.1,227.3 L509.0,227.1 L508.9,226.8 L508.9,226.6 L508.9,226.4 L508.8,226.2 L508.8,225.9 L508.7,225.7 L508.7,225.4 L508.6,225.2 L508.6,224.9 L508.6,224.6 L508.5,224.4 L508.5,224.1 L508.5,223.8 L508.4,223.5 L508.4,223.1 L508.4,222.8 L508.3,222.5 L508.3,222.1 L508.3,221.8 L508.3,221.4 L508.2,221.1 L508.2,220.7 L508.2,220.3 L508.2,220.0 L508.2,219.6 L508.1,219.2 L508.1,218.8 L508.1,218.3 L508.1,217.9 L508.1,217.5 L508.1,217.1 L508.1,216.6 L508.1,216.2 L508.1,215.7 L508.1,215.2 L508.1,214.8 L508.1,214.3 L508.1,213.8 L508.1,213.3 L508.1,212.8 L508.1,212.3 L508.1,211.8 L508.1,211.3 L508.1,210.7 L508.1,210.2 L508.1,209.7 L508.2,209.1 L508.2,208.6 L508.2,208.0 L508.2,207.4 L508.2,206.9 L508.3,206.3 L508.3,205.7 L508.3,205.1 L508.3,204.5 L508.4,203.9 L508.4,203.3 L508.4,202.7 L508.5,202.0 L508.5,201.4 L508.5,200.8 L508.6,200.1 L508.6,199.5 L508.6,198.8 L508.7,198.2 L508.7,197.5 L508.8,196.8 L508.8,196.1 L508.9,195.5 L508.9,194.8 L508.9,194.1 L509.0,193.4 L509.1,192.7 L509.1,192.0 L509.2,191.2 L509.2,190.5 L509.3,189.8 L509.3,189.1 L509.4,188.3 L509.5,187.6 L509.5,186.8 L509.6,186.1 L509.6,185.3 L509.7,184.6 L509.8,183.8 L509.8,183.0 L509.9,182.2 L510.0,181.5 L510.1,180.7 L510.1,179.9 L510.2,179.1 L510.3,178.3 L510.4,177.5 L510.4,176.7 L510.5,175.9 L510.6,175.1 L510.7,174.2 L510.8,173.4 L510.9,172.6 L510.9,171.8 L511.0,170.9 L511.1,170.1 L511.2,169.2 L511.3,168.4 L511.4,167.5 L511.5,166.7 L511.6,165.8 L511.7,165.0 L511.8,164.1 L511.9,163.2 L512.0,162.4 L512.1,161.5 L512.2,160.6 L512.3,159.7 L512.4,158.9 L512.5,158.0 L512.6,157.1 L512.7,156.2 L512.8,155.3 L512.9,154.4 L513.0,153.5 L513.2,152.6 L513.3,151.7 L513.4,150.8 L513.5,149.9 L513.6,149.0 L513.7,148.1 L513.9,147.2 L514.0,146.3 L514.1,145.3 L514.2,144.4 L514.3,143.5 L514.5,142.6 L514.6,141.7 L514.7,140.7 L514.8,139.8 L515.0,138.9 L515.1,137.9 L515.2,137.0 L515.3,136.1 L515.5,135.2 L515.6,134.2 L515.7,133.3 L515.9,132.4 L516.0,131.4 L516.1,130.5 L516.3,129.5 L516.4,128.6 L516.6,127.7 L516.7,126.7 L516.8,125.8 L517.0,124.8 L517.1,123.9 L517.3,123.0 L517.4,122.0 L517.5,121.1 L517.7,120.1 L517.8,119.2 L518.0,118.3 L518.1,117.3 L518.3,116.4 L518.4,115.4 L518.6,114.5 L518.7,113.6 L518.9,112.6 L519.0,111.7 L519.2,110.8 L519.3,109.8 L519.5,108.9 L519.6,108.0 L519.8,107.0 L519.9,106.1 L520.1,105.2 L520.2,104.2 L520.4,103.3 L520.5,102.4 L520.7,101.5 L520.8,100.5 L521.0,99.6 L521.2,98.7 L521.3,97.8 L521.5,96.9 L521.6,95.9 L521.8,95.0 L521.9,94.1 L522.1,93.2 L522.3,92.3 L522.4,91.4 L522.6,90.5 L522.7,89.6 L522.9,88.7 L523.1,87.8 L523.2,86.9 L523.4,86.0 L523.6,85.2 L523.7,84.3 L523.9,83.4 L524.0,82.5 L524.2,81.6 L524.4,80.8 L524.5,79.9 L524.7,79.0 L524.9,78.2 L525.0,77.3 L525.2,76.5 L525.4,75.6 L525.5,74.8 L525.7,73.9 L525.8,73.1 L526.0,72.2 L526.2,71.4 L526.3,70.6 L526.5,69.8 L526.7,68.9 L526.8,68.1 L527.0,67.3 M426.5,163.9 L426.3,163.5 L426.1,163.1 L426.0,162.6 L425.8,162.2 L425.7,161.8 L425.6,161.4 L425.4,160.9 L425.3,160.5 L425.2,160.0 L425.1,159.6 L425.0,159.2 L425.0,158.7 L424.9,158.3 L424.8,157.8 L424.8,157.4 L424.7,156.9 L424.7,156.4 L424.6,156.0 L424.6,155.5 L424.6,155.0 L424.6,154.6 L424.6,154.1 L424.6,153.6 L424.6,153.1 L424.6,152.6 L424.6,152.2 L424.7,151.7 L424.7,151.2 L424.8,150.7 L424.8,150.2 L424.9,149.7 L425.0,149.2 L425.0,148.7 L425.1,148.2 L425.2,147.7 L425.3,147.2 L425.4,146.7 L425.6,146.2 L425.7,145.7 L425.8,145.2 L426.0,144.6 L426.1,144.1 L426.3,143.6 L426.5,143.1 L426.6,142.6 L426.8,142.0 L427.0,141.5 L427.2,141.0 L427.4,140.5 L427.6,139.9 L427.8,139.4 L428.1,138.9 L428.3,138.3 L428.5,137.8 L428.8,137.3 L429.0,136.7 L429.3,136.2 L429.6,135.7 L429.9,135.1 L430.2,134.6 L430.4,134.0 L430.8,133.5 L431.1,133.0 L431.4,132.4 L431.7,131.9 L432.0,131.3 L432.4,130.8 L432.7,130.2 L433.1,129.7 L433.4,129.1 L433.8,128.6 L434.2,128.0 L434.6,127.5 L434.9,126.9 L435.3,126.4 L435.7,125.8 L436.1,125.3 L436.6,124.7 L437.0,124.2 L437.4,123.6 L437.9,123.1 L438.3,122.5 L438.7,122.0 L439.2,121.4 L439.7,120.9 L440.1,120.3 L440.6,119.7 L441.1,119.2 L441.6,118.6 L442.1,118.1 L442.6,117.5 L443.1,117.0 L443.6,116.4 L444.1,115.9 L444.7,115.3 L445.2,114.8 L445.7,114.2 L446.3,113.7 L446.8,113.1 L447.4,112.6 L448.0,112.0 L448.5,111.5 L449.1,111.0 L449.7,110.4 L450.3,109.9 L450.9,109.3 L451.5,108.8 L452.1,108.2 L452.7,107.7 L453.3,107.2 L453.9,106.6 L454.6,106.1 L455.2,105.6 L455.8,105.0 L456.5,104.5 L457.1,104.0 L457.8,103.4 L458.5,102.9 L459.1,102.4 L459.8,101.8 L460.5,101.3 L461.2,100.8 L461.8,100.3 L462.5,99.8 L463.2,99.2 L463.9,98.7 L464.6,98.2 L465.4,97.7 L466.1,97.2 L466.8,96.7 L467.5,96.2 L468.3,95.7 L469.0,95.2 L469.7,94.7 L470.5,94.2 L471.2,93.7 L472.0,93.2 L472.7,92.7 L473.5,92.2 L474.2,91.7 L475.0,91.2 L475.8,90.7 L476.6,90.3 L477.3,89.8 L478.1,89.3 L478.9,88.8 L479.7,88.4 L480.5,87.9 L481.3,87.4 L482.1,87.0 L482.9,86.5 L483.7,86.1 L484.5,85.6 L485.3,85.1 L486.2,84.7 L487.0,84.2 L487.8,83.8 L488.6,83.4 L489.5,82.9 L490.3,82.5 L491.1,82.1 L492.0,81.6 L492.8,81.2 L493.7,80.8 L494.5,80.4 L495.3,79.9 L496.2,79.5 L497.1,79.1 L497.9,78.7 L498.8,78.3 L499.6,77.9 L500.5,77.5 L501.4,77.1 L502.2,76.7 L503.1,76.3 L504.0,76.0 L504.8,75.6 L505.7,75.2 L506.6,74.8 L507.5,74.5 L508.3,74.1 L509.2,73.7 L510.1,73.4 L511.0,73.0 L511.9,72.7 L512.7,72.3 L513.6,72.0 L514.5,71.6 L515.4,71.3 L516.3,71.0 L517.2,70.6 L518.1,70.3 L519.0,70.0 L519.9,69.7 L520.7,69.4 L521.6,69.1 L522.5,68.8 L523.4,68.5 L524.3,68.2 L525.2,67.9 L526.1,67.6 L527.0,67.3 M448.8,45.9 L449.0,45.6 L449.3,45.4 L449.6,45.1 L449.9,44.9 L450.1,44.7 L450.4,44.4 L450.7,44.2 L451.0,44.0 L451.3,43.8 L451.6,43.6 L452.0,43.4 L452.3,43.2 L452.6,43.0 L452.9,42.8 L453.3,42.6 L453.6,42.5 L454.0,42.3 L454.3,42.2 L454.7,42.0 L455.1,41.9 L455.4,41.7 L455.8,41.6 L456.2,41.5 L456.6,41.3 L457.0,41.2 L457.4,41.1 L457.8,41.0 L458.2,40.9 L458.6,40.8 L459.0,40.8 L459.4,40.7 L459.9,40.6 L460.3,40.5 L460.8,40.5 L461.2,40.4 L461.7,40.4 L462.1,40.3 L462.6,40.3 L463.0,40.3 L463.5,40.3 L464.0,40.3 L464.5,40.2 L464.9,40.2 L465.4,40.2 L465.9,40.3 L466.4,40.3 L466.9,40.3 L467.4,40.3 L468.0,40.4 L468.5,40.4 L469.0,40.4 L469.5,40.5 L470.1,40.6 L470.6,40.6 L471.1,40.7 L471.7,40.8 L472.2,40.9 L472.8,41.0 L473.3,41.0 L473.9,41.2 L474.5,41.3 L475.0,41.4 L475.6,41.5 L476.2,41.6 L476.7,41.8 L477.3,41.9 L477.9,42.0 L478.5,42.2 L479.1,42.4 L479.7,42.5 L480.3,42.7 L480.9,42.9 L481.5,43.0 L482.1,43.2 L482.8,43.4 L483.4,43.6 L484.0,43.8 L484.6,44.0 L485.3,44.3 L485.9,44.5 L486.5,44.7 L487.2,45.0 L487.8,45.2 L488.4,45.4 L489.1,45.7 L489.7,46.0 L490.4,46.2 L491.1,46.5 L491.7,46.8 L492.4,47.0 L493.0,47.3 L493.7,47.6 L494.4,47.9 L495.0,48.2 L495.7,48.5 L496.4,48.9 L497.1,49.2 L497.8,49.5 L498.4,49.8 L499.1,50.2 L499.8,50.5 L500.5,50.9 L501.2,51.2 L501.9,51.6 L502.6,51.9 L503.3,52.3 L504.0,52.7 L504.7,53.1 L505.4,53.5 L506.1,53.8 L506.8,54.2 L507.5,54.6 L508.2,55.0 L508.9,55.5 L509.6,55.9 L510.4,56.3 L511.1,56.7 L511.8,57.2 L512.5,57.6 L513.2,58.0 L513.9,58.5 L514.7,58.9 L515.4,59.4 L516.1,59.8 L516.8,60.3 L517.5,60.8 L518.3,61.3 L519.0,61.7 L519.7,62.2 L520.4,62.7 L521.2,63.2 L521.9,63.7 L522.6,64.2 L523.4,64.7 L524.1,65.2 L524.8,65.7 L525.5,66.2 L526.3,66.8 L527.0,67.3 M543.4,14.0 L543.3,14.0 L543.2,14.0 L543.1,14.1 L543.1,14.1 L543.0,14.1 L542.9,14.2 L542.8,14.2 L542.7,14.3 L542.6,14.3 L542.5,14.4 L542.4,14.5 L542.3,14.6 L542.2,14.7 L542.1,14.8 L542.0,14.9 L541.9,15.0 L541.8,15.1 L541.7,15.3 L541.6,15.4 L541.5,15.6 L541.4,15.7 L541.3,15.9 L541.2,16.1 L541.1,16.2 L541.0,16.4 L540.8,16.6 L540.7,16.9 L540.6,17.1 L540.5,17.3 L540.4,17.5 L540.3,17.8 L540.1,18.0 L540.0,18.3 L539.9,18.5 L539.8,18.8 L539.7,19.1 L539.5,19.4 L539.4,19.7 L539.3,20.0 L539.2,20.3 L539.0,20.6 L538.9,20.9 L538.8,21.3 L538.7,21.6 L538.5,22.0 L538.4,22.3 L538.3,22.7 L538.1,23.1 L538.0,23.4 L537.9,23.8 L537.7,24.2 L537.6,24.6 L537.4,25.0 L537.3,25.5 L537.2,25.9 L537.0,26.3 L536.9,26.8 L536.7,27.2 L536.6,27.7 L536.5,28.1 L536.3,28.6 L536.2,29.1 L536.0,29.5 L535.9,30.0 L535.7,30.5 L535.6,31.0 L535.4,31.5 L535.3,32.1 L535.1,32.6 L535.0,33.1 L534.8,33.7 L534.7,34.2 L534.5,34.8 L534.4,35.3 L534.2,35.9 L534.1,36.4 L533.9,37.0 L533.8,37.6 L533.6,38.2 L533.5,38.8 L533.3,39.4 L533.2,40.0 L533.0,40.6 L532.8,41.2 L532.7,41.9 L532.5,42.5 L532.4,43.1 L532.2,43.8 L532.1,44.4 L531.9,45.1 L531.7,45.8 L531.6,46.4 L531.4,47.1 L531.3,47.8 L531.1,48.5 L530.9,49.2 L530.8,49.9 L530.6,50.6 L530.4,51.3 L530.3,52.0 L530.1,52.7 L530.0,53.4 L529.8,54.2 L529.6,54.9 L529.5,55.6 L529.3,56.4 L529.1,57.1 L529.0,57.9 L528.8,58.6 L528.6,59.4 L528.5,60.2 L528.3,60.9 L528.2,61.7 L528.0,62.5 L527.8,63.3 L527.7,64.1 L527.5,64.9 L527.3,65.7 L527.2,66.5 L527.0,67.3 M627.4,79.3 L627.2,78.9 L627.0,78.5 L626.8,78.1 L626.6,77.7 L626.4,77.3 L626.2,76.9 L625.9,76.5 L625.7,76.1 L625.5,75.7 L625.2,75.4 L625.0,75.0 L624.7,74.6 L624.4,74.3 L624.1,73.9 L623.8,73.5 L623.6,73.2 L623.2,72.8 L622.9,72.5 L622.6,72.1 L622.3,71.8 L622.0,71.4 L621.6,71.1 L621.3,70.8 L620.9,70.5 L620.6,70.1 L620.2,69.8 L619.8,69.5 L619.4,69.2 L619.1,68.9 L618.7,68.6 L618.3,68.3 L617.9,68.0 L617.4,67.7 L617.0,67.4 L616.6,67.1 L616.1,66.9 L615.7,66.6 L615.3,66.3 L614.8,66.1 L614.3,65.8 L613.9,65.5 L613.4,65.3 L612.9,65.0 L612.4,64.8 L611.9,64.6 L611.4,64.3 L610.9,64.1 L610.4,63.9 L609.9,63.6 L609.3,63.4 L608.8,63.2 L608.3,63.0 L607.7,62.8 L607.2,62.6 L606.6,62.4 L606.0,62.2 L605.5,62.0 L604.9,61.9 L604.3,61.7 L603.7,61.5 L603.1,61.3 L602.5,61.2 L601.9,61.0 L601.3,60.9 L600.7,60.7 L600.1,60.6 L599.4,60.4 L598.8,60.3 L598.2,60.2 L597.5,60.0 L596.9,59.9 L596.2,59.8 L595.5,59.7 L594.9,59.6 L594.2,59.5 L593.5,59.4 L592.8,59.3 L592.2,59.2 L591.5,59.1 L590.8,59.0 L590.1,59.0 L589.4,58.9 L588.6,58.8 L587.9,58.8 L587.2,58.7 L586.5,58.7 L585.7,58.6 L585.0,58.6 L584.3,58.6 L583.5,58.5 L582.8,58.5 L582.0,58.5 L581.3,58.5 L580.5,58.5 L579.8,58.5 L579.0,58.5 L578.2,58.5 L577.4,58.5 L576.7,58.5 L575.9,58.5 L575.1,58.5 L574.3,58.6 L573.5,58.6 L572.7,58.6 L571.9,58.7 L571.1,58.7 L570.3,58.8 L569.5,58.8 L568.7,58.9 L567.8,58.9 L567.0,59.0 L566.2,59.1 L565.4,59.2 L564.5,59.3 L563.7,59.3 L562.9,59.4 L562.0,59.5 L561.2,59.6 L560.3,59.8 L559.5,59.9 L558.7,60.0 L557.8,60.1 L556.9,60.2 L556.1,60.4 L555.2,60.5 L554.4,60.7 L553.5,60.8 L552.6,61.0 L551.8,61.1 L550.9,61.3 L550.0,61.4 L549.2,61.6 L548.3,61.8 L547.4,62.0 L546.5,62.1 L545.7,62.3 L544.8,62.5 L543.9,62.7 L543.0,62.9 L542.1,63.1 L541.3,63.3 L540.4,63.6 L539.5,63.8 L538.6,64.0 L537.7,64.2 L536.8,64.5 L535.9,64.7 L535.0,64.9 L534.1,65.2 L533.3,65.4 L532.4,65.7 L531.5,65.9 L530.6,66.2 L529.7,66.5 L528.8,66.7 L527.9,67.0 L527.0,67.3 M418.0,121.8 L418.0,122.6 L418.0,123.4 L418.0,124.3 L418.1,125.1 L418.1,125.9 L418.1,126.7 L418.2,127.6 L418.3,128.4 L418.3,129.2 L418.4,130.0 L418.5,130.8 L418.6,131.7 L418.7,132.5 L418.8,133.3 L418.9,134.1 L419.1,134.9 L419.2,135.8 L419.3,136.6 L419.5,137.4 L419.7,138.2 L419.8,139.0 L420.0,139.8 L420.2,140.6 L420.4,141.4 L420.6,142.2 L420.8,143.0 L421.0,143.8 L421.2,144.6 L421.5,145.4 L421.7,146.2 L422.0,147.0 L422.2,147.8 L422.5,148.6 L422.8,149.4 L423.0,150.2 L423.3,151.0 L423.6,151.8 L423.9,152.5 L424.3,153.3 L424.6,154.1 L424.9,154.9 L425.2,155.6 L425.6,156.4 L425.9,157.2 L426.3,157.9 L426.7,158.7 L427.0,159.4 L427.4,160.2 L427.8,160.9 L428.2,161.7 L428.6,162.4 L429.0,163.2 L429.5,163.9 L429.9,164.7 L430.3,165.4 L430.8,166.1 L431.2,166.8 L431.7,167.6 L432.1,168.3 L432.6,169.0 L433.1,169.7 L433.6,170.4 L434.1,171.1 L434.6,171.8 L435.1,172.5 L435.6,173.2 L436.1,173.9 L436.6,174.6 L437.2,175.3 L437.7,175.9 L438.3,176.6 L438.8,177.3 L439.4,177.9 L439.9,178.6 L440.5,179.3 L441.1,179.9 L441.7,180.6 L442.3,181.2 L442.9,181.8 L443.5,182.5 L444.1,183.1 L444.7,183.7 L445.4,184.3 L446.0,185.0 L446.6,185.6 L447.3,186.2 L447.9,186.8 L448.6,187.4 L449.3,188.0 L449.9,188.5 L450.6,189.1 L451.3,189.7 L452.0,190.3 L452.7,190.8 L453.4,191.4 L454.1,192.0 L454.8,192.5 L455.5,193.0 L456.2,193.6 L456.9,194.1 L457.7,194.6 L458.4,195.2 L459.1,195.7 L459.9,196.2 L460.6,196.7 L461.4,197.2 L462.2,197.7 L462.9,198.2 L463.7,198.6 L464.5,199.1 L465.3,199.6 L466.0,200.1 L466.8,200.5 L467.6,201.0 L468.4,201.4 L469.2,201.9 L470.0,202.3 L470.9,202.7 L471.7,203.1 L472.5,203.6 L473.3,204.0 L474.2,204.4 L475.0,204.8 L475.8,205.1 L476.7,205.5 L477.5,205.9 L478.4,206.3 L479.2,206.6 L480.1,207.0 L480.9,207.4 L481.8,207.7 L482.7,208.0 L483.5,208.4 L484.4,208.7 L485.3,209.0 L486.2,209.3 L487.1,209.6 L487.9,209.9 L488.8,210.2 L489.7,210.5 L490.6,210.8 L491.5,211.1 L492.4,211.3 L493.3,211.6 L494.2,211.8 L495.1,212.1 L496.0,212.3 L497.0,212.5 L497.9,212.8 L498.8,213.0 L499.7,213.2 L500.6,213.4 L501.6,213.6 L502.5,213.8 L503.4,214.0 L504.3,214.1 L505.3,214.3 L506.2,214.5 L507.1,214.6 L508.1,214.8 L509.0,214.9 L509.9,215.0 L510.9,215.2 L511.8,215.3 L512.8,215.4 L513.7,215.5 L514.7,215.6 L515.6,215.7 L516.6,215.8 L517.5,215.8 L518.4,215.9 L519.4,216.0 L520.3,216.0 L521.3,216.1 L522.2,216.1 L523.2,216.1 L524.1,216.2 L525.1,216.2 L526.0,216.2 L527.0,216.2 L528.0,216.2 L528.9,216.2 L529.9,216.2 L530.8,216.1 L531.8,216.1 L532.7,216.1 L533.7,216.0 L534.6,216.0 L535.6,215.9 L536.5,215.8 L537.4,215.8 L538.4,215.7 L539.3,215.6 L540.3,215.5 L541.2,215.4 L542.2,215.3 L543.1,215.2 L544.1,215.0 L545.0,214.9 L545.9,214.8 L546.9,214.6 L547.8,214.5 L548.7,214.3 L549.7,214.1 L550.6,214.0 L551.5,213.8 L552.4,213.6 L553.4,213.4 L554.3,213.2 L555.2,213.0 L556.1,212.8 L557.0,212.5 L558.0,212.3 L558.9,212.1 L559.8,211.8 L560.7,211.6 L561.6,211.3 L562.5,211.1 L563.4,210.8 L564.3,210.5 L565.2,210.2 L566.1,209.9 L566.9,209.6 L567.8,209.3 L568.7,209.0 L569.6,208.7 L570.5,208.4 L571.3,208.0 L572.2,207.7 L573.1,207.4 L573.9,207.0 L574.8,206.6 L575.6,206.3 L576.5,205.9 L577.3,205.5 L578.2,205.1 L579.0,204.8 L579.8,204.4 L580.7,204.0 L581.5,203.5 L582.3,203.1 L583.1,202.7 L584.0,202.3 L584.8,201.9 L585.6,201.4 L586.4,201.0 L587.2,200.5 L588.0,200.1 L588.7,199.6 L589.5,199.1 L590.3,198.6 L591.1,198.2 L591.8,197.7 L592.6,197.2 L593.4,196.7 L594.1,196.2 L594.9,195.7 L595.6,195.2 L596.3,194.6 L597.1,194.1 L597.8,193.6 L598.5,193.0 L599.2,192.5 L599.9,192.0 L600.6,191.4 L601.3,190.8 L602.0,190.3 L602.7,189.7 L603.4,189.1 L604.1,188.5 L604.7,188.0 L605.4,187.4 L606.1,186.8 L606.7,186.2 L607.4,185.6 L608.0,185.0 L608.6,184.3 L609.3,183.7 L609.9,183.1 L610.5,182.5 L611.1,181.8 L611.7,181.2 L612.3,180.6 L612.9,179.9 L613.5,179.3 L614.1,178.6 L614.6,177.9 L615.2,177.3 L615.7,176.6 L616.3,175.9 L616.8,175.3 L617.4,174.6 L617.9,173.9 L618.4,173.2 L618.9,172.5 L619.4,171.8 L619.9,171.1 L620.4,170.4 L620.9,169.7 L621.4,169.0 L621.9,168.3 L622.3,167.6 L622.8,166.8 L623.2,166.1 L623.7,165.4 L624.1,164.7 L624.5,163.9 L625.0,163.2 L625.4,162.4 L625.8,161.7 L626.2,160.9 L626.6,160.2 L627.0,159.4 L627.3,158.7 L627.7,157.9 L628.1,157.2 L628.4,156.4 L628.8,155.6 L629.1,154.9 L629.4,154.1 L629.7,153.3 L630.1,152.5 L630.4,151.8 L630.7,151.0 L631.0,150.2 L631.2,149.4 L631.5,148.6 L631.8,147.8 L632.0,147.0 L632.3,146.2 L632.5,145.4 L632.8,144.6 L633.0,143.8 L633.2,143.0 L633.4,142.2 L633.6,141.4 L633.8,140.6 L634.0,139.8 L634.2,139.0 L634.3,138.2 L634.5,137.4 L634.7,136.6 L634.8,135.8 L634.9,134.9 L635.1,134.1 L635.2,133.3 L635.3,132.5 L635.4,131.7 L635.5,130.8 L635.6,130.0 L635.7,129.2 L635.7,128.4 L635.8,127.6 L635.9,126.7 L635.9,125.9 L635.9,125.1 L636.0,124.3 L636.0,123.4 L636.0,122.6 L636.0,121.8" fill="none" stroke="#555" stroke-width="0.8" stroke-dasharray="0.8,2.4"/>
</g>
<circle cx="527" cy="121.8" r="109" fill="none" stroke="#333" stroke-width="1.3"/>
<text x="406" y="159.3" font-size="9.5" fill="#333" stroke="#333" stroke-width="0.2">120</text><text x="422.5" y="154" font-size="6" fill="#333">°</text><text x="428.5" y="159.3" font-size="9.5" fill="#333" stroke="#333" stroke-width="0.2">W</text>
<text x="496.5" y="222" font-size="9.5" fill="#333" stroke="#333" stroke-width="0.2">60</text><text x="508" y="216.5" font-size="6" fill="#333">°</text><text x="514" y="222" font-size="9.5" fill="#333" stroke="#333" stroke-width="0.2">W</text>
<text x="613.8" y="188.8" font-size="9.5" fill="#333" stroke="#333" stroke-width="0.2">0</text>
<defs><linearGradient id="cb" x1="0" y1="0" x2="0" y2="1"><stop offset="0" stop-color="#6d0a1f"/><stop offset="0.1" stop-color="#b2182b"/><stop offset="0.22" stop-color="#d6604d"/><stop offset="0.33" stop-color="#f4a582"/><stop offset="0.43" stop-color="#fddbc7"/><stop offset="0.5" stop-color="#f7f7f7"/><stop offset="0.57" stop-color="#d1e5f0"/><stop offset="0.67" stop-color="#92c5de"/><stop offset="0.78" stop-color="#4393c3"/><stop offset="0.9" stop-color="#2166ac"/><stop offset="1.0" stop-color="#0b3566"/></linearGradient></defs>
<rect x="637.2" y="11.9" width="11.6" height="64.7" fill="url(#cb)"/>
<path d="M648.8 26.5 H646.8 M648.8 44.7 H646.8 M648.8 63.3 H646.8" stroke="#333" stroke-width="0.6"/>
<text x="652.5" y="30.8" font-size="12" fill="#333" stroke="#333" stroke-width="0.2">1</text>
<text x="652.5" y="49" font-size="12" fill="#333" stroke="#333" stroke-width="0.2">0</text>
<text x="650.5" y="69" font-size="12" fill="#333" stroke="#333" stroke-width="0.2">−1</text>
<text transform="translate(677,77.3) rotate(-90)" font-size="12" fill="#333" stroke="#333" stroke-width="0.2"><tspan font-size="7" dy="-5">°</tspan><tspan dy="5">C century</tspan><tspan font-size="8.5" dy="-5.5" dx="1.5">−1</tspan></text>
<text x="2" y="308.6" font-size="20" stroke="#000" stroke-width="0.2">c</text>
<path d="M59.5 317.7 H632.8" stroke="#111" stroke-width="1.3" fill="none"/>
<path d="M92.3 317.7 V313.2M129.7 317.7 V313.2M167.1 317.7 V313.2M204.5 317.7 V312.2M241.9 317.7 V313.2M279.3 317.7 V313.2M316.6 317.7 V313.2M354 317.7 V312.2M390.5 317.7 V313.2M427.8 317.7 V313.2M465.2 317.7 V313.2M502.5 317.7 V312.2M539.8 317.7 V313.2M575.7 317.7 V313.2M607.5 317.7 V313.2" stroke="#111" stroke-width="1.3" fill="none"/>
<path d="M54.7 308 V367.8 M45.6 317.7 H54.7 M45.6 357.2 H54.7 M50 337.4 H54.7" stroke="#111" stroke-width="1.3" fill="none"/>
<path d="M632.8 308.2 V367.9 M632.8 317.4 H641.1 M632.8 358.5 H641.1 M632.8 337.4 H638" stroke="#111" stroke-width="1.3" fill="none"/>
<text x="56.6" y="304.7" font-size="12.5" text-anchor="middle" stroke="#000" stroke-width="0.2">1860</text>
<text x="204.8" y="306.4" font-size="12.5" text-anchor="middle" stroke="#000" stroke-width="0.2">1900</text>
<text x="352.7" y="306.4" font-size="12.5" text-anchor="middle" stroke="#000" stroke-width="0.2">1940</text>
<text x="501.3" y="306.4" font-size="12.5" text-anchor="middle" stroke="#000" stroke-width="0.2">1980</text>
<text x="630.4" y="306.2" font-size="12.5" text-anchor="middle" stroke="#000" stroke-width="0.2">2020</text>
<text x="416.2" y="301.8" font-size="12.5" text-anchor="middle" stroke="#000" stroke-width="0.2">yr (AD)</text>
<text x="44" y="322" font-size="12.5" text-anchor="end" stroke="#000" stroke-width="0.2">0</text>
<text x="44" y="362" font-size="12.5" text-anchor="end" stroke="#000" stroke-width="0.2">10</text>
<text x="645" y="324.2" font-size="12.5" stroke="#000" stroke-width="0.2">0</text>
<text x="643" y="363.5" font-size="12.5" stroke="#000" stroke-width="0.2">10</text>
<text transform="translate(667,309) rotate(90)" font-size="12.5" stroke="#000" stroke-width="0.2">1σ age unc.</text>
<text transform="translate(652.5,331) rotate(90)" font-size="12.5" stroke="#000" stroke-width="0.2">(yr)</text>
<polyline points="54.7,329.5 63.3,328.7 75.6,329.1 84.2,326.8 93.6,323.4 101.2,321.9 108.8,321.9 116.4,323 125.9,326.8 135.4,330.6 143,333.3 147.7,334.2 154.4,331.9 163.9,328.1 171.4,326.2 180,323.8 182.6,323.4 194,321.1 203.5,322.4 213,324.3 220.5,323.8 231.9,321.9 241.4,320.7 254.7,320.2 266.1,321.1 273.7,321.9 285.1,321.5 296.4,321.9 305,323 311.4,323 324.7,325.7 338,327.6 349.3,329.5 356.9,327.2 368.3,323.4 381.6,320 391.1,320.7 400.6,321.5 410.1,321.5 419.6,324.3 425,325.7 434.5,329.1 445.9,333.8 457.3,330 470.5,325.7 481.9,324 494.3,324 502.8,321.5 506.6,321.5 514.2,324.3 527.5,331 538.9,337.6 549.3,343.3" fill="none" stroke="#222" stroke-width="1.1" stroke-linejoin="round"/>
<path d="M54.6 374.9 V637.5 M45.2 374.9 H54.6 M48.8 388.0 H54.6 M48.8 401.2 H54.6 M48.8 414.3 H54.6 M48.8 427.4 H54.6 M45.2 440.5 H54.6 M48.8 453.7 H54.6 M48.8 466.8 H54.6 M48.8 479.9 H54.6 M48.8 493.1 H54.6 M45.2 506.2 H54.6 M48.8 519.3 H54.6 M48.8 532.5 H54.6 M48.8 545.6 H54.6 M48.8 558.7 H54.6 M45.2 571.9 H54.6 M48.8 585.0 H54.6 M48.8 598.1 H54.6 M48.8 611.2 H54.6 M48.8 624.4 H54.6 M45.2 637.5 H54.6 " stroke="#111" stroke-width="1.2" fill="none"/>
<text x="39.6" y="381.7" font-size="12.5" fill="#2222aa" text-anchor="end" stroke="#2222aa" stroke-width="0.2">1</text>
<text x="39.4" y="511.4" font-size="12.5" fill="#2222aa" text-anchor="end" stroke="#2222aa" stroke-width="0.2">2</text>
<text x="43.4" y="641.1" font-size="12.5" fill="#2222aa" text-anchor="end" stroke="#2222aa" stroke-width="0.2">3</text>
<text transform="translate(31.2,505.2) rotate(-90)" font-size="12.5" fill="#2222aa" textLength="91" lengthAdjust="spacingAndGlyphs" stroke="#2222aa" stroke-width="0.2">N. inc. δ<tspan font-size="8.5" dy="-4"> 18</tspan><tspan dy="4">O (‰)</tspan></text>
<path d="M632.8 374.4 V637.5 M632.8 374.4 H638.6 M632.8 386.9 H636 M632.8 399.3 H636 M632.8 411.8 H636 M632.8 424.2 H636 M632.8 436.7 H638.6 M632.8 449.2 H636 M632.8 461.6 H636 M632.8 474.1 H636 M632.8 486.5 H636 M632.8 499.0 H638.6 M632.8 511.5 H636 M632.8 523.9 H636 M632.8 536.4 H636 M632.8 548.8 H636 M632.8 561.3 H638.6 M632.8 573.8 H636 M632.8 586.2 H636 M632.8 598.7 H636 M632.8 611.1 H636 M632.8 623.6 H638.6 " stroke="#111" stroke-width="1.2" fill="none"/>
<text x="644" y="442" font-size="12.5" stroke="#000" stroke-width="0.2">0</text>
<text x="640" y="566" font-size="12.5" stroke="#000" stroke-width="0.2">-2</text>
<text transform="translate(663.2,406.6) rotate(90)" font-size="12.8" textLength="197" lengthAdjust="spacingAndGlyphs" stroke="#000" stroke-width="0.2">«Warming Hole» SST anomaly (°C)</text>
<path d="M53.4 652.5 H632 M53.4 652.5 V661 M91.2 652.5 V657.6 M128.8 652.5 V657.6 M166 652.5 V657.6 M202.9 652.5 V661 M240.3 652.5 V657.6 M277.4 652.5 V657.6 M315 652.5 V657.6 M352.2 652.5 V661 M389.6 652.5 V657.6 M426.5 652.5 V657.6 M464.3 652.5 V657.6 M501 652.5 V661 M539.1 652.5 V657.6 M574 652.5 V657.6 M605.6 652.5 V657.6 M631.6 652.5 V661 " stroke="#111" stroke-width="1.3" fill="none"/>
<text x="53" y="676.5" font-size="12.5" text-anchor="middle" stroke="#000" stroke-width="0.2">1860</text>
<text x="201" y="675.4" font-size="12.5" text-anchor="middle" stroke="#000" stroke-width="0.2">1900</text>
<text x="350.7" y="675.2" font-size="12.5" text-anchor="middle" stroke="#000" stroke-width="0.2">1940</text>
<text x="497.5" y="675.3" font-size="12.5" text-anchor="middle" stroke="#000" stroke-width="0.2">1980</text>
<text x="631.7" y="678.2" font-size="12.5" text-anchor="middle" stroke="#000" stroke-width="0.2">2020</text>
<text x="427.5" y="674" font-size="12.5" text-anchor="middle" stroke="#000" stroke-width="0.2">yr (AD)</text>
<polyline points="55.2,421 59.3,427.2 63.4,428 66.9,425.7 69.2,418.1 71.5,405.8 73.3,413.4 75.1,421 78,416.9 82.1,421.3 89.1,420.6 97.3,420.2 100.2,418.3 103.1,421.6 107.8,426.3 112.5,429.2 116,426.3 118.3,419.2 121.3,416.7 124.2,417.5 127.1,421.6 128.9,428.6 131.2,435 133.5,433.3 137.6,424.5 140.5,440.3 144,437.4 147,429.8 151.1,423.9 155.1,422.7 159.2,407 163.9,414 168.6,416.3 173.9,422.2 179.1,418.1 183.8,416.3 188.5,420.4 192,422.7 195.5,423.9 199.6,424.5 202.5,442.6 206.6,457.3 209.1,448.5 213.2,440.9 217.9,436.2 222.5,433.3 225.5,430.9 229,438 232.5,423.9 236,416.3 238.3,425.1 240.1,435 243.6,433.9 246.5,436.8 248.9,447.3 251.2,455.5 254.1,441.5 258.2,441.5 262.3,438 265.8,430.9 269.3,435 272.8,419.2 276.3,434.4 279.9,428 284.1,429.1 287.6,426.2 291.1,433.8 295.2,419.8 298.7,424.4 302.2,417.4 305.1,425 309.2,415.1 313.9,408.1 317.4,409.8 320.9,417.4 324.4,425.6 328,417.4 332,409.2 336.1,409.2 339.6,412.7 342.6,404 344.9,415.1 347.3,423.9 351.3,418.6 356,412.7 359.1,403.4 361.4,401.6 364.4,410.4 367.9,404 371.4,409.2 374.9,406.9 379,397.5 380.7,415.1 382.5,438.5 384.8,514.4 386.7,553.1 388.8,514.4 390.4,482.2 392,501.5 394,525.7 395.3,498.3 397.2,466.1 399.4,429.1 402.4,423.3 405.3,418 408.8,426.8 412.3,441.4 415.8,431.5 419.3,439.6 422.8,425.6 426.9,419.8 431,422.1 434.7,424.4 438.2,423.3 441.7,421.5 445.2,426.8 447,437.3 448.7,450.2 451.1,498.5 452.5,536 456.9,475.1 461.6,512.8 464.2,521.6 467.2,521.9 470.9,472.7 474.4,475.1 478,483.3 479.1,465.7 485.6,436.1 488.5,470 493.2,435.6 496.3,604 499.3,560 501,516.3 504.6,515.4 507.2,430.3 510.3,430.3 514.9,404.6 517.9,418.6 519.6,440 522.5,491.5 525.5,440 526.6,423.3 529.6,392.3 533.1,390.5 537.2,423.9 540.1,421.5" fill="none" stroke="#2a35b0" stroke-width="0.8" stroke-linejoin="round"/>
<polyline points="99,427.4 105.5,426.3 109,422.2 113.6,416.9 117.7,414 123,414 126.5,416.3 131.2,426.3 133.5,438 137,445 140.5,447.9 144,443.8 147.5,433.3 151.1,422.2 154.6,416.3 160.4,412.2 165.1,415.1 171.5,422.7 176.8,424.5 181.5,426.3 186.7,428.6 190.8,420.4 196.7,419.2 201.3,416.9 204.9,426.3 207.3,435.6 210.8,443.8 215.5,448.5 219.6,451.4 223.1,447.9 226.6,439.1 230.1,435 234.2,433.9 238.9,436.2 242.4,443.8 245.4,452 250.6,449.1 255.3,440.3 260,433.9 263.5,427.4 267,438 270.5,449.6 274.6,460.8 279.9,458.4 284.7,452.5 289.4,442 293.5,432.6 297.5,429.1 303.4,427.4 308.1,425 313.9,421.5 318.6,423.3 323.3,421.5 326.8,422.7 330.3,428 335,429.1 339.6,427.4 344.3,426.8 347.8,424.4 351.3,426.2 356,425 359.1,422.7 363.2,428 366.1,435 369.6,433.8 372.5,437.3 376.6,446.7 380.1,447.8 383.7,439.6 387.7,432.6 392.4,423.3 396.5,415.7 400,414.5 403,417.4 407.6,417.4 412.3,420.4 417,426.8 421.7,435 426.3,440.2 431,439.6 432.9,435 435.8,431.5 439.4,432.6 442.9,433.8 446.4,439.6 449.9,450.5 454.6,459.9 459.2,468.1 463.9,473.9 467.4,475.7 469.8,476.3 472.7,479.2 475.6,471.6 479.1,466.9 483.8,459.9 487.3,455.2 490.8,447 493.7,450.5 497.8,456.4 502.5,464.6 505,468.1 509.1,476.3 513.2,469.2 517.3,464 521.4,463.4 526.6,464 530.7,470.4 535.4,476.3 538.9,475.7 542.4,469.2 545.9,461.1 549.4,449.4 553,435 556.5,428 560.6,425 564.1,423.3 568.2,428 571.7,430.9 575.3,426.9 578.8,417.7 581.4,415.1 584,412.5 587.1,408.1 589.7,408.1 593.2,412 596.8,409.4 599.8,414.6 602.9,416 608,417.5 612,418.5" fill="none" stroke="#d4561e" stroke-width="2.1" stroke-linejoin="round"/>
<polyline points="99,411.6 102,411.1 105.5,414 109,408.7 113.6,407.5 118.3,404.6 124.2,401.7 128.9,411.1 131.8,418.1 134.7,433.3 138.2,446.1 141.7,448.5 145.2,442.6 148.7,430.9 151.6,415.7 154.6,404 157.5,399.9 161,401.1 165.1,401.1 168.6,408.7 171.5,416.3 175.6,415.1 179.7,414.6 183.2,419.8 186.7,426.3 189.6,421.6 193.7,426.3 197.3,433.9 200.8,429.8 203.7,433.3 207.2,441.5 210.8,450.2 215.5,452 219,463.7 223.7,461.3 228.4,453.2 233.1,447.3 237.2,445.6 240.1,447.3 242.4,454.3 245.4,460.2 249.4,456.7 254.1,446.1 258.8,436.2 263.5,426.8 267,438 270.5,449.6 274.6,460.8 279.9,457.8 284.7,451.3 289.4,440.8 293.5,432 298.7,428.5 305.7,425.6 311.6,419.8 316.3,416.3 319.8,414.5 323.3,410.4 326.8,408.1 330.3,413.9 333.8,419.8 337.3,420.9 340.8,419.2 344.3,412.7 347.8,406.9 352.5,402.8 356.6,400.5 358.5,400.5 360.3,402.8 362,410.4 364.4,418.6 366.7,425.6 370.2,430.3 372.5,437.3 376.1,446.7 379.6,448.4 383.1,444.3 386.6,440.8 391.3,436.1 395.9,431.5 399.4,428.5 404.1,430.3 408.8,428.5 414.6,431.5 420.5,436.1 425.2,442 431,442 433.5,438.5 437,435.6 441.7,437.3 445.2,439.6 447.5,448.2 452.2,459.9 456.9,470.4 461.6,476.3 465.1,479.2 469.2,478 472.7,480.9 476.8,471 481.5,464.6 486.1,458.7 490.8,451.7 495.5,456.4 500.2,464.6 504.9,473.9 509.1,482.1 513.2,477.4 517.9,471 522.5,472.7 527.2,474.5 531.9,483.9 536,489.1 540.1,486.8 543.6,479.8 547.1,472.7 549.4,461.1 551.2,447.8 554.7,438.5 558.8,432 563.5,424.4 568.2,428.5 571.7,431.5 574.8,425.6 577.9,416 579.6,413.8 582.3,411.6 585.4,405 588.4,404.6 590.6,405.4 593.2,408.5 596.8,405.9 598.9,409.8 601.1,414.2 605.1,416 608.6,417.3 612.1,418.2 613.9,426.5 615.6,440 616.7,441.3 619.1,444.1" fill="none" stroke="#8e1a9c" stroke-width="2.1" stroke-linejoin="round"/>
<polyline points="55.2,422.7 58.7,424.5 63.4,422.2 69.2,420.2 74.5,418.1 78.6,417.5 82.1,420.6 87.9,420.6 97.3,420.4 102,422.2 106.6,424.9 112.5,424.2 119.5,422.7 124.2,423.9 128.9,426.8 134,432.1 137,435.6 141.7,433.9 146.4,431.9 151.1,425.1 156.9,418.7 163.9,415.1 169.8,417.5 176.8,418.7 182.6,418.7 188.5,421 193.2,423.3 197.8,430.9 202.5,436.8 207.2,442.6 209.7,446.1 214.4,440.3 219,436.2 224.3,432.7 229.6,428.6 235.4,428.6 238.9,428.6 243.6,435 248.3,439.1 253,441.5 257.6,439.7 262.3,433.9 267,430.9 272.8,429.2 279.9,427.4 284.1,430.3 288.2,426.8 294,426.2 299.9,423.3 305.7,418.6 310.4,415.1 316.3,415.7 322.1,415.7 329.1,415.1 335,410.4 340.8,413.3 346.7,416.3 352.5,415.7 359.7,411 364.4,407.5 370.2,405.7 374.3,408.1 376.6,413.9 378.4,426.8 380.1,440.8 381.9,451.3 384,466.1 387.2,480.6 390.4,488.6 394.5,485.4 396.9,470.9 399.3,456.4 401.8,444.3 404.1,435 406.5,428 410,426.8 414.6,430.3 418.7,430.3 422.8,426.8 427.5,423.9 432.2,422.7 434.7,422.1 439.4,425 442.3,430.3 444,438.5 446.4,451.7 449.3,462.2 453.4,477.4 457.5,495 460.4,510.8 463.9,500.2 468.6,499.6 472.1,491.5 475.6,482.1 479.1,471.6 483.8,459.9 486.1,458.1 488.5,471.6 490.8,480.9 493.7,490.3 496.7,507.8 500.2,502 503.7,499.6 506,480.9 508.4,463.4 511.4,440.8 514.9,437.3 519,436.1 522.5,430.3 526.1,427.4 530.1,426.2 533.1,413.3" fill="none" stroke="#1a24b8" stroke-width="1.8" stroke-linejoin="round"/>
<path d="M83 537.5 H107" stroke="#1a24b8" stroke-width="1.8"/>
<path d="M83 554.3 H107" stroke="#c8d0e0" stroke-width="1"/>
<path d="M85 595.3 H109" stroke="#8e1a9c" stroke-width="1.8"/>
<path d="M85 607.9 H109" stroke="#c8331e" stroke-width="1.8"/>
<text x="114" y="542" font-size="12.5" stroke="#000" stroke-width="0.2">5-yr smoothed</text>
<text x="114" y="558.8" font-size="12.5" stroke="#000" stroke-width="0.2">1-yr annualized</text>
<text x="86" y="583" font-size="12.5" stroke="#000" stroke-width="0.2">SST anomaly (<tspan font-size="8.5" dy="-4">o</tspan><tspan dy="4">C)</tspan></text>
<path d="M86 584.6 H188" stroke="#444" stroke-width="0.9"/>
<text x="113.5" y="599.8" font-size="12.5" stroke="#000" stroke-width="0.2">ERSSST</text>
<text x="113.5" y="612.9" font-size="12.5" stroke="#000" stroke-width="0.2">HadSSTv1.1</text>
</svg></body></html>
